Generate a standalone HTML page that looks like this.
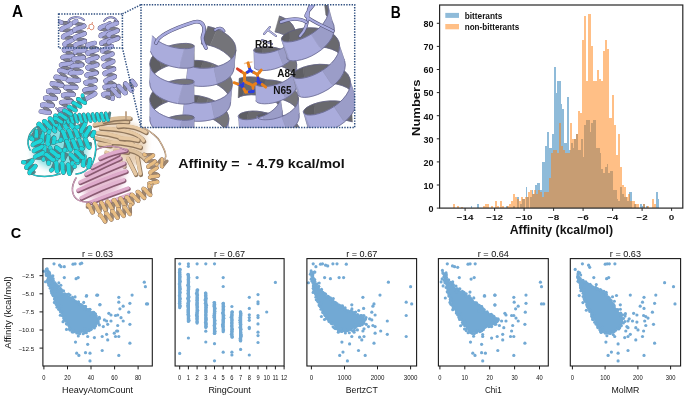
<!DOCTYPE html>
<html><head><meta charset="utf-8"><style>
html,body{margin:0;padding:0;background:#fff;width:686px;height:397px;overflow:hidden}
svg{display:block;filter:blur(0.35px)}
</style></head><body>
<svg width="686" height="397" viewBox="0 0 686 397">
<rect width="686" height="397" fill="#fff"/>
<defs><filter id="blur3" x="-20%" y="-20%" width="140%" height="140%"><feGaussianBlur stdDeviation="3"/></filter></defs>
<path d="M98,127 C112,121 132,121 141,130 C150,140 145,156 139,165 C130,168 120,160 114,153 C106,146 98,138 98,127Z" fill="#e6cfb4" filter="url(#blur3)"/>
<path d="M94.3,124.7 Q111,120 127.6,121.5" fill="none" stroke="#8f765c" stroke-width="4.4" stroke-linecap="round" transform="translate(0.6,1.0)"/><path d="M94.3,124.7 Q111,120 127.6,121.5" fill="none" stroke="#dcc09c" stroke-width="3.4" stroke-linecap="round"/>
<path d="M100.6,127.9 Q137,129.5 143.5,140.6" fill="none" stroke="#8f765c" stroke-width="4.4" stroke-linecap="round" transform="translate(0.6,1.0)"/><path d="M100.6,127.9 Q137,129.5 143.5,140.6" fill="none" stroke="#e6c8a2" stroke-width="3.4" stroke-linecap="round"/>
<path d="M97.5,132.6 Q119.7,134.2 132.4,143.7" fill="none" stroke="#8f765c" stroke-width="4.4" stroke-linecap="round" transform="translate(0.6,1.0)"/><path d="M97.5,132.6 Q119.7,134.2 132.4,143.7" fill="none" stroke="#e6c8a2" stroke-width="3.4" stroke-linecap="round"/>
<path d="M94.3,137.4 L111.7,142.2" fill="none" stroke="#8f765c" stroke-width="4.4" stroke-linecap="round" transform="translate(0.6,1.0)"/><path d="M94.3,137.4 L111.7,142.2" fill="none" stroke="#dcc09c" stroke-width="3.4" stroke-linecap="round"/>
<path d="M111.7,142.2 Q126,142 140.3,146.9" fill="none" stroke="#8f765c" stroke-width="4.4" stroke-linecap="round" transform="translate(0.6,1.0)"/><path d="M111.7,142.2 Q126,142 140.3,146.9" fill="none" stroke="#e6c8a2" stroke-width="3.4" stroke-linecap="round"/>
<path d="M99,143.7 L110.2,145.3" fill="none" stroke="#8f765c" stroke-width="4.4" stroke-linecap="round" transform="translate(0.6,1.0)"/><path d="M99,143.7 L110.2,145.3" fill="none" stroke="#e6c8a2" stroke-width="3.4" stroke-linecap="round"/>
<path d="M114.9,150.1 L127.6,151.7" fill="none" stroke="#8f765c" stroke-width="4.4" stroke-linecap="round" transform="translate(0.6,1.0)"/><path d="M114.9,150.1 L127.6,151.7" fill="none" stroke="#dcc09c" stroke-width="3.4" stroke-linecap="round"/>
<path d="M127.6,158 L135.6,173.9" fill="none" stroke="#8f765c" stroke-width="4.4" stroke-linecap="round" transform="translate(0.6,1.0)"/><path d="M127.6,158 L135.6,173.9" fill="none" stroke="#e6c8a2" stroke-width="3.4" stroke-linecap="round"/>
<path d="M137.1,156.4 L140.3,173.9" fill="none" stroke="#8f765c" stroke-width="4.4" stroke-linecap="round" transform="translate(0.6,1.0)"/><path d="M137.1,156.4 L140.3,173.9" fill="none" stroke="#e6c8a2" stroke-width="3.4" stroke-linecap="round"/>
<path d="M104,121 Q116,117 130,118" fill="none" stroke="#8f765c" stroke-width="4.4" stroke-linecap="round" transform="translate(0.6,1.0)"/><path d="M104,121 Q116,117 130,118" fill="none" stroke="#dcc09c" stroke-width="3.4" stroke-linecap="round"/>
<path d="M118,126 Q132,124 146,132" fill="none" stroke="#8f765c" stroke-width="4.4" stroke-linecap="round" transform="translate(0.6,1.0)"/><path d="M118,126 Q132,124 146,132" fill="none" stroke="#e6c8a2" stroke-width="3.4" stroke-linecap="round"/>
<path d="M106,152 Q118,156 124,166" fill="none" stroke="#8f765c" stroke-width="4.4" stroke-linecap="round" transform="translate(0.6,1.0)"/><path d="M106,152 Q118,156 124,166" fill="none" stroke="#e6c8a2" stroke-width="3.4" stroke-linecap="round"/>
<path d="M130,150 Q140,152 146,160" fill="none" stroke="#8f765c" stroke-width="4.4" stroke-linecap="round" transform="translate(0.6,1.0)"/><path d="M130,150 Q140,152 146,160" fill="none" stroke="#dcc09c" stroke-width="3.4" stroke-linecap="round"/>
<path d="M120,138 Q130,138 138,140" fill="none" stroke="#8f765c" stroke-width="4.4" stroke-linecap="round" transform="translate(0.6,1.0)"/><path d="M120,138 Q130,138 138,140" fill="none" stroke="#e6c8a2" stroke-width="3.4" stroke-linecap="round"/>
<path d="M143.5,127.9 C152,132 158,138 159.4,140.6 C164,148 166,152 165.7,156.4 C165,160 164,163 162.5,164.4" fill="none" stroke="#8a7060" stroke-width="1.5" stroke-linecap="round" stroke-linejoin="round"/><path d="M143.5,127.9 C152,132 158,138 159.4,140.6 C164,148 166,152 165.7,156.4 C165,160 164,163 162.5,164.4" fill="none" stroke="#e6c8a2" stroke-width="0.9" stroke-linecap="round" stroke-linejoin="round"/>
<path d="M126,112 L126,119.1" fill="none" stroke="#8a7060" stroke-width="1.6" stroke-linecap="round" stroke-linejoin="round"/><path d="M126,112 L126,119.1" fill="none" stroke="#e6c8a2" stroke-width="1.0" stroke-linecap="round" stroke-linejoin="round"/>
<path d="M145.3,154.9L147.5,154.9L150.3,154.7L152.4,154.8L153.3,155.2M146.2,160.8L147.5,161.1L149.9,161.0L152.6,160.9L154.6,160.9L155.1,161.5M148.2,167.0L149.8,167.2L152.3,167.1L155.0,167.0L156.7,167.1L156.9,167.7M150.3,173.2L152.1,173.3L154.8,173.2L157.4,174.3L158.6,175.2L158.0,175.8M149.8,177.3L150.7,178.1L152.9,179.2L155.5,180.3L157.3,181.2L157.5,181.9" fill="none" stroke="#8a7060" stroke-width="3.3" stroke-linecap="round" stroke-linejoin="round"/><path d="M145.3,154.9L147.5,154.9L150.3,154.7L152.4,154.8L153.3,155.2M146.2,160.8L147.5,161.1L149.9,161.0L152.6,160.9L154.6,160.9L155.1,161.5M148.2,167.0L149.8,167.2L152.3,167.1L155.0,167.0L156.7,167.1L156.9,167.7M150.3,173.2L152.1,173.3L154.8,173.2L157.4,174.3L158.6,175.2L158.0,175.8M149.8,177.3L150.7,178.1L152.9,179.2L155.5,180.3L157.3,181.2L157.5,181.9" fill="none" stroke="#9c8670" stroke-width="2.6" stroke-linecap="round" stroke-linejoin="round"/><path d="M144.3,154.5L145.3,154.9M153.3,155.2L152.5,156.1L150.5,157.4L148.2,158.8L146.5,160.0L146.2,160.8M155.1,161.5L154.1,162.5L151.9,163.8L149.7,165.2L148.2,166.3L148.2,167.0M156.9,167.7L155.6,168.8L153.4,170.2L151.2,171.5L150.0,172.6L150.3,173.2M158.0,175.8L155.9,176.2L153.1,176.4L150.7,176.7L149.8,177.3M157.5,181.9L155.9,182.4L153.2,182.7L150.5,182.9L149.0,183.4" fill="none" stroke="#8a7060" stroke-width="3.9" stroke-linecap="round" stroke-linejoin="round"/><path d="M144.3,154.5L145.3,154.9M153.3,155.2L152.5,156.1L150.5,157.4L148.2,158.8L146.5,160.0L146.2,160.8M155.1,161.5L154.1,162.5L151.9,163.8L149.7,165.2L148.2,166.3L148.2,167.0M156.9,167.7L155.6,168.8L153.4,170.2L151.2,171.5L150.0,172.6L150.3,173.2M158.0,175.8L155.9,176.2L153.1,176.4L150.7,176.7L149.8,177.3M157.5,181.9L155.9,182.4L153.2,182.7L150.5,182.9L149.0,183.4" fill="none" stroke="#e8bd82" stroke-width="3.2" stroke-linecap="round" stroke-linejoin="round"/>
<path d="M157.3,164.1L158.6,162.5L160.0,160.6L161.2,159.2L162.0,159.0M162.2,166.7L163.2,165.6L164.7,163.7L166.0,162.0L167.0,161.1" fill="none" stroke="#8a7060" stroke-width="3.1" stroke-linecap="round" stroke-linejoin="round"/><path d="M157.3,164.1L158.6,162.5L160.0,160.6L161.2,159.2L162.0,159.0M162.2,166.7L163.2,165.6L164.7,163.7L166.0,162.0L167.0,161.1" fill="none" stroke="#9c8670" stroke-width="2.4" stroke-linecap="round" stroke-linejoin="round"/><path d="M156.4,164.5L157.3,164.1M162.0,159.0L162.1,160.3L161.9,162.5L161.6,164.8L161.6,166.4L162.2,166.7" fill="none" stroke="#8a7060" stroke-width="3.7" stroke-linecap="round" stroke-linejoin="round"/><path d="M156.4,164.5L157.3,164.1M162.0,159.0L162.1,160.3L161.9,162.5L161.6,164.8L161.6,166.4L162.2,166.7" fill="none" stroke="#e8bd82" stroke-width="3.0" stroke-linecap="round" stroke-linejoin="round"/>
<path d="M153,184 C152,188 151,189 151.4,189.6" fill="none" stroke="#8a7060" stroke-width="1.5" stroke-linecap="round" stroke-linejoin="round"/><path d="M153,184 C152,188 151,189 151.4,189.6" fill="none" stroke="#e8bd82" stroke-width="0.9" stroke-linecap="round" stroke-linejoin="round"/>
<path d="M82,185 C86,172 98,162 114,158 C123,158 126,166 124,177 C122,188 114,195 100,200 C91,201 82,195 82,185Z" fill="#e6c0d4" filter="url(#blur3)"/>
<path d="M81.2,197.8 Q102,187 123.7,179.8" fill="none" stroke="#8a5a72" stroke-width="4.4" stroke-linecap="round" transform="translate(0.6,1.0)"/><path d="M81.2,197.8 Q102,187 123.7,179.8" fill="none" stroke="#e2b4d0" stroke-width="3.4" stroke-linecap="round"/>
<path d="M78,190 Q100,180 126,171" fill="none" stroke="#8a5a72" stroke-width="4.4" stroke-linecap="round" transform="translate(0.6,1.0)"/><path d="M78,190 Q100,180 126,171" fill="none" stroke="#deaacb" stroke-width="3.4" stroke-linecap="round"/>
<path d="M80,182 Q102,172 124,163" fill="none" stroke="#8a5a72" stroke-width="4.4" stroke-linecap="round" transform="translate(0.6,1.0)"/><path d="M80,182 Q102,172 124,163" fill="none" stroke="#e2b4d0" stroke-width="3.4" stroke-linecap="round"/>
<path d="M86,174 Q104,165 120,158" fill="none" stroke="#8a5a72" stroke-width="4.4" stroke-linecap="round" transform="translate(0.6,1.0)"/><path d="M86,174 Q104,165 120,158" fill="none" stroke="#deaacb" stroke-width="3.4" stroke-linecap="round"/>
<path d="M92,167 Q106,160 118,154" fill="none" stroke="#8a5a72" stroke-width="4.4" stroke-linecap="round" transform="translate(0.6,1.0)"/><path d="M92,167 Q106,160 118,154" fill="none" stroke="#e2b4d0" stroke-width="3.4" stroke-linecap="round"/>
<path d="M88,203 Q108,195 128,188" fill="none" stroke="#8a5a72" stroke-width="4.4" stroke-linecap="round" transform="translate(0.6,1.0)"/><path d="M88,203 Q108,195 128,188" fill="none" stroke="#deaacb" stroke-width="3.4" stroke-linecap="round"/>
<path d="M98,206 Q114,200 130,194" fill="none" stroke="#8a5a72" stroke-width="4.4" stroke-linecap="round" transform="translate(0.6,1.0)"/><path d="M98,206 Q114,200 130,194" fill="none" stroke="#e2b4d0" stroke-width="3.4" stroke-linecap="round"/>
<path d="M100,158 Q112,152 126,150" fill="none" stroke="#8a5a72" stroke-width="4.4" stroke-linecap="round" transform="translate(0.6,1.0)"/><path d="M100,158 Q112,152 126,150" fill="none" stroke="#deaacb" stroke-width="3.4" stroke-linecap="round"/>
<path d="M76,178 C70,188 72,196 78,200 C84,204 90,200 92,204" fill="none" stroke="#8a6678" stroke-width="1.5" stroke-linecap="round" stroke-linejoin="round"/><path d="M76,178 C70,188 72,196 78,200 C84,204 90,200 92,204" fill="none" stroke="#deaacb" stroke-width="0.9" stroke-linecap="round" stroke-linejoin="round"/>
<path d="M96,150 C106,144 118,146 126,150" fill="none" stroke="#8a6678" stroke-width="1.4" stroke-linecap="round" stroke-linejoin="round"/><path d="M96,150 C106,144 118,146 126,150" fill="none" stroke="#deaacb" stroke-width="0.8" stroke-linecap="round" stroke-linejoin="round"/>
<path d="M33,141 C36,129 52,124 68,126 C82,129 88,141 87,154 C85,164 76,170 63,170 C49,170 36,165 33,154Z" fill="#8adfe2" filter="url(#blur3)"/>
<path d="M30,150 C26,142 28,132 38,126 M28,162 C26,170 30,175 38,176 C46,177 54,176 60,174 M76,174 C82,174 88,170 90,165" fill="none" stroke="#3f7378" stroke-width="1.6" stroke-linecap="round" stroke-linejoin="round"/><path d="M30,150 C26,142 28,132 38,126 M28,162 C26,170 30,175 38,176 C46,177 54,176 60,174 M76,174 C82,174 88,170 90,165" fill="none" stroke="#1cd6da" stroke-width="1.0" stroke-linecap="round" stroke-linejoin="round"/>
<path d="M92,132 C98,145 96,158 90,168" fill="none" stroke="#3f7378" stroke-width="1.6" stroke-linecap="round" stroke-linejoin="round"/><path d="M92,132 C98,145 96,158 90,168" fill="none" stroke="#1cd6da" stroke-width="1.0" stroke-linecap="round" stroke-linejoin="round"/>
<path d="M50,158 L70,148 M48,144 L72,138 M56,154 L80,146" fill="none" stroke="#3f7378" stroke-width="3.0" stroke-linecap="round" stroke-linejoin="round"/><path d="M50,158 L70,148 M48,144 L72,138 M56,154 L80,146" fill="none" stroke="#1cd6da" stroke-width="2.4" stroke-linecap="round" stroke-linejoin="round"/>
<path d="M149.2,186.7L149.6,189.1L150.3,191.8L150.6,194.1L150.4,195.0M143.4,188.7L143.3,190.0L143.8,192.5L144.5,195.2L144.7,197.3L144.3,198.0M137.5,191.7L137.5,193.3L138.0,195.9L138.6,198.6L138.8,200.5L138.3,200.9M131.5,194.9L131.7,196.6L132.2,199.3L132.8,201.9L132.9,203.6L132.2,203.8M126.4,197.3L126.2,199.2L126.1,202.0L126.0,204.6L125.7,206.1L125.0,206.0M120.0,198.9L119.7,200.8L119.7,203.5L119.6,206.1L119.2,207.6L118.5,207.4M113.5,200.4L113.3,202.4L113.2,205.1L113.1,207.7L112.8,209.1L112.1,208.9M107.1,201.9L107.0,203.9L106.8,206.8L106.5,209.3L106.0,210.6L105.2,210.1M101.2,202.5L100.7,203.5L100.4,205.9L100.2,208.8L99.9,211.0L99.3,211.7M94.5,203.7L94.0,205.2L93.8,207.9L93.6,210.7L93.2,212.5L92.5,212.6M87.8,205.1L87.4,207.1" fill="none" stroke="#8a7060" stroke-width="3.4" stroke-linecap="round" stroke-linejoin="round"/><path d="M149.2,186.7L149.6,189.1L150.3,191.8L150.6,194.1L150.4,195.0M143.4,188.7L143.3,190.0L143.8,192.5L144.5,195.2L144.7,197.3L144.3,198.0M137.5,191.7L137.5,193.3L138.0,195.9L138.6,198.6L138.8,200.5L138.3,200.9M131.5,194.9L131.7,196.6L132.2,199.3L132.8,201.9L132.9,203.6L132.2,203.8M126.4,197.3L126.2,199.2L126.1,202.0L126.0,204.6L125.7,206.1L125.0,206.0M120.0,198.9L119.7,200.8L119.7,203.5L119.6,206.1L119.2,207.6L118.5,207.4M113.5,200.4L113.3,202.4L113.2,205.1L113.1,207.7L112.8,209.1L112.1,208.9M107.1,201.9L107.0,203.9L106.8,206.8L106.5,209.3L106.0,210.6L105.2,210.1M101.2,202.5L100.7,203.5L100.4,205.9L100.2,208.8L99.9,211.0L99.3,211.7M94.5,203.7L94.0,205.2L93.8,207.9L93.6,210.7L93.2,212.5L92.5,212.6M87.8,205.1L87.4,207.1" fill="none" stroke="#9c8670" stroke-width="2.7" stroke-linecap="round" stroke-linejoin="round"/><path d="M149.4,185.7L149.2,186.7M150.4,195.0L149.3,194.4L147.7,192.6L145.8,190.5L144.3,188.9L143.4,188.7M144.3,198.0L143.2,197.2L141.5,195.2L139.7,193.1L138.2,191.7L137.5,191.7M138.3,200.9L137.0,199.9L135.3,197.8L133.5,195.8L132.1,194.6L131.5,194.9M132.2,203.8L130.9,202.5L129.1,200.4L128.0,198.2L127.0,197.0L126.4,197.3M125.0,206.0L123.9,204.4L122.7,201.9L121.5,199.6L120.5,198.4L120.0,198.9M118.5,207.4L117.5,205.8L116.2,203.3L115.0,201.0L114.1,199.9L113.5,200.4M112.1,208.9L111.0,207.2L109.7,204.7L108.5,202.5L107.6,201.4L107.1,201.9M105.2,210.1L104.2,208.1L103.1,205.4L102.0,203.2L101.2,202.5M99.3,211.7L98.4,210.6L97.3,208.3L96.2,205.7L95.2,203.9L94.5,203.7M92.5,212.6L91.6,211.1L90.5,208.6L89.3,206.1L88.4,204.7L87.8,205.1" fill="none" stroke="#8a7060" stroke-width="4.1" stroke-linecap="round" stroke-linejoin="round"/><path d="M149.4,185.7L149.2,186.7M150.4,195.0L149.3,194.4L147.7,192.6L145.8,190.5L144.3,188.9L143.4,188.7M144.3,198.0L143.2,197.2L141.5,195.2L139.7,193.1L138.2,191.7L137.5,191.7M138.3,200.9L137.0,199.9L135.3,197.8L133.5,195.8L132.1,194.6L131.5,194.9M132.2,203.8L130.9,202.5L129.1,200.4L128.0,198.2L127.0,197.0L126.4,197.3M125.0,206.0L123.9,204.4L122.7,201.9L121.5,199.6L120.5,198.4L120.0,198.9M118.5,207.4L117.5,205.8L116.2,203.3L115.0,201.0L114.1,199.9L113.5,200.4M112.1,208.9L111.0,207.2L109.7,204.7L108.5,202.5L107.6,201.4L107.1,201.9M105.2,210.1L104.2,208.1L103.1,205.4L102.0,203.2L101.2,202.5M99.3,211.7L98.4,210.6L97.3,208.3L96.2,205.7L95.2,203.9L94.5,203.7M92.5,212.6L91.6,211.1L90.5,208.6L89.3,206.1L88.4,204.7L87.8,205.1" fill="none" stroke="#e8bd82" stroke-width="3.4" stroke-linecap="round" stroke-linejoin="round"/>
<path d="M31.4,137.5L32.8,135.6L34.3,133.2L35.6,131.4L36.5,131.0M36.5,140.3L37.5,139.3L38.9,137.3L40.4,134.9L41.7,133.3L42.4,133.2M42.4,142.3L43.5,141.1L45.0,138.9L46.5,136.6L47.7,135.3L48.3,135.5M48.4,144.3L49.7,142.8L51.2,140.5L52.6,138.4L53.7,137.3L54.2,137.8" fill="none" stroke="#3f7378" stroke-width="3.7" stroke-linecap="round" stroke-linejoin="round"/><path d="M31.4,137.5L32.8,135.6L34.3,133.2L35.6,131.4L36.5,131.0M36.5,140.3L37.5,139.3L38.9,137.3L40.4,134.9L41.7,133.3L42.4,133.2M42.4,142.3L43.5,141.1L45.0,138.9L46.5,136.6L47.7,135.3L48.3,135.5M48.4,144.3L49.7,142.8L51.2,140.5L52.6,138.4L53.7,137.3L54.2,137.8" fill="none" stroke="#55868a" stroke-width="3.0" stroke-linecap="round" stroke-linejoin="round"/><path d="M30.5,138.1L31.4,137.5M36.5,131.0L36.7,132.1L36.5,134.6L36.1,137.4L36.0,139.5L36.5,140.3M42.4,133.2L42.5,134.7L42.3,137.3L41.9,140.0L41.9,141.9L42.4,142.3M48.3,135.5L48.3,137.3L48.0,140.0L47.7,142.6L47.8,144.3L48.4,144.3M54.2,137.8L54.1,139.9L53.8,142.7" fill="none" stroke="#3f7378" stroke-width="4.5" stroke-linecap="round" stroke-linejoin="round"/><path d="M30.5,138.1L31.4,137.5M36.5,131.0L36.7,132.1L36.5,134.6L36.1,137.4L36.0,139.5L36.5,140.3M42.4,133.2L42.5,134.7L42.3,137.3L41.9,140.0L41.9,141.9L42.4,142.3M48.3,135.5L48.3,137.3L48.0,140.0L47.7,142.6L47.8,144.3L48.4,144.3M54.2,137.8L54.1,139.9L53.8,142.7" fill="none" stroke="#1cd6da" stroke-width="3.8" stroke-linecap="round" stroke-linejoin="round"/>
<path d="M49.3,131.3L49.5,129.0L49.6,126.2L49.8,123.9L50.3,123.1M55.0,131.1L55.4,129.9L55.6,127.4L55.7,124.6L55.9,122.5L56.5,121.9M61.2,129.8L61.5,128.4L61.7,125.7L61.8,123.0L62.1,121.1L62.7,120.9M67.4,128.5L67.7,126.8L67.8,124.1L67.9,121.4L68.2,119.8L68.9,119.8M73.5,127.2L73.8,125.2L73.9,122.4" fill="none" stroke="#3f7378" stroke-width="3.7" stroke-linecap="round" stroke-linejoin="round"/><path d="M49.3,131.3L49.5,129.0L49.6,126.2L49.8,123.9L50.3,123.1M55.0,131.1L55.4,129.9L55.6,127.4L55.7,124.6L55.9,122.5L56.5,121.9M61.2,129.8L61.5,128.4L61.7,125.7L61.8,123.0L62.1,121.1L62.7,120.9M67.4,128.5L67.7,126.8L67.8,124.1L67.9,121.4L68.2,119.8L68.9,119.8M73.5,127.2L73.8,125.2L73.9,122.4" fill="none" stroke="#55868a" stroke-width="3.0" stroke-linecap="round" stroke-linejoin="round"/><path d="M48.8,132.3L49.3,131.3M50.3,123.1L51.1,124.0L52.1,126.1L53.3,128.7L54.3,130.6L55.0,131.1M56.5,121.9L57.3,123.1L58.4,125.4L59.5,127.9L60.5,129.7L61.2,129.8M62.7,120.9L63.6,122.2L64.7,124.7L65.8,127.1L66.7,128.6L67.4,128.5M68.9,119.8L69.8,121.4L71.0,123.9L72.1,126.3L73.0,127.6L73.5,127.2" fill="none" stroke="#3f7378" stroke-width="4.5" stroke-linecap="round" stroke-linejoin="round"/><path d="M48.8,132.3L49.3,131.3M50.3,123.1L51.1,124.0L52.1,126.1L53.3,128.7L54.3,130.6L55.0,131.1M56.5,121.9L57.3,123.1L58.4,125.4L59.5,127.9L60.5,129.7L61.2,129.8M62.7,120.9L63.6,122.2L64.7,124.7L65.8,127.1L66.7,128.6L67.4,128.5M68.9,119.8L69.8,121.4L71.0,123.9L72.1,126.3L73.0,127.6L73.5,127.2" fill="none" stroke="#1cd6da" stroke-width="3.8" stroke-linecap="round" stroke-linejoin="round"/>
<path d="M61.0,139.5L61.4,137.2L61.7,134.4L62.1,132.1L62.6,131.3M66.7,139.7L67.2,138.7L67.6,136.3L67.9,133.5L68.2,131.4L68.8,130.6M72.9,138.9L73.4,137.9L73.7,135.5L74.0,132.7L74.4,130.6L75.0,129.9M79.1,138.2L79.6,137.1L79.9,134.6L80.2,131.9L80.6,129.8L81.2,129.2M85.3,137.5L85.7,136.2L86.1,133.8" fill="none" stroke="#3f7378" stroke-width="3.7" stroke-linecap="round" stroke-linejoin="round"/><path d="M61.0,139.5L61.4,137.2L61.7,134.4L62.1,132.1L62.6,131.3M66.7,139.7L67.2,138.7L67.6,136.3L67.9,133.5L68.2,131.4L68.8,130.6M72.9,138.9L73.4,137.9L73.7,135.5L74.0,132.7L74.4,130.6L75.0,129.9M79.1,138.2L79.6,137.1L79.9,134.6L80.2,131.9L80.6,129.8L81.2,129.2M85.3,137.5L85.7,136.2L86.1,133.8" fill="none" stroke="#55868a" stroke-width="3.0" stroke-linecap="round" stroke-linejoin="round"/><path d="M60.5,140.4L61.0,139.5M62.6,131.3L63.3,132.1L64.2,134.2L65.1,136.9L66.0,139.0L66.7,139.7M68.8,130.6L69.5,131.5L70.4,133.7L71.3,136.3L72.2,138.3L72.9,138.9M75.0,129.9L75.7,130.8L76.6,133.1L77.5,135.7L78.4,137.7L79.1,138.2M81.2,129.2L81.9,130.2L82.8,132.5L83.7,135.1L84.6,137.0L85.3,137.5" fill="none" stroke="#3f7378" stroke-width="4.5" stroke-linecap="round" stroke-linejoin="round"/><path d="M60.5,140.4L61.0,139.5M62.6,131.3L63.3,132.1L64.2,134.2L65.1,136.9L66.0,139.0L66.7,139.7M68.8,130.6L69.5,131.5L70.4,133.7L71.3,136.3L72.2,138.3L72.9,138.9M75.0,129.9L75.7,130.8L76.6,133.1L77.5,135.7L78.4,137.7L79.1,138.2M81.2,129.2L81.9,130.2L82.8,132.5L83.7,135.1L84.6,137.0L85.3,137.5" fill="none" stroke="#1cd6da" stroke-width="3.8" stroke-linecap="round" stroke-linejoin="round"/>
<path d="M39.8,153.6L40.9,151.6L42.1,149.1L43.2,147.1L44.0,146.4M45.1,155.7L45.9,155.0L47.0,153.0L48.2,150.5L49.3,148.5L50.1,147.8M51.1,157.1L51.9,156.4L53.0,154.3L54.2,151.8L55.3,149.8L56.1,149.2M57.2,158.5L58.0,157.8L59.1,155.7L60.3,153.2L61.4,151.2L62.2,150.6M63.2,159.9L64.0,159.1L65.1,157.1L66.3,154.6" fill="none" stroke="#3f7378" stroke-width="3.7" stroke-linecap="round" stroke-linejoin="round"/><path d="M39.8,153.6L40.9,151.6L42.1,149.1L43.2,147.1L44.0,146.4M45.1,155.7L45.9,155.0L47.0,153.0L48.2,150.5L49.3,148.5L50.1,147.8M51.1,157.1L51.9,156.4L53.0,154.3L54.2,151.8L55.3,149.8L56.1,149.2M57.2,158.5L58.0,157.8L59.1,155.7L60.3,153.2L61.4,151.2L62.2,150.6M63.2,159.9L64.0,159.1L65.1,157.1L66.3,154.6" fill="none" stroke="#55868a" stroke-width="3.0" stroke-linecap="round" stroke-linejoin="round"/><path d="M39.0,154.3L39.8,153.6M44.0,146.4L44.4,147.4L44.5,149.7L44.5,152.5L44.6,154.7L45.1,155.7M50.1,147.8L50.5,148.8L50.6,151.1L50.6,153.9L50.7,156.1L51.1,157.1M56.1,149.2L56.5,150.2L56.6,152.5L56.6,155.3L56.7,157.6L57.2,158.5M62.2,150.6L62.6,151.6L62.7,153.9L62.7,156.7L62.8,159.0L63.2,159.9" fill="none" stroke="#3f7378" stroke-width="4.5" stroke-linecap="round" stroke-linejoin="round"/><path d="M39.0,154.3L39.8,153.6M44.0,146.4L44.4,147.4L44.5,149.7L44.5,152.5L44.6,154.7L45.1,155.7M50.1,147.8L50.5,148.8L50.6,151.1L50.6,153.9L50.7,156.1L51.1,157.1M56.1,149.2L56.5,150.2L56.6,152.5L56.6,155.3L56.7,157.6L57.2,158.5M62.2,150.6L62.6,151.6L62.7,153.9L62.7,156.7L62.8,159.0L63.2,159.9" fill="none" stroke="#1cd6da" stroke-width="3.8" stroke-linecap="round" stroke-linejoin="round"/>
<path d="M65.0,149.5L65.4,147.2L65.7,144.4L66.1,142.1L66.6,141.3M70.7,149.7L71.2,148.7L71.6,146.3L71.9,143.5L72.2,141.4L72.8,140.6M76.9,148.9L77.4,147.9L77.7,145.5L78.0,142.7L78.4,140.6L79.0,139.9M83.1,148.2L83.6,147.1L83.9,144.6L84.2,141.9L84.6,139.8L85.2,139.2M89.3,147.5L89.7,146.2L90.1,143.8" fill="none" stroke="#3f7378" stroke-width="3.7" stroke-linecap="round" stroke-linejoin="round"/><path d="M65.0,149.5L65.4,147.2L65.7,144.4L66.1,142.1L66.6,141.3M70.7,149.7L71.2,148.7L71.6,146.3L71.9,143.5L72.2,141.4L72.8,140.6M76.9,148.9L77.4,147.9L77.7,145.5L78.0,142.7L78.4,140.6L79.0,139.9M83.1,148.2L83.6,147.1L83.9,144.6L84.2,141.9L84.6,139.8L85.2,139.2M89.3,147.5L89.7,146.2L90.1,143.8" fill="none" stroke="#55868a" stroke-width="3.0" stroke-linecap="round" stroke-linejoin="round"/><path d="M64.5,150.4L65.0,149.5M66.6,141.3L67.3,142.1L68.2,144.2L69.1,146.9L70.0,149.0L70.7,149.7M72.8,140.6L73.5,141.5L74.4,143.7L75.3,146.3L76.2,148.3L76.9,148.9M79.0,139.9L79.7,140.8L80.6,143.1L81.5,145.7L82.4,147.7L83.1,148.2M85.2,139.2L85.9,140.2L86.8,142.5L87.7,145.1L88.6,147.0L89.3,147.5" fill="none" stroke="#3f7378" stroke-width="4.5" stroke-linecap="round" stroke-linejoin="round"/><path d="M64.5,150.4L65.0,149.5M66.6,141.3L67.3,142.1L68.2,144.2L69.1,146.9L70.0,149.0L70.7,149.7M72.8,140.6L73.5,141.5L74.4,143.7L75.3,146.3L76.2,148.3L76.9,148.9M79.0,139.9L79.7,140.8L80.6,143.1L81.5,145.7L82.4,147.7L83.1,148.2M85.2,139.2L85.9,140.2L86.8,142.5L87.7,145.1L88.6,147.0L89.3,147.5" fill="none" stroke="#1cd6da" stroke-width="3.8" stroke-linecap="round" stroke-linejoin="round"/>
<path d="M52.0,169.6L53.0,167.6L54.1,165.0L55.1,162.9L55.8,162.2M57.3,171.4L58.1,170.7L59.1,168.6L60.2,166.0L61.2,164.0L62.0,163.3M63.4,172.6L64.2,171.8L65.2,169.7L66.3,167.1L67.3,165.1L68.1,164.5M69.5,173.7L70.3,172.9L71.3,170.7L72.4,168.2L73.4,166.2L74.2,165.6" fill="none" stroke="#3f7378" stroke-width="3.7" stroke-linecap="round" stroke-linejoin="round"/><path d="M52.0,169.6L53.0,167.6L54.1,165.0L55.1,162.9L55.8,162.2M57.3,171.4L58.1,170.7L59.1,168.6L60.2,166.0L61.2,164.0L62.0,163.3M63.4,172.6L64.2,171.8L65.2,169.7L66.3,167.1L67.3,165.1L68.1,164.5M69.5,173.7L70.3,172.9L71.3,170.7L72.4,168.2L73.4,166.2L74.2,165.6" fill="none" stroke="#55868a" stroke-width="3.0" stroke-linecap="round" stroke-linejoin="round"/><path d="M51.2,170.3L52.0,169.6M55.8,162.2L56.3,163.2L56.5,165.5L56.6,168.3L56.9,170.5L57.3,171.4M62.0,163.3L62.4,164.3L62.6,166.6L62.7,169.4L63.0,171.7L63.4,172.6M68.1,164.5L68.5,165.5L68.7,167.8L68.8,170.6L69.1,172.8L69.5,173.7M74.2,165.6L74.6,166.6" fill="none" stroke="#3f7378" stroke-width="4.5" stroke-linecap="round" stroke-linejoin="round"/><path d="M51.2,170.3L52.0,169.6M55.8,162.2L56.3,163.2L56.5,165.5L56.6,168.3L56.9,170.5L57.3,171.4M62.0,163.3L62.4,164.3L62.6,166.6L62.7,169.4L63.0,171.7L63.4,172.6M68.1,164.5L68.5,165.5L68.7,167.8L68.8,170.6L69.1,172.8L69.5,173.7M74.2,165.6L74.6,166.6" fill="none" stroke="#1cd6da" stroke-width="3.8" stroke-linecap="round" stroke-linejoin="round"/>
<path d="M73.0,159.4L74.6,157.6L76.4,155.4L78.0,153.8L78.8,153.5M77.8,162.7L79.0,161.8L80.7,159.8L82.5,157.6L83.8,156.3L84.5,156.5M83.6,165.4L85.0,164.0L86.8,161.9L88.5,159.9L89.7,159.0L90.0,159.6" fill="none" stroke="#3f7378" stroke-width="3.7" stroke-linecap="round" stroke-linejoin="round"/><path d="M73.0,159.4L74.6,157.6L76.4,155.4L78.0,153.8L78.8,153.5M77.8,162.7L79.0,161.8L80.7,159.8L82.5,157.6L83.8,156.3L84.5,156.5M83.6,165.4L85.0,164.0L86.8,161.9L88.5,159.9L89.7,159.0L90.0,159.6" fill="none" stroke="#55868a" stroke-width="3.0" stroke-linecap="round" stroke-linejoin="round"/><path d="M72.0,159.9L73.0,159.4M78.8,153.5L78.9,154.8L78.4,157.3L77.7,160.1L77.4,162.1L77.8,162.7M84.5,156.5L84.3,158.2L83.7,160.9L83.1,163.6L83.0,165.2L83.6,165.4M90.0,159.6L89.7,161.7L89.0,164.5L88.5,167.0" fill="none" stroke="#3f7378" stroke-width="4.5" stroke-linecap="round" stroke-linejoin="round"/><path d="M72.0,159.9L73.0,159.4M78.8,153.5L78.9,154.8L78.4,157.3L77.7,160.1L77.4,162.1L77.8,162.7M84.5,156.5L84.3,158.2L83.7,160.9L83.1,163.6L83.0,165.2L83.6,165.4M90.0,159.6L89.7,161.7L89.0,164.5L88.5,167.0" fill="none" stroke="#1cd6da" stroke-width="3.8" stroke-linecap="round" stroke-linejoin="round"/>
<path d="M32.6,139.2L34.9,139.5L37.7,139.6L40.0,139.8L40.9,140.3M32.8,144.9L33.8,145.4L36.1,145.6L38.8,145.7L41.1,145.9L42.0,146.4M33.9,151.0L34.9,151.5L37.2,151.7L40.0,151.8L42.2,152.0L43.1,152.5M35.0,157.1L36.0,157.6L38.4,157.8L41.2,157.9L43.4,158.1L44.2,158.6" fill="none" stroke="#3f7378" stroke-width="3.7" stroke-linecap="round" stroke-linejoin="round"/><path d="M32.6,139.2L34.9,139.5L37.7,139.6L40.0,139.8L40.9,140.3M32.8,144.9L33.8,145.4L36.1,145.6L38.8,145.7L41.1,145.9L42.0,146.4M33.9,151.0L34.9,151.5L37.2,151.7L40.0,151.8L42.2,152.0L43.1,152.5M35.0,157.1L36.0,157.6L38.4,157.8L41.2,157.9L43.4,158.1L44.2,158.6" fill="none" stroke="#55868a" stroke-width="3.0" stroke-linecap="round" stroke-linejoin="round"/><path d="M31.7,138.8L32.6,139.2M40.9,140.3L40.2,141.0L38.1,142.0L35.5,143.1L33.5,144.1L32.8,144.9M42.0,146.4L41.2,147.1L39.1,148.2L36.6,149.3L34.6,150.3L33.9,151.0M43.1,152.5L42.3,153.3L40.2,154.3L37.6,155.4L35.6,156.4L35.0,157.1M44.2,158.6L43.4,159.4" fill="none" stroke="#3f7378" stroke-width="4.5" stroke-linecap="round" stroke-linejoin="round"/><path d="M31.7,138.8L32.6,139.2M40.9,140.3L40.2,141.0L38.1,142.0L35.5,143.1L33.5,144.1L32.8,144.9M42.0,146.4L41.2,147.1L39.1,148.2L36.6,149.3L34.6,150.3L33.9,151.0M43.1,152.5L42.3,153.3L40.2,154.3L37.6,155.4L35.6,156.4L35.0,157.1M44.2,158.6L43.4,159.4" fill="none" stroke="#1cd6da" stroke-width="3.8" stroke-linecap="round" stroke-linejoin="round"/>
<path d="M24.3,162.3L26.5,161.7L29.3,160.9L31.4,160.3L32.4,160.5M26.4,167.7L27.7,167.6L30.2,166.9L32.8,166.1L34.9,165.7L35.5,166.0M29.7,173.1L31.2,172.9L33.8,172.1" fill="none" stroke="#3f7378" stroke-width="3.7" stroke-linecap="round" stroke-linejoin="round"/><path d="M24.3,162.3L26.5,161.7L29.3,160.9L31.4,160.3L32.4,160.5M26.4,167.7L27.7,167.6L30.2,166.9L32.8,166.1L34.9,165.7L35.5,166.0M29.7,173.1L31.2,172.9L33.8,172.1" fill="none" stroke="#55868a" stroke-width="3.0" stroke-linecap="round" stroke-linejoin="round"/><path d="M23.2,162.2L24.3,162.3M32.4,160.5L31.8,161.6L30.1,163.3L28.0,165.2L26.6,166.8L26.4,167.7M35.5,166.0L34.7,167.2L32.9,169.0L30.8,170.9L29.6,172.4L29.7,173.1" fill="none" stroke="#3f7378" stroke-width="4.5" stroke-linecap="round" stroke-linejoin="round"/><path d="M23.2,162.2L24.3,162.3M32.4,160.5L31.8,161.6L30.1,163.3L28.0,165.2L26.6,166.8L26.4,167.7M35.5,166.0L34.7,167.2L32.9,169.0L30.8,170.9L29.6,172.4L29.7,173.1" fill="none" stroke="#1cd6da" stroke-width="3.8" stroke-linecap="round" stroke-linejoin="round"/>
<path d="M60.9,114.1L61.3,116.4L61.9,119.2L62.3,121.4L62.1,122.3M55.4,115.8L55.3,117.1L55.8,119.5L56.4,122.3L56.7,124.3L56.4,125.0M49.8,118.6L49.8,120.1L50.3,122.7L50.9,125.4L51.1,127.2L50.6,127.7M44.1,121.4L44.3,123.1L44.9,125.8L45.4,128.4L45.5,130.1L44.9,130.3M38.5,124.3L38.8,126.2L39.4,128.9L39.9,131.5L39.9,132.9" fill="none" stroke="#3f7378" stroke-width="3.7" stroke-linecap="round" stroke-linejoin="round"/><path d="M60.9,114.1L61.3,116.4L61.9,119.2L62.3,121.4L62.1,122.3M55.4,115.8L55.3,117.1L55.8,119.5L56.4,122.3L56.7,124.3L56.4,125.0M49.8,118.6L49.8,120.1L50.3,122.7L50.9,125.4L51.1,127.2L50.6,127.7M44.1,121.4L44.3,123.1L44.9,125.8L45.4,128.4L45.5,130.1L44.9,130.3M38.5,124.3L38.8,126.2L39.4,128.9L39.9,131.5L39.9,132.9" fill="none" stroke="#55868a" stroke-width="3.0" stroke-linecap="round" stroke-linejoin="round"/><path d="M61.1,113.0L60.9,114.1M62.1,122.3L61.1,121.7L59.5,119.9L57.7,117.6L56.2,116.0L55.4,115.8M56.4,125.0L55.2,124.1L53.6,122.2L51.9,120.0L50.5,118.6L49.8,118.6M50.6,127.7L49.4,126.6L47.7,124.5L46.0,122.4L44.7,121.2L44.1,121.4M44.9,130.3L43.6,129.0L41.8,126.8L40.2,124.8L39.0,123.8L38.5,124.3" fill="none" stroke="#3f7378" stroke-width="4.5" stroke-linecap="round" stroke-linejoin="round"/><path d="M61.1,113.0L60.9,114.1M62.1,122.3L61.1,121.7L59.5,119.9L57.7,117.6L56.2,116.0L55.4,115.8M56.4,125.0L55.2,124.1L53.6,122.2L51.9,120.0L50.5,118.6L49.8,118.6M50.6,127.7L49.4,126.6L47.7,124.5L46.0,122.4L44.7,121.2L44.1,121.4M44.9,130.3L43.6,129.0L41.8,126.8L40.2,124.8L39.0,123.8L38.5,124.3" fill="none" stroke="#1cd6da" stroke-width="3.8" stroke-linecap="round" stroke-linejoin="round"/>
<path d="M48.6,162.5L47.7,160.2L46.6,157.6L45.9,155.5L46.0,154.6M53.7,159.8L53.4,158.4L52.5,155.9L51.4,153.3L50.9,151.5L51.3,151.0M58.8,156.0L58.3,154.2L57.2,151.6L56.2,149.1L55.9,147.6L56.6,147.5" fill="none" stroke="#3f7378" stroke-width="3.7" stroke-linecap="round" stroke-linejoin="round"/><path d="M48.6,162.5L47.7,160.2L46.6,157.6L45.9,155.5L46.0,154.6M53.7,159.8L53.4,158.4L52.5,155.9L51.4,153.3L50.9,151.5L51.3,151.0M58.8,156.0L58.3,154.2L57.2,151.6L56.2,149.1L55.9,147.6L56.6,147.5" fill="none" stroke="#55868a" stroke-width="3.0" stroke-linecap="round" stroke-linejoin="round"/><path d="M48.6,163.6L48.6,162.5M46.0,154.6L47.2,155.1L49.1,156.7L51.3,158.6L52.9,159.9L53.7,159.8M51.3,151.0L52.7,151.9L54.8,153.6L56.8,155.4L58.3,156.4L58.8,156.0M56.6,147.5L58.3,148.7L60.4,150.6" fill="none" stroke="#3f7378" stroke-width="4.5" stroke-linecap="round" stroke-linejoin="round"/><path d="M48.6,163.6L48.6,162.5M46.0,154.6L47.2,155.1L49.1,156.7L51.3,158.6L52.9,159.9L53.7,159.8M51.3,151.0L52.7,151.9L54.8,153.6L56.8,155.4L58.3,156.4L58.8,156.0M56.6,147.5L58.3,148.7L60.4,150.6" fill="none" stroke="#1cd6da" stroke-width="3.8" stroke-linecap="round" stroke-linejoin="round"/>
<path d="M72.3,162.8L71.8,160.6L70.9,157.9L70.4,155.7L70.5,154.6M77.6,160.7L77.7,159.7L77.1,157.5L76.3,154.8L75.8,152.6L75.9,151.6M83.0,157.7L83.1,156.6L82.5,154.4L81.7,151.7L81.2,149.5L81.3,148.5" fill="none" stroke="#3f7378" stroke-width="3.7" stroke-linecap="round" stroke-linejoin="round"/><path d="M72.3,162.8L71.8,160.6L70.9,157.9L70.4,155.7L70.5,154.6M77.6,160.7L77.7,159.7L77.1,157.5L76.3,154.8L75.8,152.6L75.9,151.6M83.0,157.7L83.1,156.6L82.5,154.4L81.7,151.7L81.2,149.5L81.3,148.5" fill="none" stroke="#55868a" stroke-width="3.0" stroke-linecap="round" stroke-linejoin="round"/><path d="M72.2,163.8L72.3,162.8M70.5,154.6L71.5,155.1L73.1,156.7L75.0,158.7L76.6,160.3L77.6,160.7M75.9,151.6L76.9,152.0L78.5,153.6L80.4,155.7L82.0,157.3L83.0,157.7M81.3,148.5L82.2,148.9" fill="none" stroke="#3f7378" stroke-width="4.5" stroke-linecap="round" stroke-linejoin="round"/><path d="M72.2,163.8L72.3,162.8M70.5,154.6L71.5,155.1L73.1,156.7L75.0,158.7L76.6,160.3L77.6,160.7M75.9,151.6L76.9,152.0L78.5,153.6L80.4,155.7L82.0,157.3L83.0,157.7M81.3,148.5L82.2,148.9" fill="none" stroke="#1cd6da" stroke-width="3.8" stroke-linecap="round" stroke-linejoin="round"/>
<path d="M77.9,126.9L80.0,125.8L82.4,124.3L84.4,123.2L85.3,123.1M81.3,131.5L82.6,131.2L84.7,130.0L87.1,128.5L88.9,127.5L89.8,127.6M85.8,136.0L87.2,135.5L89.4,134.2L91.7,132.7L93.5,131.8L94.1,132.1" fill="none" stroke="#3f7378" stroke-width="3.7" stroke-linecap="round" stroke-linejoin="round"/><path d="M77.9,126.9L80.0,125.8L82.4,124.3L84.4,123.2L85.3,123.1M81.3,131.5L82.6,131.2L84.7,130.0L87.1,128.5L88.9,127.5L89.8,127.6M85.8,136.0L87.2,135.5L89.4,134.2L91.7,132.7L93.5,131.8L94.1,132.1" fill="none" stroke="#55868a" stroke-width="3.0" stroke-linecap="round" stroke-linejoin="round"/><path d="M76.9,127.1L77.9,126.9M85.3,123.1L85.1,124.2L83.9,126.3L82.4,128.7L81.3,130.7L81.3,131.5M89.8,127.6L89.4,128.9L88.1,131.0L86.6,133.4L85.7,135.2L85.8,136.0M94.1,132.1L93.6,133.5L92.3,135.7" fill="none" stroke="#3f7378" stroke-width="4.5" stroke-linecap="round" stroke-linejoin="round"/><path d="M76.9,127.1L77.9,126.9M85.3,123.1L85.1,124.2L83.9,126.3L82.4,128.7L81.3,130.7L81.3,131.5M89.8,127.6L89.4,128.9L88.1,131.0L86.6,133.4L85.7,135.2L85.8,136.0M94.1,132.1L93.6,133.5L92.3,135.7" fill="none" stroke="#1cd6da" stroke-width="3.8" stroke-linecap="round" stroke-linejoin="round"/>
<path d="M130.2,206.2L130.2,208.4L130.4,211.1L130.4,213.3L130.0,214.2M124.3,207.2L124.0,208.4L124.1,210.8L124.3,213.5L124.2,215.5L123.8,216.1M118.2,209.2L117.9,210.6L118.0,213.1L118.2,215.8L118.1,217.6L117.5,218.0M112.0,211.3L111.8,212.9L112.0,215.5L112.1,218.1L111.9,219.7L111.3,219.8M105.8,213.4L105.7,215.2L105.9,217.9L106.0,220.3L105.8,221.8L105.0,221.6" fill="none" stroke="#8a7060" stroke-width="3.3" stroke-linecap="round" stroke-linejoin="round"/><path d="M130.2,206.2L130.2,208.4L130.4,211.1L130.4,213.3L130.0,214.2M124.3,207.2L124.0,208.4L124.1,210.8L124.3,213.5L124.2,215.5L123.8,216.1M118.2,209.2L117.9,210.6L118.0,213.1L118.2,215.8L118.1,217.6L117.5,218.0M112.0,211.3L111.8,212.9L112.0,215.5L112.1,218.1L111.9,219.7L111.3,219.8M105.8,213.4L105.7,215.2L105.9,217.9L106.0,220.3L105.8,221.8L105.0,221.6" fill="none" stroke="#9c8670" stroke-width="2.6" stroke-linecap="round" stroke-linejoin="round"/><path d="M130.5,205.2L130.2,206.2M130.0,214.2L129.1,213.5L127.8,211.5L126.4,209.2L125.1,207.5L124.3,207.2M123.8,216.1L122.8,215.2L121.4,213.1L120.0,210.8L118.9,209.3L118.2,209.2M117.5,218.0L116.5,216.8L115.1,214.7L113.7,212.4L112.6,211.1L112.0,211.3M111.3,219.8L110.2,218.5L108.8,216.2L107.4,214.1L106.4,213.0L105.8,213.4M105.0,221.6L103.9,220.1L102.5,217.8L101.1,215.7L100.2,214.8L99.7,215.5" fill="none" stroke="#8a7060" stroke-width="3.9" stroke-linecap="round" stroke-linejoin="round"/><path d="M130.5,205.2L130.2,206.2M130.0,214.2L129.1,213.5L127.8,211.5L126.4,209.2L125.1,207.5L124.3,207.2M123.8,216.1L122.8,215.2L121.4,213.1L120.0,210.8L118.9,209.3L118.2,209.2M117.5,218.0L116.5,216.8L115.1,214.7L113.7,212.4L112.6,211.1L112.0,211.3M111.3,219.8L110.2,218.5L108.8,216.2L107.4,214.1L106.4,213.0L105.8,213.4M105.0,221.6L103.9,220.1L102.5,217.8L101.1,215.7L100.2,214.8L99.7,215.5" fill="none" stroke="#e8bd82" stroke-width="3.2" stroke-linecap="round" stroke-linejoin="round"/>
<path d="M61.3,22.5L64.2,22.8L67.5,23.0L70.2,23.3L71.1,23.9M61.6,29.6L63.3,30.1L66.3,30.3L69.7,30.5L72.0,30.9L72.4,31.6M63.2,37.2L65.3,37.6L68.5,37.8L71.7,38.0L73.6,38.5L73.5,39.3M64.9,44.8L67.4,45.2L70.8,45.4L73.7,47.0L74.8,48.0L74.0,48.6M64.6,50.8L67.0,52.0L70.0,53.4L72.5,54.6L73.4,55.6L72.3,56.2M62.5,57.4L63.4,58.4L65.9,59.7L69.0,61.0L71.3,62.2L72.0,63.2M61.1,65.0L62.3,66.0L64.9,67.3L67.9,68.6L70.1,69.8L70.5,70.7M59.3,70.6L60.4,72.1L62.6,74.3L65.0,76.6L66.4,78.3L66.1,79.1M55.6,77.4L56.9,79.1L59.3,81.3L61.5,83.5L62.7,85.1L62.1,85.6M51.9,84.2L53.5,86.1L55.9,88.4L58.2,90.1L59.2,91.3L58.4,91.8M48.5,91.7L50.3,93.3L52.9,95.2L55.2,97.1L56.2,98.3L55.4,98.8M45.4,98.6L47.3,100.2L49.9,102.2L52.2,104.0L53.2,105.3L52.3,105.8M42.4,105.6L44.2,107.2L46.9,109.2L49.2,111.0L50.1,112.3L49.3,112.7" fill="none" stroke="#55557a" stroke-width="3.8" stroke-linecap="round" stroke-linejoin="round"/><path d="M61.3,22.5L64.2,22.8L67.5,23.0L70.2,23.3L71.1,23.9M61.6,29.6L63.3,30.1L66.3,30.3L69.7,30.5L72.0,30.9L72.4,31.6M63.2,37.2L65.3,37.6L68.5,37.8L71.7,38.0L73.6,38.5L73.5,39.3M64.9,44.8L67.4,45.2L70.8,45.4L73.7,47.0L74.8,48.0L74.0,48.6M64.6,50.8L67.0,52.0L70.0,53.4L72.5,54.6L73.4,55.6L72.3,56.2M62.5,57.4L63.4,58.4L65.9,59.7L69.0,61.0L71.3,62.2L72.0,63.2M61.1,65.0L62.3,66.0L64.9,67.3L67.9,68.6L70.1,69.8L70.5,70.7M59.3,70.6L60.4,72.1L62.6,74.3L65.0,76.6L66.4,78.3L66.1,79.1M55.6,77.4L56.9,79.1L59.3,81.3L61.5,83.5L62.7,85.1L62.1,85.6M51.9,84.2L53.5,86.1L55.9,88.4L58.2,90.1L59.2,91.3L58.4,91.8M48.5,91.7L50.3,93.3L52.9,95.2L55.2,97.1L56.2,98.3L55.4,98.8M45.4,98.6L47.3,100.2L49.9,102.2L52.2,104.0L53.2,105.3L52.3,105.8M42.4,105.6L44.2,107.2L46.9,109.2L49.2,111.0L50.1,112.3L49.3,112.7" fill="none" stroke="#80808c" stroke-width="3.1" stroke-linecap="round" stroke-linejoin="round"/><path d="M60.2,21.9L61.3,22.5M71.1,23.9L70.0,24.9L67.3,26.2L64.2,27.5L62.0,28.7L61.6,29.6M72.4,31.6L70.8,32.7L67.9,34.0L64.9,35.3L63.1,36.4L63.2,37.2M73.5,39.3L71.5,40.5L68.5,41.8L65.7,43.1L64.3,44.2L64.9,44.8M74.0,48.6L71.4,48.9L68.1,49.1L65.2,49.3L63.9,49.9L64.6,50.8M72.3,56.2L69.6,56.4L66.3,56.6L63.6,56.8L62.5,57.4M72.0,63.2L70.6,63.7L67.8,63.9L64.4,64.1L61.9,64.4L61.1,65.0M70.5,70.7L68.5,72.3L65.6,71.6L62.4,70.6L60.1,70.1L59.3,70.6M66.1,79.1L64.2,78.8L61.1,77.9L58.0,77.0L56.0,76.7L55.6,77.4M62.1,85.6L59.8,85.2L56.7,84.3L53.7,83.5L51.9,83.4L51.9,84.2M58.4,91.8L56.0,91.6L52.8,91.0L49.8,90.6L48.3,90.7L48.5,91.7M55.4,98.8L52.9,98.6L49.7,98.0L46.8,97.6L45.2,97.7L45.4,98.6M52.3,105.8L49.9,105.5L46.7,105.0L43.8,104.5L42.2,104.7L42.4,105.6M49.3,112.7L46.9,112.5L43.7,111.9L40.8,111.5" fill="none" stroke="#55557a" stroke-width="4.6" stroke-linecap="round" stroke-linejoin="round"/><path d="M60.2,21.9L61.3,22.5M71.1,23.9L70.0,24.9L67.3,26.2L64.2,27.5L62.0,28.7L61.6,29.6M72.4,31.6L70.8,32.7L67.9,34.0L64.9,35.3L63.1,36.4L63.2,37.2M73.5,39.3L71.5,40.5L68.5,41.8L65.7,43.1L64.3,44.2L64.9,44.8M74.0,48.6L71.4,48.9L68.1,49.1L65.2,49.3L63.9,49.9L64.6,50.8M72.3,56.2L69.6,56.4L66.3,56.6L63.6,56.8L62.5,57.4M72.0,63.2L70.6,63.7L67.8,63.9L64.4,64.1L61.9,64.4L61.1,65.0M70.5,70.7L68.5,72.3L65.6,71.6L62.4,70.6L60.1,70.1L59.3,70.6M66.1,79.1L64.2,78.8L61.1,77.9L58.0,77.0L56.0,76.7L55.6,77.4M62.1,85.6L59.8,85.2L56.7,84.3L53.7,83.5L51.9,83.4L51.9,84.2M58.4,91.8L56.0,91.6L52.8,91.0L49.8,90.6L48.3,90.7L48.5,91.7M55.4,98.8L52.9,98.6L49.7,98.0L46.8,97.6L45.2,97.7L45.4,98.6M52.3,105.8L49.9,105.5L46.7,105.0L43.8,104.5L42.2,104.7L42.4,105.6M49.3,112.7L46.9,112.5L43.7,111.9L40.8,111.5" fill="none" stroke="#a8aadf" stroke-width="3.9" stroke-linecap="round" stroke-linejoin="round"/>
<path d="M74.1,22.8L75.9,23.5L79.0,24.1L82.1,24.7L84.1,25.3L84.3,26.1M74.6,30.4L76.5,31.1L79.6,31.7L82.7,32.3L84.6,33.0L84.6,33.7M75.0,38.1L77.1,38.7L80.3,39.3L83.3,39.9L85.1,40.6L84.9,41.4M75.5,45.7L77.7,46.4L80.9,47.0L83.9,47.6L85.6,48.3L85.1,50.2M75.2,52.2L77.4,53.4L80.4,54.8L83.1,56.1L84.3,57.1L83.5,57.7M74.0,59.8L76.3,61.0L79.4,62.4L81.9,63.7L82.9,64.6L81.8,65.2M71.9,66.5L72.8,67.4L75.3,68.7L78.3,70.0L80.7,71.3L81.4,72.2M70.5,73.2L71.5,74.4L73.9,76.1L76.7,77.9L78.7,79.4L78.9,80.3M68.0,80.5L69.2,81.8L71.8,83.5L74.5,85.3L76.3,86.7L76.3,87.6M65.5,87.8L67.0,89.2L69.7,91.0L72.3,92.7L73.9,94.1L73.5,94.8M63.3,95.8L65.3,97.1L68.3,98.6L71.0,100.1L72.1,101.2L71.1,101.8M61.1,102.5L62.0,103.6L64.6,105.0L67.6,106.6L69.8,108.0L70.1,108.9M59.3,110.3L61.0,111.5L63.9,113.0" fill="none" stroke="#55557a" stroke-width="3.8" stroke-linecap="round" stroke-linejoin="round"/><path d="M74.1,22.8L75.9,23.5L79.0,24.1L82.1,24.7L84.1,25.3L84.3,26.1M74.6,30.4L76.5,31.1L79.6,31.7L82.7,32.3L84.6,33.0L84.6,33.7M75.0,38.1L77.1,38.7L80.3,39.3L83.3,39.9L85.1,40.6L84.9,41.4M75.5,45.7L77.7,46.4L80.9,47.0L83.9,47.6L85.6,48.3L85.1,50.2M75.2,52.2L77.4,53.4L80.4,54.8L83.1,56.1L84.3,57.1L83.5,57.7M74.0,59.8L76.3,61.0L79.4,62.4L81.9,63.7L82.9,64.6L81.8,65.2M71.9,66.5L72.8,67.4L75.3,68.7L78.3,70.0L80.7,71.3L81.4,72.2M70.5,73.2L71.5,74.4L73.9,76.1L76.7,77.9L78.7,79.4L78.9,80.3M68.0,80.5L69.2,81.8L71.8,83.5L74.5,85.3L76.3,86.7L76.3,87.6M65.5,87.8L67.0,89.2L69.7,91.0L72.3,92.7L73.9,94.1L73.5,94.8M63.3,95.8L65.3,97.1L68.3,98.6L71.0,100.1L72.1,101.2L71.1,101.8M61.1,102.5L62.0,103.6L64.6,105.0L67.6,106.6L69.8,108.0L70.1,108.9M59.3,110.3L61.0,111.5L63.9,113.0" fill="none" stroke="#80808c" stroke-width="3.1" stroke-linecap="round" stroke-linejoin="round"/><path d="M76.2,21.1L74.2,22.0L74.1,22.8M84.3,26.1L82.5,27.0L79.4,27.9L76.4,28.8L74.5,29.7L74.6,30.4M84.6,33.7L82.7,34.6L79.6,35.5L76.6,36.5L74.8,37.3L75.0,38.1M84.9,41.4L82.8,42.3L79.7,43.2L76.8,44.1L75.2,45.0L75.5,45.7M85.1,50.2L82.8,50.5L79.5,50.7L76.5,50.9L74.9,51.4L75.2,52.2M83.5,57.7L81.0,58.0L77.7,58.2L74.8,58.4L73.4,58.9L74.0,59.8M81.8,65.2L79.2,65.5L75.8,65.6L73.1,65.9L71.9,66.5M81.4,72.2L80.2,72.7L77.3,73.0L74.1,72.8L71.5,72.7L70.5,73.2M78.9,80.3L77.3,80.6L74.3,80.3L71.0,80.0L68.6,79.9L68.0,80.5M76.3,87.6L74.4,87.7L71.2,87.4L68.0,87.1L65.9,87.1L65.5,87.8M73.5,94.8L71.4,94.8L68.2,94.5L65.0,94.6L63.1,94.9L63.3,95.8M71.1,101.8L68.4,101.9L65.0,101.9L62.2,102.0L61.1,102.5M70.1,108.9L68.4,109.3L65.3,109.3L61.9,109.3L59.7,109.5L59.3,110.3" fill="none" stroke="#55557a" stroke-width="4.6" stroke-linecap="round" stroke-linejoin="round"/><path d="M76.2,21.1L74.2,22.0L74.1,22.8M84.3,26.1L82.5,27.0L79.4,27.9L76.4,28.8L74.5,29.7L74.6,30.4M84.6,33.7L82.7,34.6L79.6,35.5L76.6,36.5L74.8,37.3L75.0,38.1M84.9,41.4L82.8,42.3L79.7,43.2L76.8,44.1L75.2,45.0L75.5,45.7M85.1,50.2L82.8,50.5L79.5,50.7L76.5,50.9L74.9,51.4L75.2,52.2M83.5,57.7L81.0,58.0L77.7,58.2L74.8,58.4L73.4,58.9L74.0,59.8M81.8,65.2L79.2,65.5L75.8,65.6L73.1,65.9L71.9,66.5M81.4,72.2L80.2,72.7L77.3,73.0L74.1,72.8L71.5,72.7L70.5,73.2M78.9,80.3L77.3,80.6L74.3,80.3L71.0,80.0L68.6,79.9L68.0,80.5M76.3,87.6L74.4,87.7L71.2,87.4L68.0,87.1L65.9,87.1L65.5,87.8M73.5,94.8L71.4,94.8L68.2,94.5L65.0,94.6L63.1,94.9L63.3,95.8M71.1,101.8L68.4,101.9L65.0,101.9L62.2,102.0L61.1,102.5M70.1,108.9L68.4,109.3L65.3,109.3L61.9,109.3L59.7,109.5L59.3,110.3" fill="none" stroke="#a8aadf" stroke-width="3.9" stroke-linecap="round" stroke-linejoin="round"/>
<path d="M88.1,46.0L90.5,46.8L93.7,47.6L96.5,48.3L97.8,49.1L97.1,49.9M88.1,53.7L90.6,54.4L93.8,55.2L96.5,56.0L97.8,56.7L97.0,57.5M88.2,61.3L90.7,62.1L93.9,62.8L96.6,63.6L97.8,64.4L97.0,65.1M88.1,68.4L90.5,69.4L93.6,70.6L96.2,71.7L97.2,72.6L96.2,73.2M87.2,75.9L89.6,77.0L92.7,78.2L95.3,79.3L96.2,80.2L95.2,80.8M86.3,83.5L88.8,84.6L91.9,85.8L94.4,86.8L95.2,87.7M84.4,90.2L85.5,92.5L88.4,92.7L92.0,92.7L94.6,92.9L95.2,93.6" fill="none" stroke="#55557a" stroke-width="3.8" stroke-linecap="round" stroke-linejoin="round"/><path d="M88.1,46.0L90.5,46.8L93.7,47.6L96.5,48.3L97.8,49.1L97.1,49.9M88.1,53.7L90.6,54.4L93.8,55.2L96.5,56.0L97.8,56.7L97.0,57.5M88.2,61.3L90.7,62.1L93.9,62.8L96.6,63.6L97.8,64.4L97.0,65.1M88.1,68.4L90.5,69.4L93.6,70.6L96.2,71.7L97.2,72.6L96.2,73.2M87.2,75.9L89.6,77.0L92.7,78.2L95.3,79.3L96.2,80.2L95.2,80.8M86.3,83.5L88.8,84.6L91.9,85.8L94.4,86.8L95.2,87.7M84.4,90.2L85.5,92.5L88.4,92.7L92.0,92.7L94.6,92.9L95.2,93.6" fill="none" stroke="#80808c" stroke-width="3.1" stroke-linecap="round" stroke-linejoin="round"/><path d="M94.8,43.0L91.6,43.8L88.8,44.5L87.4,45.3L88.1,46.0M97.1,49.9L94.7,50.6L91.5,51.4L88.7,52.2L87.4,52.9L88.1,53.7M97.0,57.5L94.6,58.2L91.4,59.0L88.6,59.8L87.4,60.5L88.2,61.3M97.0,65.1L94.5,65.9L91.2,66.6L88.6,66.9L87.4,67.5L88.1,68.4M96.2,73.2L93.6,73.7L90.3,74.0L87.5,74.4L86.4,75.1L87.2,75.9M95.2,80.8L92.5,81.2L89.2,81.6L86.5,82.0L85.4,82.6L86.3,83.5M95.2,87.7L94.1,88.4L91.4,88.8L88.2,89.1L85.5,89.5L84.4,90.2M95.2,93.6L93.6,94.9L90.6,96.4L87.6,98.0L86.0,99.2" fill="none" stroke="#55557a" stroke-width="4.6" stroke-linecap="round" stroke-linejoin="round"/><path d="M94.8,43.0L91.6,43.8L88.8,44.5L87.4,45.3L88.1,46.0M97.1,49.9L94.7,50.6L91.5,51.4L88.7,52.2L87.4,52.9L88.1,53.7M97.0,57.5L94.6,58.2L91.4,59.0L88.6,59.8L87.4,60.5L88.2,61.3M97.0,65.1L94.5,65.9L91.2,66.6L88.6,66.9L87.4,67.5L88.1,68.4M96.2,73.2L93.6,73.7L90.3,74.0L87.5,74.4L86.4,75.1L87.2,75.9M95.2,80.8L92.5,81.2L89.2,81.6L86.5,82.0L85.4,82.6L86.3,83.5M95.2,87.7L94.1,88.4L91.4,88.8L88.2,89.1L85.5,89.5L84.4,90.2M95.2,93.6L93.6,94.9L90.6,96.4L87.6,98.0L86.0,99.2" fill="none" stroke="#a8aadf" stroke-width="3.9" stroke-linecap="round" stroke-linejoin="round"/>
<path d="M99.9,28.3L101.5,28.9L104.5,29.4L107.7,29.9L110.0,30.4L110.4,31.1M100.7,36.0L102.5,36.5L105.5,37.0L108.7,37.5L110.9,38.0L111.1,38.8M101.5,43.6L103.4,44.2L106.6,44.6L109.7,45.1L111.7,45.7L111.8,46.4M102.4,51.2L104.5,51.8L107.6,52.2L110.7,52.7L112.6,53.3L112.4,54.1M103.3,58.9L105.4,59.4L108.6,59.8L111.7,60.2L113.4,60.8L113.2,61.6M104.1,66.4L106.4,67.0L109.6,67.4L112.6,67.8L114.3,68.4L114.0,69.2M105.0,74.0L107.3,74.5L110.5,74.9L113.5,75.4L115.1,76.0L114.8,76.8M105.9,81.6L108.3,82.1L111.5,82.8L114.2,84.1L115.4,85.1L114.7,85.8M105.1,87.8L107.4,89.0L110.4,90.4L113.0,91.7L114.0,92.7L113.0,93.3M103.8,95.4L106.3,96.6L109.3,98.0" fill="none" stroke="#55557a" stroke-width="3.8" stroke-linecap="round" stroke-linejoin="round"/><path d="M99.9,28.3L101.5,28.9L104.5,29.4L107.7,29.9L110.0,30.4L110.4,31.1M100.7,36.0L102.5,36.5L105.5,37.0L108.7,37.5L110.9,38.0L111.1,38.8M101.5,43.6L103.4,44.2L106.6,44.6L109.7,45.1L111.7,45.7L111.8,46.4M102.4,51.2L104.5,51.8L107.6,52.2L110.7,52.7L112.6,53.3L112.4,54.1M103.3,58.9L105.4,59.4L108.6,59.8L111.7,60.2L113.4,60.8L113.2,61.6M104.1,66.4L106.4,67.0L109.6,67.4L112.6,67.8L114.3,68.4L114.0,69.2M105.0,74.0L107.3,74.5L110.5,74.9L113.5,75.4L115.1,76.0L114.8,76.8M105.9,81.6L108.3,82.1L111.5,82.8L114.2,84.1L115.4,85.1L114.7,85.8M105.1,87.8L107.4,89.0L110.4,90.4L113.0,91.7L114.0,92.7L113.0,93.3M103.8,95.4L106.3,96.6L109.3,98.0" fill="none" stroke="#80808c" stroke-width="3.1" stroke-linecap="round" stroke-linejoin="round"/><path d="M109.7,23.5L108.4,24.4L105.6,25.4L102.5,26.5L100.3,27.5L99.9,28.3M110.4,31.1L108.9,32.1L106.0,33.1L103.0,34.2L100.9,35.2L100.7,36.0M111.1,38.8L109.4,39.7L106.5,40.8L103.5,41.8L101.5,42.8L101.5,43.6M111.8,46.4L109.9,47.4L106.9,48.4L104.0,49.5L102.2,50.4L102.4,51.2M112.4,54.1L110.4,55.0L107.4,56.1L104.5,57.2L102.9,58.1L103.3,58.9M113.2,61.6L111.2,62.6L108.1,63.7L105.3,64.8L103.7,65.7L104.1,66.4M114.0,69.2L111.9,70.2L108.8,71.3L106.0,72.4L104.5,73.3L105.0,74.0M114.8,76.8L112.6,77.8L109.5,78.9L106.8,80.0L105.4,80.9L105.9,81.6M114.7,85.8L112.3,86.1L109.0,86.2L106.0,86.4L104.6,86.9L105.1,87.8M113.0,93.3L110.4,93.5L107.1,93.6L104.3,93.9L103.1,94.4L103.8,95.4" fill="none" stroke="#55557a" stroke-width="4.6" stroke-linecap="round" stroke-linejoin="round"/><path d="M109.7,23.5L108.4,24.4L105.6,25.4L102.5,26.5L100.3,27.5L99.9,28.3M110.4,31.1L108.9,32.1L106.0,33.1L103.0,34.2L100.9,35.2L100.7,36.0M111.1,38.8L109.4,39.7L106.5,40.8L103.5,41.8L101.5,42.8L101.5,43.6M111.8,46.4L109.9,47.4L106.9,48.4L104.0,49.5L102.2,50.4L102.4,51.2M112.4,54.1L110.4,55.0L107.4,56.1L104.5,57.2L102.9,58.1L103.3,58.9M113.2,61.6L111.2,62.6L108.1,63.7L105.3,64.8L103.7,65.7L104.1,66.4M114.0,69.2L111.9,70.2L108.8,71.3L106.0,72.4L104.5,73.3L105.0,74.0M114.8,76.8L112.6,77.8L109.5,78.9L106.8,80.0L105.4,80.9L105.9,81.6M114.7,85.8L112.3,86.1L109.0,86.2L106.0,86.4L104.6,86.9L105.1,87.8M113.0,93.3L110.4,93.5L107.1,93.6L104.3,93.9L103.1,94.4L103.8,95.4" fill="none" stroke="#a8aadf" stroke-width="3.9" stroke-linecap="round" stroke-linejoin="round"/>
<path d="M115.4,21.7L117.1,22.3L116.9,23.1M107.9,27.8L110.3,28.4L113.6,28.8L116.6,29.3L118.0,29.9L117.4,30.8M109.0,35.5L111.6,36.0L114.9,36.5L117.7,37.0L118.8,37.6L117.9,38.5" fill="none" stroke="#55557a" stroke-width="3.8" stroke-linecap="round" stroke-linejoin="round"/><path d="M115.4,21.7L117.1,22.3L116.9,23.1M107.9,27.8L110.3,28.4L113.6,28.8L116.6,29.3L118.0,29.9L117.4,30.8M109.0,35.5L111.6,36.0L114.9,36.5L117.7,37.0L118.8,37.6L117.9,38.5" fill="none" stroke="#80808c" stroke-width="3.1" stroke-linecap="round" stroke-linejoin="round"/><path d="M116.9,23.1L114.8,24.1L111.7,25.1L108.8,26.2L107.4,27.1L107.9,27.8M117.4,30.8L115.0,31.8L111.9,32.9L109.2,33.9L108.1,34.8L109.0,35.5M117.9,38.5L115.3,39.5L112.1,40.6L109.6,41.7L108.8,42.5" fill="none" stroke="#55557a" stroke-width="4.6" stroke-linecap="round" stroke-linejoin="round"/><path d="M116.9,23.1L114.8,24.1L111.7,25.1L108.8,26.2L107.4,27.1L107.9,27.8M117.4,30.8L115.0,31.8L111.9,32.9L109.2,33.9L108.1,34.8L109.0,35.5M117.9,38.5L115.3,39.5L112.1,40.6L109.6,41.7L108.8,42.5" fill="none" stroke="#a8aadf" stroke-width="3.9" stroke-linecap="round" stroke-linejoin="round"/>
<path d="M112.8,97.7L112.5,95.2L112.0,92.3L111.8,89.9L112.2,89.0M119.1,95.9L119.2,94.5L118.8,91.8L118.4,88.9L118.2,86.8L118.8,86.2M125.6,93.0L125.6,91.2L125.2,88.4L124.7,85.6L124.7,83.7L125.4,83.5M132.1,89.9L132.0,87.9L131.5,85.0L131.1,82.3L131.2,80.8L132.1,80.9" fill="none" stroke="#55557a" stroke-width="3.7" stroke-linecap="round" stroke-linejoin="round"/><path d="M112.8,97.7L112.5,95.2L112.0,92.3L111.8,89.9L112.2,89.0M119.1,95.9L119.2,94.5L118.8,91.8L118.4,88.9L118.2,86.8L118.8,86.2M125.6,93.0L125.6,91.2L125.2,88.4L124.7,85.6L124.7,83.7L125.4,83.5M132.1,89.9L132.0,87.9L131.5,85.0L131.1,82.3L131.2,80.8L132.1,80.9" fill="none" stroke="#80808c" stroke-width="3.0" stroke-linecap="round" stroke-linejoin="round"/><path d="M112.5,98.8L112.8,97.7M112.2,89.0L113.3,89.7L114.9,91.7L116.7,94.1L118.2,95.7L119.1,95.9M118.8,86.2L120.0,87.3L121.7,89.4L123.5,91.7L124.9,93.2L125.6,93.0M125.4,83.5L126.8,84.9L128.5,87.2L130.3,89.4L131.5,90.5L132.1,89.9M132.1,80.9L133.6,82.6L135.4,84.9" fill="none" stroke="#55557a" stroke-width="4.5" stroke-linecap="round" stroke-linejoin="round"/><path d="M112.5,98.8L112.8,97.7M112.2,89.0L113.3,89.7L114.9,91.7L116.7,94.1L118.2,95.7L119.1,95.9M118.8,86.2L120.0,87.3L121.7,89.4L123.5,91.7L124.9,93.2L125.6,93.0M125.4,83.5L126.8,84.9L128.5,87.2L130.3,89.4L131.5,90.5L132.1,89.9M132.1,80.9L133.6,82.6L135.4,84.9" fill="none" stroke="#a8aadf" stroke-width="3.8" stroke-linecap="round" stroke-linejoin="round"/>
<path d="M68,22 C70,16 80,16 84,20" fill="none" stroke="#55557a" stroke-width="1.7999999999999998" stroke-linecap="round" stroke-linejoin="round"/><path d="M68,22 C70,16 80,16 84,20" fill="none" stroke="#a8aadf" stroke-width="1.2" stroke-linecap="round" stroke-linejoin="round"/>
<path d="M104,21 C108,16 114,16 117,21" fill="none" stroke="#55557a" stroke-width="1.7999999999999998" stroke-linecap="round" stroke-linejoin="round"/><path d="M104,21 C108,16 114,16 117,21" fill="none" stroke="#a8aadf" stroke-width="1.2" stroke-linecap="round" stroke-linejoin="round"/>
<path d="M56,108 C62,116 74,118 84,114" fill="none" stroke="#55557a" stroke-width="1.6" stroke-linecap="round" stroke-linejoin="round"/><path d="M56,108 C62,116 74,118 84,114" fill="none" stroke="#a8aadf" stroke-width="1.0" stroke-linecap="round" stroke-linejoin="round"/>
<g stroke="#d9846a" stroke-width="0.9" fill="none"><path d="M89,25 L92,24 L94,26 L93.5,29 L91,30 L89,28Z M92,24 L92.5,22 M89,28 L87,29"/></g>
<path d="M64.6,121.9L64.9,120.0L65.3,117.8L65.6,116.0L66.0,115.3M68.6,122.4L69.0,121.5L69.4,119.6L69.7,117.4L70.0,115.6L70.4,115.1M73.0,122.1L73.4,121.2L73.8,119.3L74.1,117.0L74.4,115.3L74.9,114.8M77.5,121.8L77.9,120.9L78.2,118.9L78.5,116.6L78.9,115.0L79.3,114.6M81.9,121.6L82.3,120.5L82.6,118.5L82.9,116.3L83.3,114.7L83.7,114.4M86.3,121.3L86.7,120.2L87.0,118.1L87.3,115.9L87.7,114.4L88.1,114.2M90.7,121.0L91.1,119.8L91.4,117.7L91.8,115.5L92.1,114.1L92.6,114.0M95.1,120.8L95.5,119.4L95.8,117.3L96.2,115.1L96.5,113.8L97.0,113.8M99.6,120.5L99.9,119.1L100.3,116.9L100.6,114.8L101.0,113.5L101.4,113.6M104.0,120.2L104.4,118.7L104.7,116.5L105.0,114.4L105.4,113.2L105.8,113.4M108.4,119.9L108.8,118.3L109.1,116.1L109.4,114.1L109.8,113.0" fill="none" stroke="#3f7378" stroke-width="2.9" stroke-linecap="round" stroke-linejoin="round"/><path d="M64.6,121.9L64.9,120.0L65.3,117.8L65.6,116.0L66.0,115.3M68.6,122.4L69.0,121.5L69.4,119.6L69.7,117.4L70.0,115.6L70.4,115.1M73.0,122.1L73.4,121.2L73.8,119.3L74.1,117.0L74.4,115.3L74.9,114.8M77.5,121.8L77.9,120.9L78.2,118.9L78.5,116.6L78.9,115.0L79.3,114.6M81.9,121.6L82.3,120.5L82.6,118.5L82.9,116.3L83.3,114.7L83.7,114.4M86.3,121.3L86.7,120.2L87.0,118.1L87.3,115.9L87.7,114.4L88.1,114.2M90.7,121.0L91.1,119.8L91.4,117.7L91.8,115.5L92.1,114.1L92.6,114.0M95.1,120.8L95.5,119.4L95.8,117.3L96.2,115.1L96.5,113.8L97.0,113.8M99.6,120.5L99.9,119.1L100.3,116.9L100.6,114.8L101.0,113.5L101.4,113.6M104.0,120.2L104.4,118.7L104.7,116.5L105.0,114.4L105.4,113.2L105.8,113.4M108.4,119.9L108.8,118.3L109.1,116.1L109.4,114.1L109.8,113.0" fill="none" stroke="#55868a" stroke-width="2.2" stroke-linecap="round" stroke-linejoin="round"/><path d="M64.2,122.6L64.6,121.9M66.0,115.3L66.5,116.0L67.0,117.8L67.6,120.0L68.1,121.8L68.6,122.4M70.4,115.1L70.9,115.9L71.5,117.7L72.0,119.9L72.6,121.6L73.0,122.1M74.9,114.8L75.4,115.7L75.9,117.6L76.5,119.8L77.0,121.4L77.5,121.8M79.3,114.6L79.8,115.6L80.3,117.5L80.9,119.7L81.4,121.3L81.9,121.6M83.7,114.4L84.2,115.4L84.8,117.5L85.3,119.6L85.9,121.1L86.3,121.3M88.1,114.2L88.6,115.3L89.2,117.4L89.8,119.5L90.3,120.9L90.7,121.0M92.6,114.0L93.1,115.2L93.6,117.3L94.2,119.4L94.7,120.7L95.1,120.8M97.0,113.8L97.5,115.1L98.1,117.2L98.6,119.3L99.1,120.5L99.6,120.5M101.4,113.6L101.9,115.0L102.5,117.1L103.0,119.2L103.6,120.3L104.0,120.2M105.8,113.4L106.4,114.9L106.9,117.0L107.5,119.0L108.0,120.1L108.4,119.9" fill="none" stroke="#3f7378" stroke-width="3.5" stroke-linecap="round" stroke-linejoin="round"/><path d="M64.2,122.6L64.6,121.9M66.0,115.3L66.5,116.0L67.0,117.8L67.6,120.0L68.1,121.8L68.6,122.4M70.4,115.1L70.9,115.9L71.5,117.7L72.0,119.9L72.6,121.6L73.0,122.1M74.9,114.8L75.4,115.7L75.9,117.6L76.5,119.8L77.0,121.4L77.5,121.8M79.3,114.6L79.8,115.6L80.3,117.5L80.9,119.7L81.4,121.3L81.9,121.6M83.7,114.4L84.2,115.4L84.8,117.5L85.3,119.6L85.9,121.1L86.3,121.3M88.1,114.2L88.6,115.3L89.2,117.4L89.8,119.5L90.3,120.9L90.7,121.0M92.6,114.0L93.1,115.2L93.6,117.3L94.2,119.4L94.7,120.7L95.1,120.8M97.0,113.8L97.5,115.1L98.1,117.2L98.6,119.3L99.1,120.5L99.6,120.5M101.4,113.6L101.9,115.0L102.5,117.1L103.0,119.2L103.6,120.3L104.0,120.2M105.8,113.4L106.4,114.9L106.9,117.0L107.5,119.0L108.0,120.1L108.4,119.9" fill="none" stroke="#1cd6da" stroke-width="2.8" stroke-linecap="round" stroke-linejoin="round"/>
<path d="M82.6,96.0L83.4,97.9L84.4,100.1L85.1,102.0L85.1,102.9M77.9,99.0L78.0,100.0L78.8,102.0L79.9,104.2L80.5,106.0L80.4,106.7M73.2,102.8L73.5,104.1L74.3,106.1L75.4,108.3L76.0,109.9L75.7,110.6M68.6,106.8L68.9,108.1L69.9,110.2L70.9,112.3L71.4,113.9L71.0,114.4M64.0,110.7L64.4,112.1L65.4,114.3L66.3,116.4L66.7,117.8L66.2,118.2M59.4,114.6L59.9,116.2L60.9,118.3L61.8,120.4L62.1,121.8L61.5,122.0M54.8,118.6L55.3,120.2L56.4,122.4" fill="none" stroke="#3f7378" stroke-width="3.3" stroke-linecap="round" stroke-linejoin="round"/><path d="M82.6,96.0L83.4,97.9L84.4,100.1L85.1,102.0L85.1,102.9M77.9,99.0L78.0,100.0L78.8,102.0L79.9,104.2L80.5,106.0L80.4,106.7M73.2,102.8L73.5,104.1L74.3,106.1L75.4,108.3L76.0,109.9L75.7,110.6M68.6,106.8L68.9,108.1L69.9,110.2L70.9,112.3L71.4,113.9L71.0,114.4M64.0,110.7L64.4,112.1L65.4,114.3L66.3,116.4L66.7,117.8L66.2,118.2M59.4,114.6L59.9,116.2L60.9,118.3L61.8,120.4L62.1,121.8L61.5,122.0M54.8,118.6L55.3,120.2L56.4,122.4" fill="none" stroke="#55868a" stroke-width="2.6" stroke-linecap="round" stroke-linejoin="round"/><path d="M82.6,95.1L82.6,96.0M85.1,102.9L84.1,102.6L82.4,101.5L80.4,100.0L78.7,99.0L77.9,99.0M80.4,106.7L79.3,106.3L77.5,105.1L75.5,103.7L74.0,102.8L73.2,102.8M75.7,110.6L74.5,110.1L72.6,108.8L70.7,107.4L69.2,106.5L68.6,106.8M71.0,114.4L69.7,113.8L67.8,112.4L65.9,111.1L64.5,110.3L64.0,110.7M66.2,118.2L64.8,117.5L62.9,116.1L61.0,114.8L59.7,114.1L59.4,114.6M61.5,122.0L60.0,121.1L58.1,119.7L56.2,118.5L55.0,118.0L54.8,118.6" fill="none" stroke="#3f7378" stroke-width="3.9" stroke-linecap="round" stroke-linejoin="round"/><path d="M82.6,95.1L82.6,96.0M85.1,102.9L84.1,102.6L82.4,101.5L80.4,100.0L78.7,99.0L77.9,99.0M80.4,106.7L79.3,106.3L77.5,105.1L75.5,103.7L74.0,102.8L73.2,102.8M75.7,110.6L74.5,110.1L72.6,108.8L70.7,107.4L69.2,106.5L68.6,106.8M71.0,114.4L69.7,113.8L67.8,112.4L65.9,111.1L64.5,110.3L64.0,110.7M66.2,118.2L64.8,117.5L62.9,116.1L61.0,114.8L59.7,114.1L59.4,114.6M61.5,122.0L60.0,121.1L58.1,119.7L56.2,118.5L55.0,118.0L54.8,118.6" fill="none" stroke="#1cd6da" stroke-width="3.2" stroke-linecap="round" stroke-linejoin="round"/>
<defs><clipPath id="zb"><rect x="141" y="5" width="213.7" height="122.6"/></clipPath></defs>
<g clip-path="url(#zb)">
<path d="M248.3,111.4L252.5,111.1L257.0,111.2L261.6,111.8L266.3,112.9L262.4,129.5L257.8,129.0L253.3,128.9L249.3,129.3L245.8,130.0Z" fill="#69696e" stroke="#69696e" stroke-width="0.5"/><path d="M248.3,111.4L252.5,111.1L257.0,111.2L261.6,111.8L266.3,112.9M245.8,130.0L249.3,129.3L253.3,128.9L257.8,129.0L262.4,129.5" fill="none" stroke="#5c5c84" stroke-width="0.7"/>
<path d="M266.3,112.9L270.7,114.5L274.8,116.6L278.2,119.1L281.0,121.9L282.9,125.1L282.2,139.1L279.3,136.3L275.7,133.9L271.6,131.9L267.1,130.4L262.4,129.5Z" fill="#747479" stroke="#747479" stroke-width="0.5"/><path d="M266.3,112.9L270.7,114.5L274.8,116.6L278.2,119.1L281.0,121.9L282.9,125.1M262.4,129.5L267.1,130.4L271.6,131.9L275.7,133.9L279.3,136.3L282.2,139.1" fill="none" stroke="#5c5c84" stroke-width="0.7"/>
<path d="M282.9,125.1L283.9,128.5L284.0,132.0L285.6,145.5L284.3,142.2L282.2,139.1Z" fill="#69696e" stroke="#69696e" stroke-width="0.5"/><path d="M282.9,125.1L283.9,128.5L284.0,132.0M282.2,139.1L284.3,142.2L285.6,145.5" fill="none" stroke="#5c5c84" stroke-width="0.7"/>
<path d="M238.5,115.4L239.7,114.1L241.8,113.0L244.7,112.1L248.3,111.4L245.8,130.0L243.1,131.0L241.1,132.2L240.1,133.4L240.0,134.7Z" fill="#5e5e63" stroke="#5e5e63" stroke-width="0.5"/><path d="M238.5,115.4L239.7,114.1L241.8,113.0L244.7,112.1L248.3,111.4M240.0,134.7L240.1,133.4L241.1,132.2L243.1,131.0L245.8,130.0" fill="none" stroke="#5c5c84" stroke-width="0.7"/>
<path d="M270.0,113.2L274.3,113.5L278.7,114.2L283.2,115.4L278.7,131.3L274.3,130.7L270.1,130.5L266.3,130.6Z" fill="#69696e" stroke="#69696e" stroke-width="0.5"/><path d="M270.0,113.2L274.3,113.5L278.7,114.2L283.2,115.4M266.3,130.6L270.1,130.5L274.3,130.7L278.7,131.3" fill="none" stroke="#5c5c84" stroke-width="0.7"/>
<path d="M284.0,132.0L283.1,135.5L281.4,138.9L278.8,142.1L275.5,145.1L271.6,147.7L267.4,149.9L274.3,165.0L278.0,162.3L281.2,159.3L283.6,156.0L285.2,152.5L285.8,149.0L285.6,145.5Z" fill="#9b9dc8" stroke="#9b9dc8" stroke-width="0.5"/><path d="M284.0,132.0L283.1,135.5L281.4,138.9L278.8,142.1L275.5,145.1L271.6,147.7L267.4,149.9M285.6,145.5L285.8,149.0L285.2,152.5L283.6,156.0L281.2,159.3L278.0,162.3L274.3,165.0" fill="none" stroke="#5c5c84" stroke-width="0.7"/>
<path d="M246.0,77.1L250.3,76.9L254.9,77.2L259.6,77.9L264.2,79.2L260.4,95.5L255.7,94.9L251.2,94.7L247.0,95.0L243.3,95.6Z" fill="#69696e" stroke="#69696e" stroke-width="0.5"/><path d="M246.0,77.1L250.3,76.9L254.9,77.2L259.6,77.9L264.2,79.2M243.3,95.6L247.0,95.0L251.2,94.7L255.7,94.9L260.4,95.5" fill="none" stroke="#5c5c84" stroke-width="0.7"/>
<path d="M283.2,115.4L287.4,117.0L291.3,119.1L294.6,121.5L297.2,124.2L299.0,127.2L297.6,141.0L294.8,138.3L291.4,135.9L287.5,134.0L283.2,132.4L278.7,131.3Z" fill="#747479" stroke="#747479" stroke-width="0.5"/><path d="M283.2,115.4L287.4,117.0L291.3,119.1L294.6,121.5L297.2,124.2L299.0,127.2M278.7,131.3L283.2,132.4L287.5,134.0L291.4,135.9L294.8,138.3L297.6,141.0" fill="none" stroke="#5c5c84" stroke-width="0.7"/>
<path d="M264.2,79.2L268.5,80.9L272.4,83.1L275.7,85.7L278.2,88.6L276.8,102.9L273.4,100.4L269.4,98.3L265.0,96.6L260.4,95.5Z" fill="#747479" stroke="#747479" stroke-width="0.5"/><path d="M264.2,79.2L268.5,80.9L272.4,83.1L275.7,85.7L278.2,88.6M260.4,95.5L265.0,96.6L269.4,98.3L273.4,100.4L276.8,102.9" fill="none" stroke="#5c5c84" stroke-width="0.7"/>
<path d="M267.4,149.9L263.0,151.6L258.5,152.8L254.3,153.6L250.4,153.8L256.9,171.2L261.2,170.4L265.7,169.1L270.1,167.2L274.3,165.0Z" fill="#aaacdc" stroke="#aaacdc" stroke-width="0.5"/><path d="M267.4,149.9L263.0,151.6L258.5,152.8L254.3,153.6L250.4,153.8M274.3,165.0L270.1,167.2L265.7,169.1L261.2,170.4L256.9,171.2" fill="none" stroke="#5c5c84" stroke-width="0.7"/>
<path d="M239.1,78.5L242.3,77.7L246.0,77.1L243.3,95.6L240.4,96.5L238.2,97.7Z" fill="#5e5e63" stroke="#5e5e63" stroke-width="0.5"/><path d="M239.1,78.5L242.3,77.7L246.0,77.1M238.2,97.7L240.4,96.5L243.3,95.6" fill="none" stroke="#5c5c84" stroke-width="0.7"/>
<path d="M278.2,88.6L279.9,91.9L280.6,95.3L280.4,98.8L282.3,112.3L281.4,109.0L279.5,105.8L276.8,102.9Z" fill="#69696e" stroke="#69696e" stroke-width="0.5"/><path d="M278.2,88.6L279.9,91.9L280.6,95.3L280.4,98.8M276.8,102.9L279.5,105.8L281.4,109.0L282.3,112.3" fill="none" stroke="#5c5c84" stroke-width="0.7"/>
<path d="M257.1,116.3L258.2,115.3L260.1,114.4L262.8,113.7L266.1,113.2L270.0,113.2L266.3,130.6L263.1,131.1L260.5,131.8L258.8,132.8L257.9,133.8L258.0,134.8Z" fill="#5e5e63" stroke="#5e5e63" stroke-width="0.5"/><path d="M257.1,116.3L258.2,115.3L260.1,114.4L262.8,113.7L266.1,113.2L270.0,113.2M258.0,134.8L257.9,133.8L258.8,132.8L260.5,131.8L263.1,131.1L266.3,130.6" fill="none" stroke="#5c5c84" stroke-width="0.7"/>
<path d="M262.7,116.3L258.3,117.8L253.9,118.9L249.7,119.5L246.0,119.7L242.8,119.4L240.4,118.7L238.8,117.8L238.2,116.6L238.5,115.4L240.0,134.7L240.9,135.8L242.6,136.7L245.2,137.2L248.5,137.5L252.3,137.2L256.6,136.5L261.0,135.3L265.4,133.6L269.7,131.5Z" fill="#aaacdc" stroke="#aaacdc" stroke-width="0.5"/><path d="M262.7,116.3L258.3,117.8L253.9,118.9L249.7,119.5L246.0,119.7L242.8,119.4L240.4,118.7L238.8,117.8L238.2,116.6L238.5,115.4M269.7,131.5L265.4,133.6L261.0,135.3L256.6,136.5L252.3,137.2L248.5,137.5L245.2,137.2L242.6,136.7L240.9,135.8L240.0,134.7" fill="none" stroke="#5c5c84" stroke-width="0.7"/>
<path d="M264.8,80.0L268.7,79.9L273.0,80.3L277.4,81.0L281.9,82.2L277.4,98.1L273.0,97.5L268.8,97.2L264.9,97.3L261.6,97.8Z" fill="#69696e" stroke="#69696e" stroke-width="0.5"/><path d="M264.8,80.0L268.7,79.9L273.0,80.3L277.4,81.0L281.9,82.2M261.6,97.8L264.9,97.3L268.8,97.2L273.0,97.5L277.4,98.1" fill="none" stroke="#5c5c84" stroke-width="0.7"/>
<path d="M281.9,82.2L286.1,83.9L289.9,86.0L293.1,88.4L295.7,91.2L297.5,94.2L298.3,97.4L298.0,110.9L296.1,107.9L293.4,105.2L290.1,102.8L286.2,100.9L281.9,99.3L277.4,98.1Z" fill="#747479" stroke="#747479" stroke-width="0.5"/><path d="M281.9,82.2L286.1,83.9L289.9,86.0L293.1,88.4L295.7,91.2L297.5,94.2L298.3,97.4M277.4,98.1L281.9,99.3L286.2,100.9L290.1,102.8L293.4,105.2L296.1,107.9L298.0,110.9" fill="none" stroke="#5c5c84" stroke-width="0.7"/>
<path d="M280.4,98.8L279.3,102.3L277.3,105.7L274.5,108.8L271.0,111.7L267.0,114.2L262.7,116.3L269.7,131.5L273.6,128.9L276.9,126.0L279.5,122.8L281.4,119.4L282.3,115.8L282.3,112.3Z" fill="#9b9dc8" stroke="#9b9dc8" stroke-width="0.5"/><path d="M280.4,98.8L279.3,102.3L277.3,105.7L274.5,108.8L271.0,111.7L267.0,114.2L262.7,116.3M282.3,112.3L282.3,115.8L281.4,119.4L279.5,122.8L276.9,126.0L273.6,128.9L269.7,131.5" fill="none" stroke="#5c5c84" stroke-width="0.7"/>
<path d="M298.3,97.4L298.3,100.6L299.1,114.0L298.0,110.9Z" fill="#69696e" stroke="#69696e" stroke-width="0.5"/><path d="M298.3,97.4L298.3,100.6M298.0,110.9L299.1,114.0" fill="none" stroke="#5c5c84" stroke-width="0.7"/>
<path d="M255.5,82.9L256.6,81.9L258.6,81.0L261.4,80.4L264.8,80.0L261.6,97.8L259.0,98.5L257.2,99.4L256.3,100.4L256.3,101.4Z" fill="#5e5e63" stroke="#5e5e63" stroke-width="0.5"/><path d="M255.5,82.9L256.6,81.9L258.6,81.0L261.4,80.4L264.8,80.0M256.3,101.4L256.3,100.4L257.2,99.4L259.0,98.5L261.6,97.8" fill="none" stroke="#5c5c84" stroke-width="0.7"/>
<path d="M281.6,116.6L277.3,118.0L273.0,119.1L268.9,119.6L265.1,119.8L262.0,119.6L259.5,119.0L257.8,118.2L257.0,117.3L257.1,116.3L258.0,134.8L258.9,135.7L260.8,136.5L263.4,136.9L266.7,137.1L270.5,136.9L274.7,136.2L279.0,135.1L283.3,133.6L287.4,131.6Z" fill="#aaacdc" stroke="#aaacdc" stroke-width="0.5"/><path d="M281.6,116.6L277.3,118.0L273.0,119.1L268.9,119.6L265.1,119.8L262.0,119.6L259.5,119.0L257.8,118.2L257.0,117.3L257.1,116.3M287.4,131.6L283.3,133.6L279.0,135.1L274.7,136.2L270.5,136.9L266.7,137.1L263.4,136.9L260.8,136.5L258.9,135.7L258.0,134.8" fill="none" stroke="#5c5c84" stroke-width="0.7"/>
<path d="M263.4,46.7L267.4,46.7L271.7,47.0L276.2,47.8L280.6,49.1L276.2,65.0L271.7,64.2L267.5,63.9L263.6,64.0L260.2,64.5Z" fill="#69696e" stroke="#69696e" stroke-width="0.5"/><path d="M263.4,46.7L267.4,46.7L271.7,47.0L276.2,47.8L280.6,49.1M260.2,64.5L263.6,64.0L267.5,63.9L271.7,64.2L276.2,65.0" fill="none" stroke="#5c5c84" stroke-width="0.7"/>
<path d="M280.6,49.1L284.8,50.8L288.5,52.9L291.7,55.4L294.2,58.2L295.9,61.2L294.7,74.9L292.0,72.2L288.7,69.8L284.8,67.7L280.6,66.1L276.2,65.0Z" fill="#747479" stroke="#747479" stroke-width="0.5"/><path d="M280.6,49.1L284.8,50.8L288.5,52.9L291.7,55.4L294.2,58.2L295.9,61.2M276.2,65.0L280.6,66.1L284.8,67.7L288.7,69.8L292.0,72.2L294.7,74.9" fill="none" stroke="#5c5c84" stroke-width="0.7"/>
<path d="M298.3,100.6L297.3,103.8L295.5,106.9L292.9,109.8L289.6,112.4L285.8,114.7L281.6,116.6L287.4,131.6L291.1,129.2L294.3,126.6L296.8,123.6L298.4,120.5L299.2,117.3L299.1,114.0Z" fill="#9b9dc8" stroke="#9b9dc8" stroke-width="0.5"/><path d="M298.3,100.6L297.3,103.8L295.5,106.9L292.9,109.8L289.6,112.4L285.8,114.7L281.6,116.6M299.1,114.0L299.2,117.3L298.4,120.5L296.8,123.6L294.3,126.6L291.1,129.2L287.4,131.6" fill="none" stroke="#5c5c84" stroke-width="0.7"/>
<path d="M295.9,61.2L296.7,64.4L296.6,67.6L297.5,81.0L296.5,77.9L294.7,74.9Z" fill="#69696e" stroke="#69696e" stroke-width="0.5"/><path d="M295.9,61.2L296.7,64.4L296.6,67.6M294.7,74.9L296.5,77.9L297.5,81.0" fill="none" stroke="#5c5c84" stroke-width="0.7"/>
<path d="M253.9,49.6L255.1,48.6L257.1,47.7L260.0,47.1L263.4,46.7L260.2,64.5L257.6,65.2L255.7,66.1L254.7,67.1L254.6,68.1Z" fill="#5e5e63" stroke="#5e5e63" stroke-width="0.5"/><path d="M253.9,49.6L255.1,48.6L257.1,47.7L260.0,47.1L263.4,46.7M254.6,68.1L254.7,67.1L255.7,66.1L257.6,65.2L260.2,64.5" fill="none" stroke="#5c5c84" stroke-width="0.7"/>
<path d="M279.6,83.5L275.3,84.9L271.0,85.9L266.9,86.4L263.2,86.5L260.1,86.3L257.7,85.7L256.1,84.9L255.3,83.9L255.5,82.9L256.3,101.4L257.2,102.4L258.9,103.1L261.5,103.6L264.7,103.8L268.5,103.6L272.6,103.0L277.0,101.9L281.3,100.4L285.4,98.5Z" fill="#aaacdc" stroke="#aaacdc" stroke-width="0.5"/><path d="M279.6,83.5L275.3,84.9L271.0,85.9L266.9,86.4L263.2,86.5L260.1,86.3L257.7,85.7L256.1,84.9L255.3,83.9L255.5,82.9M285.4,98.5L281.3,100.4L277.0,101.9L272.6,103.0L268.5,103.6L264.7,103.8L261.5,103.6L258.9,103.1L257.2,102.4L256.3,101.4" fill="none" stroke="#5c5c84" stroke-width="0.7"/>
<path d="M279.3,16.0L283.4,17.7L287.2,19.8L290.3,22.3L292.7,25.1L294.3,28.2L293.2,41.9L290.6,39.1L287.3,36.7L283.5,34.6L279.3,33.0L274.9,31.8Z" fill="#747479" stroke="#747479" stroke-width="0.5"/><path d="M279.3,16.0L283.4,17.7L287.2,19.8L290.3,22.3L292.7,25.1L294.3,28.2M274.9,31.8L279.3,33.0L283.5,34.6L287.3,36.7L290.6,39.1L293.2,41.9" fill="none" stroke="#5c5c84" stroke-width="0.7"/>
<path d="M296.6,67.6L295.5,70.8L293.6,73.9L291.0,76.8L287.6,79.4L283.8,81.6L279.6,83.5L285.4,98.5L289.2,96.2L292.4,93.5L294.9,90.6L296.7,87.5L297.5,84.3L297.5,81.0Z" fill="#9b9dc8" stroke="#9b9dc8" stroke-width="0.5"/><path d="M296.6,67.6L295.5,70.8L293.6,73.9L291.0,76.8L287.6,79.4L283.8,81.6L279.6,83.5M297.5,81.0L297.5,84.3L296.7,87.5L294.9,90.6L292.4,93.5L289.2,96.2L285.4,98.5" fill="none" stroke="#5c5c84" stroke-width="0.7"/>
<path d="M199.2,95.9L203.7,96.9L208.4,98.3L201.4,114.8L196.9,113.9L192.7,113.5Z" fill="#69696e" stroke="#69696e" stroke-width="0.5"/><path d="M199.2,95.9L203.7,96.9L208.4,98.3M192.7,113.5L196.9,113.9L201.4,114.8" fill="none" stroke="#5c5c84" stroke-width="0.7"/>
<path d="M294.3,28.2L295.1,31.4L294.9,34.6L295.9,48.0L295.0,44.9L293.2,41.9Z" fill="#69696e" stroke="#69696e" stroke-width="0.5"/><path d="M294.3,28.2L295.1,31.4L294.9,34.6M293.2,41.9L295.0,44.9L295.9,48.0" fill="none" stroke="#5c5c84" stroke-width="0.7"/>
<path d="M208.4,98.3L213.0,100.2L217.3,102.6L221.2,105.4L224.4,108.5L226.8,111.8L228.3,115.2L228.9,118.7L228.5,122.2L227.1,136.5L226.4,133.0L224.8,129.5L222.3,126.2L219.0,123.2L215.1,120.4L210.7,118.1L206.1,116.2L201.4,114.8Z" fill="#747479" stroke="#747479" stroke-width="0.5"/><path d="M208.4,98.3L213.0,100.2L217.3,102.6L221.2,105.4L224.4,108.5L226.8,111.8L228.3,115.2L228.9,118.7L228.5,122.2M201.4,114.8L206.1,116.2L210.7,118.1L215.1,120.4L219.0,123.2L222.3,126.2L224.8,129.5L226.4,133.0L227.1,136.5" fill="none" stroke="#5c5c84" stroke-width="0.7"/>
<path d="M277.6,50.3L273.2,51.7L268.9,52.7L264.9,53.2L261.2,53.2L258.2,53.0L255.8,52.4L254.3,51.6L253.6,50.6L253.9,49.6L254.6,68.1L255.4,69.0L257.1,69.8L259.6,70.3L262.8,70.6L266.5,70.4L270.6,69.8L274.9,68.8L279.3,67.3L283.4,65.4Z" fill="#aaacdc" stroke="#aaacdc" stroke-width="0.5"/><path d="M277.6,50.3L273.2,51.7L268.9,52.7L264.9,53.2L261.2,53.2L258.2,53.0L255.8,52.4L254.3,51.6L253.6,50.6L253.9,49.6M283.4,65.4L279.3,67.3L274.9,68.8L270.6,69.8L266.5,70.4L262.8,70.6L259.6,70.3L257.1,69.8L255.4,69.0L254.6,68.1" fill="none" stroke="#5c5c84" stroke-width="0.7"/>
<path d="M184.8,97.4L186.1,96.4L188.3,95.7L191.3,95.4L195.0,95.4L199.2,95.9L192.7,113.5L189.1,113.5L186.2,113.9L184.1,114.6L182.9,115.6L182.8,116.7Z" fill="#5e5e63" stroke="#5e5e63" stroke-width="0.5"/><path d="M184.8,97.4L186.1,96.4L188.3,95.7L191.3,95.4L195.0,95.4L199.2,95.9M182.8,116.7L182.9,115.6L184.1,114.6L186.2,113.9L189.1,113.5L192.7,113.5" fill="none" stroke="#5c5c84" stroke-width="0.7"/>
<path d="M294.9,34.6L293.7,37.8L291.8,40.9L289.0,43.7L285.7,46.3L281.8,48.5L277.6,50.3L283.4,65.4L287.2,63.1L290.5,60.5L293.1,57.6L294.9,54.5L295.8,51.3L295.9,48.0Z" fill="#9b9dc8" stroke="#9b9dc8" stroke-width="0.5"/><path d="M294.9,34.6L293.7,37.8L291.8,40.9L289.0,43.7L285.7,46.3L281.8,48.5L277.6,50.3M295.9,48.0L295.8,51.3L294.9,54.5L293.1,57.6L290.5,60.5L287.2,63.1L283.4,65.4" fill="none" stroke="#5c5c84" stroke-width="0.7"/>
<path d="M203.5,61.1L208.1,62.2L212.7,63.7L205.7,80.1L201.2,79.1L196.9,78.6Z" fill="#69696e" stroke="#69696e" stroke-width="0.5"/><path d="M203.5,61.1L208.1,62.2L212.7,63.7M196.9,78.6L201.2,79.1L205.7,80.1" fill="none" stroke="#5c5c84" stroke-width="0.7"/>
<path d="M228.5,122.2L227.1,125.5L224.7,128.5L221.6,131.2L217.7,133.5L213.3,135.4L208.5,136.8L212.0,153.3L216.3,151.4L220.1,149.1L223.2,146.3L225.5,143.2L226.8,139.9L227.1,136.5Z" fill="#9b9dc8" stroke="#9b9dc8" stroke-width="0.5"/><path d="M228.5,122.2L227.1,125.5L224.7,128.5L221.6,131.2L217.7,133.5L213.3,135.4L208.5,136.8M227.1,136.5L226.8,139.9L225.5,143.2L223.2,146.3L220.1,149.1L216.3,151.4L212.0,153.3" fill="none" stroke="#5c5c84" stroke-width="0.7"/>
<path d="M212.7,63.7L217.3,65.7L221.6,68.2L225.3,71.0L228.4,74.1L230.6,77.5L232.0,81.0L232.4,84.5L231.8,87.9L230.6,102.2L230.1,98.7L228.6,95.2L226.3,91.9L223.1,88.8L219.3,86.0L215.0,83.6L210.4,81.6L205.7,80.1Z" fill="#747479" stroke="#747479" stroke-width="0.5"/><path d="M212.7,63.7L217.3,65.7L221.6,68.2L225.3,71.0L228.4,74.1L230.6,77.5L232.0,81.0L232.4,84.5L231.8,87.9M205.7,80.1L210.4,81.6L215.0,83.6L219.3,86.0L223.1,88.8L226.3,91.9L228.6,95.2L230.1,98.7L230.6,102.2" fill="none" stroke="#5c5c84" stroke-width="0.7"/>
<path d="M208.5,136.8L203.6,137.7L198.8,138.1L194.2,138.1L190.1,137.7L186.6,136.9L183.8,136.0L182.0,134.8L182.3,154.2L185.1,155.2L188.7,155.9L192.9,156.2L197.5,156.2L202.4,155.7L207.3,154.8L212.0,153.3Z" fill="#aaacdc" stroke="#aaacdc" stroke-width="0.5"/><path d="M208.5,136.8L203.6,137.7L198.8,138.1L194.2,138.1L190.1,137.7L186.6,136.9L183.8,136.0L182.0,134.8M212.0,153.3L207.3,154.8L202.4,155.7L197.5,156.2L192.9,156.2L188.7,155.9L185.1,155.2L182.3,154.2" fill="none" stroke="#5c5c84" stroke-width="0.7"/>
<path d="M188.5,62.3L189.9,61.4L192.3,60.7L195.4,60.4L199.2,60.5L203.5,61.1L196.9,78.6L193.2,78.5L190.1,78.9L187.9,79.6L186.6,80.5L186.2,81.6Z" fill="#5e5e63" stroke="#5e5e63" stroke-width="0.5"/><path d="M188.5,62.3L189.9,61.4L192.3,60.7L195.4,60.4L199.2,60.5L203.5,61.1M186.2,81.6L186.6,80.5L187.9,79.6L190.1,78.9L193.2,78.5L196.9,78.6" fill="none" stroke="#5c5c84" stroke-width="0.7"/>
<path d="M207.8,26.4L212.4,27.5L217.1,29.1L210.1,45.5L205.5,44.4L201.2,43.8Z" fill="#69696e" stroke="#69696e" stroke-width="0.5"/><path d="M207.8,26.4L212.4,27.5L217.1,29.1M201.2,43.8L205.5,44.4L210.1,45.5" fill="none" stroke="#5c5c84" stroke-width="0.7"/>
<path d="M211.2,102.1L206.2,102.9L201.4,103.2L196.9,103.1L192.9,102.7L189.5,101.9L186.9,100.9L185.2,99.7L184.5,98.5L184.8,97.4L182.8,116.7L183.6,117.9L185.3,119.1L188.0,120.1L191.5,120.8L195.6,121.3L200.1,121.3L205.0,120.9L209.9,120.1L214.6,118.7Z" fill="#aaacdc" stroke="#aaacdc" stroke-width="0.5"/><path d="M211.2,102.1L206.2,102.9L201.4,103.2L196.9,103.1L192.9,102.7L189.5,101.9L186.9,100.9L185.2,99.7L184.5,98.5L184.8,97.4M214.6,118.7L209.9,120.1L205.0,120.9L200.1,121.3L195.6,121.3L191.5,120.8L188.0,120.1L185.3,119.1L183.6,117.9L182.8,116.7" fill="none" stroke="#5c5c84" stroke-width="0.7"/>
<path d="M167.7,118.0L163.3,119.7L159.3,121.9L155.8,124.4L160.3,140.8L164.4,138.8L168.9,137.1L173.5,135.8Z" fill="#69696e" stroke="#69696e" stroke-width="0.5"/><path d="M167.7,118.0L163.3,119.7L159.3,121.9L155.8,124.4M173.5,135.8L168.9,137.1L164.4,138.8L160.3,140.8" fill="none" stroke="#5c5c84" stroke-width="0.7"/>
<path d="M217.1,29.1L221.6,31.2L225.8,33.8L229.4,36.6L232.3,39.8L234.5,43.2L235.6,46.7L235.9,50.2L233.8,64.4L232.5,60.9L230.3,57.6L227.2,54.4L223.5,51.6L219.3,49.1L214.8,47.0L210.1,45.5Z" fill="#747479" stroke="#747479" stroke-width="0.5"/><path d="M217.1,29.1L221.6,31.2L225.8,33.8L229.4,36.6L232.3,39.8L234.5,43.2L235.6,46.7L235.9,50.2M210.1,45.5L214.8,47.0L219.3,49.1L223.5,51.6L227.2,54.4L230.3,57.6L232.5,60.9L233.8,64.4" fill="none" stroke="#5c5c84" stroke-width="0.7"/>
<path d="M231.8,87.9L230.2,91.1L227.7,94.1L224.4,96.8L220.4,99.0L215.9,100.8L211.2,102.1L214.6,118.7L219.1,116.9L223.0,114.6L226.2,111.9L228.6,108.9L230.1,105.6L230.6,102.2Z" fill="#9b9dc8" stroke="#9b9dc8" stroke-width="0.5"/><path d="M231.8,87.9L230.2,91.1L227.7,94.1L224.4,96.8L220.4,99.0L215.9,100.8L211.2,102.1M230.6,102.2L230.1,105.6L228.6,108.9L226.2,111.9L223.0,114.6L219.1,116.9L214.6,118.7" fill="none" stroke="#5c5c84" stroke-width="0.7"/>
<path d="M193.1,116.3L191.2,115.6L188.5,115.2L185.1,115.0L181.1,115.1L176.8,115.6L172.2,116.6L167.7,118.0L173.5,135.8L178.0,135.0L182.3,134.6L186.1,134.5L189.3,134.8L191.8,135.4L193.4,136.1L194.2,136.9Z" fill="#747479" stroke="#747479" stroke-width="0.5"/><path d="M193.1,116.3L191.2,115.6L188.5,115.2L185.1,115.0L181.1,115.1L176.8,115.6L172.2,116.6L167.7,118.0M194.2,136.9L193.4,136.1L191.8,135.4L189.3,134.8L186.1,134.5L182.3,134.6L178.0,135.0L173.5,135.8" fill="none" stroke="#5c5c84" stroke-width="0.7"/>
<path d="M155.8,124.4L153.0,127.3L151.1,130.3L150.0,133.5L149.9,136.7L150.2,152.1L151.5,149.0L153.7,146.0L156.7,143.3L160.3,140.8Z" fill="#5e5e63" stroke="#5e5e63" stroke-width="0.5"/><path d="M155.8,124.4L153.0,127.3L151.1,130.3L150.0,133.5L149.9,136.7M160.3,140.8L156.7,143.3L153.7,146.0L151.5,149.0L150.2,152.1" fill="none" stroke="#5c5c84" stroke-width="0.7"/>
<path d="M235.9,50.2L235.1,53.6L234.1,67.9L233.8,64.4Z" fill="#69696e" stroke="#69696e" stroke-width="0.5"/><path d="M235.9,50.2L235.1,53.6M233.8,64.4L234.1,67.9" fill="none" stroke="#5c5c84" stroke-width="0.7"/>
<path d="M213.8,67.4L208.8,68.1L204.1,68.3L199.6,68.2L195.7,67.6L192.5,66.8L190.0,65.7L188.5,64.6L188.0,63.4L188.5,62.3L186.2,81.6L186.8,82.8L188.4,84.0L191.0,85.0L194.3,85.8L198.3,86.3L202.8,86.4L207.6,86.1L212.5,85.4L217.3,84.1Z" fill="#aaacdc" stroke="#aaacdc" stroke-width="0.5"/><path d="M213.8,67.4L208.8,68.1L204.1,68.3L199.6,68.2L195.7,67.6L192.5,66.8L190.0,65.7L188.5,64.6L188.0,63.4L188.5,62.3M217.3,84.1L212.5,85.4L207.6,86.1L202.8,86.4L198.3,86.3L194.3,85.8L191.0,85.0L188.4,84.0L186.8,82.8L186.2,81.6" fill="none" stroke="#5c5c84" stroke-width="0.7"/>
<path d="M149.9,136.7L150.7,139.9L152.4,143.0L150.4,158.6L149.8,155.4L150.2,152.1Z" fill="#aaacdc" stroke="#aaacdc" stroke-width="0.5"/><path d="M149.9,136.7L150.7,139.9L152.4,143.0M150.2,152.1L149.8,155.4L150.4,158.6" fill="none" stroke="#5c5c84" stroke-width="0.7"/>
<path d="M166.2,82.7L161.9,84.7L158.0,87.0L163.0,103.6L167.4,101.8L172.0,100.4Z" fill="#69696e" stroke="#69696e" stroke-width="0.5"/><path d="M166.2,82.7L161.9,84.7L158.0,87.0M172.0,100.4L167.4,101.8L163.0,103.6" fill="none" stroke="#5c5c84" stroke-width="0.7"/>
<path d="M235.1,53.6L233.3,56.8L230.7,59.7L227.2,62.3L223.1,64.5L218.6,66.1L213.8,67.4L217.3,84.1L221.8,82.3L225.8,80.1L229.2,77.5L231.7,74.6L233.4,71.3L234.1,67.9Z" fill="#9b9dc8" stroke="#9b9dc8" stroke-width="0.5"/><path d="M235.1,53.6L233.3,56.8L230.7,59.7L227.2,62.3L223.1,64.5L218.6,66.1L213.8,67.4M234.1,67.9L233.4,71.3L231.7,74.6L229.2,77.5L225.8,80.1L221.8,82.3L217.3,84.1" fill="none" stroke="#5c5c84" stroke-width="0.7"/>
<path d="M194.1,117.2L193.1,116.3L194.2,136.9L193.9,137.8Z" fill="#69696e" stroke="#69696e" stroke-width="0.5"/><path d="M194.1,117.2L193.1,116.3M193.9,137.8L194.2,136.9" fill="none" stroke="#5c5c84" stroke-width="0.7"/>
<path d="M192.6,80.3L190.4,79.7L187.4,79.3L183.8,79.2L179.7,79.5L175.3,80.1L170.7,81.2L166.2,82.7L172.0,100.4L176.5,99.5L180.9,98.9L184.9,98.7L188.3,98.9L191.1,99.4L193.0,100.1L194.0,100.9Z" fill="#747479" stroke="#747479" stroke-width="0.5"/><path d="M192.6,80.3L190.4,79.7L187.4,79.3L183.8,79.2L179.7,79.5L175.3,80.1L170.7,81.2L166.2,82.7M194.0,100.9L193.0,100.1L191.1,99.4L188.3,98.9L184.9,98.7L180.9,98.9L176.5,99.5L172.0,100.4" fill="none" stroke="#5c5c84" stroke-width="0.7"/>
<path d="M158.0,87.0L154.8,89.6L152.3,92.5L150.6,95.6L149.8,98.8L150.0,102.0L150.0,117.4L151.0,114.3L152.9,111.2L155.6,108.4L159.0,105.8L163.0,103.6Z" fill="#5e5e63" stroke="#5e5e63" stroke-width="0.5"/><path d="M158.0,87.0L154.8,89.6L152.3,92.5L150.6,95.6L149.8,98.8L150.0,102.0M163.0,103.6L159.0,105.8L155.6,108.4L152.9,111.2L151.0,114.3L150.0,117.4" fill="none" stroke="#5c5c84" stroke-width="0.7"/>
<path d="M313.8,104.0L318.7,102.5L324.0,101.5L329.8,100.9L335.6,100.9L341.3,101.6L346.7,102.9L351.4,104.9L352.4,121.8L347.1,120.5L341.4,119.8L335.6,119.8L329.8,120.3L324.4,121.4L319.6,122.8L315.5,124.5Z" fill="#69696e" stroke="#69696e" stroke-width="0.5"/><path d="M313.8,104.0L318.7,102.5L324.0,101.5L329.8,100.9L335.6,100.9L341.3,101.6L346.7,102.9L351.4,104.9M315.5,124.5L319.6,122.8L324.4,121.4L329.8,120.3L335.6,119.8L341.4,119.8L347.1,120.5L352.4,121.8" fill="none" stroke="#5c5c84" stroke-width="0.7"/>
<path d="M169.2,45.9L164.7,47.6L160.6,49.6L156.9,52.0L161.6,68.6L165.9,66.6L170.4,65.1L175.0,64.0Z" fill="#69696e" stroke="#69696e" stroke-width="0.5"/><path d="M169.2,45.9L164.7,47.6L160.6,49.6L156.9,52.0M175.0,64.0L170.4,65.1L165.9,66.6L161.6,68.6" fill="none" stroke="#5c5c84" stroke-width="0.7"/>
<path d="M181.4,120.2L185.4,120.3L188.7,120.1L191.4,119.6L193.2,118.9L194.1,118.0L194.1,117.2L193.9,137.8L192.8,138.6L190.7,139.3L187.9,139.7L184.3,139.8L180.3,139.6L175.9,139.0Z" fill="#9b9dc8" stroke="#9b9dc8" stroke-width="0.5"/><path d="M181.4,120.2L185.4,120.3L188.7,120.1L191.4,119.6L193.2,118.9L194.1,118.0L194.1,117.2M175.9,139.0L180.3,139.6L184.3,139.8L187.9,139.7L190.7,139.3L192.8,138.6L193.9,137.8" fill="none" stroke="#5c5c84" stroke-width="0.7"/>
<path d="M193.8,81.1L192.6,80.3L194.0,100.9L194.1,101.8Z" fill="#69696e" stroke="#69696e" stroke-width="0.5"/><path d="M193.8,81.1L192.6,80.3M194.1,101.8L194.0,100.9" fill="none" stroke="#5c5c84" stroke-width="0.7"/>
<path d="M150.0,102.0L151.2,105.2L153.2,108.2L156.0,111.0L159.5,113.5L163.6,115.6L168.0,117.4L172.5,118.7L177.1,119.7L181.4,120.2L175.9,139.0L171.3,138.0L166.7,136.5L162.4,134.6L158.5,132.4L155.2,129.8L152.6,126.9L150.8,123.9L149.9,120.7L150.0,117.4Z" fill="#aaacdc" stroke="#aaacdc" stroke-width="0.5"/><path d="M150.0,102.0L151.2,105.2L153.2,108.2L156.0,111.0L159.5,113.5L163.6,115.6L168.0,117.4L172.5,118.7L177.1,119.7L181.4,120.2M150.0,117.4L149.9,120.7L150.8,123.9L152.6,126.9L155.2,129.8L158.5,132.4L162.4,134.6L166.7,136.5L171.3,138.0L175.9,139.0" fill="none" stroke="#5c5c84" stroke-width="0.7"/>
<path d="M156.9,52.0L153.9,54.7L151.6,57.7L150.3,60.9L149.8,64.1L150.3,67.3L149.8,82.7L150.5,79.5L152.2,76.4L154.6,73.5L157.8,70.9L161.6,68.6Z" fill="#5e5e63" stroke="#5e5e63" stroke-width="0.5"/><path d="M156.9,52.0L153.9,54.7L151.6,57.7L150.3,60.9L149.8,64.1L150.3,67.3M161.6,68.6L157.8,70.9L154.6,73.5L152.2,76.4L150.5,79.5L149.8,82.7" fill="none" stroke="#5c5c84" stroke-width="0.7"/>
<path d="M193.5,45.0L191.9,44.3L189.5,43.7L186.3,43.4L182.5,43.5L178.3,43.9L173.8,44.7L169.2,45.9L175.0,64.0L179.5,63.3L183.6,63.0L187.2,63.0L190.2,63.4L192.4,64.0L193.8,64.8L194.2,65.7Z" fill="#747479" stroke="#747479" stroke-width="0.5"/><path d="M193.5,45.0L191.9,44.3L189.5,43.7L186.3,43.4L182.5,43.5L178.3,43.9L173.8,44.7L169.2,45.9M194.2,65.7L193.8,64.8L192.4,64.0L190.2,63.4L187.2,63.0L183.6,63.0L179.5,63.3L175.0,64.0" fill="none" stroke="#5c5c84" stroke-width="0.7"/>
<path d="M303.4,111.4L304.5,109.5L306.6,107.6L309.8,105.7L313.8,104.0L315.5,124.5L312.3,126.4L310.2,128.4L309.1,130.2L309.2,131.8Z" fill="#5e5e63" stroke="#5e5e63" stroke-width="0.5"/><path d="M303.4,111.4L304.5,109.5L306.6,107.6L309.8,105.7L313.8,104.0M309.2,131.8L309.1,130.2L310.2,128.4L312.3,126.4L315.5,124.5" fill="none" stroke="#5c5c84" stroke-width="0.7"/>
<path d="M182.8,84.5L186.5,84.5L189.7,84.2L192.1,83.6L193.6,82.8L194.2,82.0L193.8,81.1L194.1,101.8L193.3,102.6L191.5,103.3L188.9,103.8L185.6,104.1L181.7,104.0L177.4,103.5Z" fill="#9b9dc8" stroke="#9b9dc8" stroke-width="0.5"/><path d="M182.8,84.5L186.5,84.5L189.7,84.2L192.1,83.6L193.6,82.8L194.2,82.0L193.8,81.1M177.4,103.5L181.7,104.0L185.6,104.1L188.9,103.8L191.5,103.3L193.3,102.6L194.1,101.8" fill="none" stroke="#5c5c84" stroke-width="0.7"/>
<path d="M194.2,45.9L193.5,45.0L194.2,65.7L193.6,66.5Z" fill="#69696e" stroke="#69696e" stroke-width="0.5"/><path d="M194.2,45.9L193.5,45.0M193.6,66.5L194.2,65.7" fill="none" stroke="#5c5c84" stroke-width="0.7"/>
<path d="M303.4,67.2L308.3,65.8L313.8,64.8L319.5,64.3L325.4,64.5L331.0,65.2L336.3,66.6L341.0,68.6L344.9,71.3L347.9,74.5L349.8,78.2L350.5,82.2L355.5,97.1L353.6,93.4L350.6,90.2L346.8,87.6L342.1,85.5L336.8,84.1L331.2,83.3L325.3,83.2L319.6,83.7L314.1,84.7L309.2,86.1L305.0,87.8Z" fill="#69696e" stroke="#69696e" stroke-width="0.5"/><path d="M303.4,67.2L308.3,65.8L313.8,64.8L319.5,64.3L325.4,64.5L331.0,65.2L336.3,66.6L341.0,68.6L344.9,71.3L347.9,74.5L349.8,78.2L350.5,82.2M305.0,87.8L309.2,86.1L314.1,84.7L319.6,83.7L325.3,83.2L331.2,83.3L336.8,84.1L342.1,85.5L346.8,87.6L350.6,90.2L353.6,93.4L355.5,97.1" fill="none" stroke="#5c5c84" stroke-width="0.7"/>
<path d="M150.3,67.3L151.7,70.4L154.0,73.4L157.1,76.1L160.8,78.5L165.0,80.5L169.5,82.1L174.1,83.3L178.6,84.1L182.8,84.5L177.4,103.5L172.8,102.6L168.2,101.3L163.8,99.5L159.7,97.4L156.2,94.9L153.3,92.1L151.3,89.1L150.1,86.0L149.8,82.7Z" fill="#aaacdc" stroke="#aaacdc" stroke-width="0.5"/><path d="M150.3,67.3L151.7,70.4L154.0,73.4L157.1,76.1L160.8,78.5L165.0,80.5L169.5,82.1L174.1,83.3L178.6,84.1L182.8,84.5M149.8,82.7L150.1,86.0L151.3,89.1L153.3,92.1L156.2,94.9L159.7,97.4L163.8,99.5L168.2,101.3L172.8,102.6L177.4,103.5" fill="none" stroke="#5c5c84" stroke-width="0.7"/>
<path d="M304.8,114.1L303.6,112.9L303.4,111.4L309.2,131.8L310.4,133.0L312.7,133.8Z" fill="#9b9dc8" stroke="#9b9dc8" stroke-width="0.5"/><path d="M304.8,114.1L303.6,112.9L303.4,111.4M312.7,133.8L310.4,133.0L309.2,131.8" fill="none" stroke="#5c5c84" stroke-width="0.7"/>
<path d="M292.6,74.6L293.7,72.8L296.0,70.8L299.2,68.9L303.4,67.2L305.0,87.8L301.7,89.7L299.4,91.6L298.2,93.4L298.2,95.1Z" fill="#5e5e63" stroke="#5e5e63" stroke-width="0.5"/><path d="M292.6,74.6L293.7,72.8L296.0,70.8L299.2,68.9L303.4,67.2M298.2,95.1L298.2,93.4L299.4,91.6L301.7,89.7L305.0,87.8" fill="none" stroke="#5c5c84" stroke-width="0.7"/>
<path d="M184.1,48.7L187.7,48.6L190.6,48.2L192.7,47.6L193.9,46.8L194.2,45.9L193.6,66.5L192.2,67.3L189.8,67.9L186.8,68.2L183.0,68.2L178.8,67.9Z" fill="#9b9dc8" stroke="#9b9dc8" stroke-width="0.5"/><path d="M184.1,48.7L187.7,48.6L190.6,48.2L192.7,47.6L193.9,46.8L194.2,45.9M178.8,67.9L183.0,68.2L186.8,68.2L189.8,67.9L192.2,67.3L193.6,66.5" fill="none" stroke="#5c5c84" stroke-width="0.7"/>
<path d="M152.4,35.7L155.0,38.5L158.3,41.1L162.2,43.4L166.5,45.3L171.0,46.8L175.6,47.8L180.0,48.5L184.1,48.7L178.8,67.9L174.3,67.1L169.8,66.0L165.3,64.4L161.1,62.4L157.3,60.0L154.2,57.3L151.9,54.4L150.4,51.3Z" fill="#aaacdc" stroke="#aaacdc" stroke-width="0.5"/><path d="M152.4,35.7L155.0,38.5L158.3,41.1L162.2,43.4L166.5,45.3L171.0,46.8L175.6,47.8L180.0,48.5L184.1,48.7M150.4,51.3L151.9,54.4L154.2,57.3L157.3,60.0L161.1,62.4L165.3,64.4L169.8,66.0L174.3,67.1L178.8,67.9" fill="none" stroke="#5c5c84" stroke-width="0.7"/>
<path d="M288.8,32.2L293.0,30.5L298.0,29.1L303.5,28.2L309.3,27.8L315.1,28.0L320.7,28.8L326.0,30.3L330.6,32.4L334.4,35.1L337.2,38.4L339.0,42.1L339.6,46.1L344.7,61.0L342.9,57.3L340.1,54.1L336.3,51.3L331.7,49.2L326.5,47.7L320.9,46.9L315.1,46.7L309.3,47.1L303.8,48.0L298.8,49.3L294.5,51.0L291.1,52.9Z" fill="#69696e" stroke="#69696e" stroke-width="0.5"/><path d="M288.8,32.2L293.0,30.5L298.0,29.1L303.5,28.2L309.3,27.8L315.1,28.0L320.7,28.8L326.0,30.3L330.6,32.4L334.4,35.1L337.2,38.4L339.0,42.1L339.6,46.1M291.1,52.9L294.5,51.0L298.8,49.3L303.8,48.0L309.3,47.1L315.1,46.7L320.9,46.9L326.5,47.7L331.7,49.2L336.3,51.3L340.1,54.1L342.9,57.3L344.7,61.0" fill="none" stroke="#5c5c84" stroke-width="0.7"/>
<path d="M334.0,106.6L329.0,109.5L323.9,111.9L318.9,113.6L314.3,114.7L310.3,115.1L307.1,114.9L304.8,114.1L312.7,133.8L315.9,134.0L319.9,133.5L324.5,132.5L329.4,130.8L334.5,128.4L339.6,125.5L344.3,122.1Z" fill="#aaacdc" stroke="#aaacdc" stroke-width="0.5"/><path d="M334.0,106.6L329.0,109.5L323.9,111.9L318.9,113.6L314.3,114.7L310.3,115.1L307.1,114.9L304.8,114.1M344.3,122.1L339.6,125.5L334.5,128.4L329.4,130.8L324.5,132.5L319.9,133.5L315.9,134.0L312.7,133.8" fill="none" stroke="#5c5c84" stroke-width="0.7"/>
<path d="M350.5,82.2L350.2,86.4L348.7,90.8L346.2,95.1L342.8,99.3L338.7,103.1L334.0,106.6L344.3,122.1L348.4,118.2L351.8,114.1L354.3,109.8L355.8,105.4L356.2,101.1L355.5,97.1Z" fill="#9b9dc8" stroke="#9b9dc8" stroke-width="0.5"/><path d="M350.5,82.2L350.2,86.4L348.7,90.8L346.2,95.1L342.8,99.3L338.7,103.1L334.0,106.6M355.5,97.1L356.2,101.1L355.8,105.4L354.3,109.8L351.8,114.1L348.4,118.2L344.3,122.1" fill="none" stroke="#5c5c84" stroke-width="0.7"/>
<path d="M293.6,77.5L292.5,76.2L292.6,74.6L298.2,95.1L299.3,96.3L301.4,97.1Z" fill="#9b9dc8" stroke="#9b9dc8" stroke-width="0.5"/><path d="M293.6,77.5L292.5,76.2L292.6,74.6M301.4,97.1L299.3,96.3L298.2,95.1" fill="none" stroke="#5c5c84" stroke-width="0.7"/>
<path d="M281.5,39.5L281.7,37.9L283.0,36.0L285.4,34.1L288.8,32.2L291.1,52.9L288.7,54.8L287.3,56.7L287.2,58.3L288.1,59.7Z" fill="#5e5e63" stroke="#5e5e63" stroke-width="0.5"/><path d="M281.5,39.5L281.7,37.9L283.0,36.0L285.4,34.1L288.8,32.2M288.1,59.7L287.2,58.3L287.3,56.7L288.7,54.8L291.1,52.9" fill="none" stroke="#5c5c84" stroke-width="0.7"/>
<path d="M322.4,70.4L317.4,73.3L312.3,75.6L307.4,77.2L302.8,78.2L298.9,78.6L295.8,78.3L293.6,77.5L301.4,97.1L304.5,97.4L308.4,97.1L312.9,96.1L317.8,94.5L322.9,92.2L328.0,89.4L332.7,86.0Z" fill="#aaacdc" stroke="#aaacdc" stroke-width="0.5"/><path d="M322.4,70.4L317.4,73.3L312.3,75.6L307.4,77.2L302.8,78.2L298.9,78.6L295.8,78.3L293.6,77.5M332.7,86.0L328.0,89.4L322.9,92.2L317.8,94.5L312.9,96.1L308.4,97.1L304.5,97.4L301.4,97.1" fill="none" stroke="#5c5c84" stroke-width="0.7"/>
<path d="M339.6,46.1L339.1,50.4L337.5,54.8L334.9,59.1L331.4,63.2L327.2,67.0L322.4,70.4L332.7,86.0L337.0,82.2L340.5,78.1L343.1,73.7L344.7,69.4L345.3,65.1L344.7,61.0Z" fill="#9b9dc8" stroke="#9b9dc8" stroke-width="0.5"/><path d="M339.6,46.1L339.1,50.4L337.5,54.8L334.9,59.1L331.4,63.2L327.2,67.0L322.4,70.4M344.7,61.0L345.3,65.1L344.7,69.4L343.1,73.7L340.5,78.1L337.0,82.2L332.7,86.0" fill="none" stroke="#5c5c84" stroke-width="0.7"/>
<path d="M282.5,40.8L281.5,39.5L288.1,59.7L290.1,60.5Z" fill="#9b9dc8" stroke="#9b9dc8" stroke-width="0.5"/><path d="M282.5,40.8L281.5,39.5M290.1,60.5L288.1,59.7" fill="none" stroke="#5c5c84" stroke-width="0.7"/>
<path d="M323.8,-1.1L326.5,2.3L328.1,6.0L332.2,21.2L329.5,17.9L325.9,15.1Z" fill="#69696e" stroke="#69696e" stroke-width="0.5"/><path d="M323.8,-1.1L326.5,2.3L328.1,6.0M325.9,15.1L329.5,17.9L332.2,21.2" fill="none" stroke="#5c5c84" stroke-width="0.7"/>
<path d="M328.1,6.0L328.6,10.1L328.0,14.4L326.3,18.8L323.5,23.1L320.0,27.2L315.7,30.9L310.9,34.3L321.2,49.9L325.5,46.1L329.1,42.0L331.9,37.7L333.6,33.4L334.3,29.1L333.8,25.0L332.2,21.2Z" fill="#9b9dc8" stroke="#9b9dc8" stroke-width="0.5"/><path d="M328.1,6.0L328.6,10.1L328.0,14.4L326.3,18.8L323.5,23.1L320.0,27.2L315.7,30.9L310.9,34.3M332.2,21.2L333.8,25.0L334.3,29.1L333.6,33.4L331.9,37.7L329.1,42.0L325.5,46.1L321.2,49.9" fill="none" stroke="#5c5c84" stroke-width="0.7"/>
<path d="M310.9,34.3L305.8,37.1L300.7,39.3L295.8,40.8L291.4,41.7L287.5,42.0L284.5,41.7L282.5,40.8L290.1,60.5L293.1,60.9L296.9,60.6L301.4,59.7L306.3,58.2L311.4,56.0L316.4,53.2L321.2,49.9Z" fill="#aaacdc" stroke="#aaacdc" stroke-width="0.5"/><path d="M310.9,34.3L305.8,37.1L300.7,39.3L295.8,40.8L291.4,41.7L287.5,42.0L284.5,41.7L282.5,40.8M321.2,49.9L316.4,53.2L311.4,56.0L306.3,58.2L301.4,59.7L296.9,60.6L293.1,60.9L290.1,60.5" fill="none" stroke="#5c5c84" stroke-width="0.7"/>
<path d="M156,43 C158,35 175,28 194,22 C203,20 206,27 203,35 C201,40 204,44 206,48" fill="none" stroke="#55557a" stroke-width="3.8" stroke-linecap="round" stroke-linejoin="round"/><path d="M156,43 C158,35 175,28 194,22 C203,20 206,27 203,35 C201,40 204,44 206,48" fill="none" stroke="#a8aadf" stroke-width="2.6" stroke-linecap="round" stroke-linejoin="round"/>
<path d="M215,30 C219,27 222,28 224,31" fill="none" stroke="#55557a" stroke-width="3.0" stroke-linecap="round" stroke-linejoin="round"/><path d="M215,30 C219,27 222,28 224,31" fill="none" stroke="#a8aadf" stroke-width="1.8" stroke-linecap="round" stroke-linejoin="round"/>
<path d="M300,36 C304,32 308,24 308,14 C308,8 311,3 314,4 C312,8 306,12 306,16 C312,22 324,26 333,31" fill="none" stroke="#55557a" stroke-width="3.4000000000000004" stroke-linecap="round" stroke-linejoin="round"/><path d="M300,36 C304,32 308,24 308,14 C308,8 311,3 314,4 C312,8 306,12 306,16 C312,22 324,26 333,31" fill="none" stroke="#a8aadf" stroke-width="2.2" stroke-linecap="round" stroke-linejoin="round"/>
<path d="M281,22 C290,18 300,18 306,22" fill="none" stroke="#55557a" stroke-width="3.5999999999999996" stroke-linecap="round" stroke-linejoin="round"/><path d="M281,22 C290,18 300,18 306,22" fill="none" stroke="#a8aadf" stroke-width="2.4" stroke-linecap="round" stroke-linejoin="round"/>
<path d="M264,34 L270,27 M268,30 L276,36 M262,40 L272,44" fill="none" stroke="#55557a" stroke-width="2.1" stroke-linecap="round" stroke-linejoin="round"/><path d="M264,34 L270,27 M268,30 L276,36 M262,40 L272,44" fill="none" stroke="#b8bae8" stroke-width="1.3" stroke-linecap="round" stroke-linejoin="round"/>
</g>
<line x1="250.2" y1="70.5" x2="253.8" y2="72.5" stroke="#2a3ee0" stroke-width="2.9" stroke-linecap="round"/>
<line x1="253.8" y1="72.5" x2="257.4" y2="74.4" stroke="#e8801a" stroke-width="2.9" stroke-linecap="round"/>
<line x1="257.4" y1="74.4" x2="257.9" y2="78.0" stroke="#e8801a" stroke-width="2.9" stroke-linecap="round"/>
<line x1="257.9" y1="78.0" x2="258.5" y2="81.6" stroke="#2a3ee0" stroke-width="2.9" stroke-linecap="round"/>
<line x1="258.5" y1="81.6" x2="255.8" y2="83.5" stroke="#2a3ee0" stroke-width="2.9" stroke-linecap="round"/>
<line x1="255.8" y1="83.5" x2="253" y2="85.5" stroke="#e8801a" stroke-width="2.9" stroke-linecap="round"/>
<line x1="253" y1="85.5" x2="248.8" y2="83.5" stroke="#e8801a" stroke-width="2.9" stroke-linecap="round"/>
<line x1="248.8" y1="83.5" x2="244.6" y2="81.6" stroke="#e8801a" stroke-width="2.9" stroke-linecap="round"/>
<line x1="244.6" y1="81.6" x2="244.6" y2="77.7" stroke="#e8801a" stroke-width="2.9" stroke-linecap="round"/>
<line x1="244.6" y1="77.7" x2="244.6" y2="73.8" stroke="#e8801a" stroke-width="2.9" stroke-linecap="round"/>
<line x1="244.6" y1="73.8" x2="247.4" y2="72.2" stroke="#e8801a" stroke-width="2.9" stroke-linecap="round"/>
<line x1="247.4" y1="72.2" x2="250.2" y2="70.5" stroke="#2a3ee0" stroke-width="2.9" stroke-linecap="round"/>
<line x1="244.6" y1="81.6" x2="243.2" y2="83.5" stroke="#e8801a" stroke-width="2.9" stroke-linecap="round"/>
<line x1="243.2" y1="83.5" x2="241.9" y2="85.5" stroke="#2a3ee0" stroke-width="2.9" stroke-linecap="round"/>
<line x1="241.9" y1="85.5" x2="243.8" y2="88.8" stroke="#2a3ee0" stroke-width="2.9" stroke-linecap="round"/>
<line x1="243.8" y1="88.8" x2="245.7" y2="92.1" stroke="#e8801a" stroke-width="2.9" stroke-linecap="round"/>
<line x1="245.7" y1="92.1" x2="249.3" y2="91.8" stroke="#e8801a" stroke-width="2.9" stroke-linecap="round"/>
<line x1="249.3" y1="91.8" x2="253" y2="91.6" stroke="#2a3ee0" stroke-width="2.9" stroke-linecap="round"/>
<line x1="253" y1="91.6" x2="253.0" y2="88.5" stroke="#2a3ee0" stroke-width="2.9" stroke-linecap="round"/>
<line x1="253.0" y1="88.5" x2="253" y2="85.5" stroke="#e8801a" stroke-width="2.9" stroke-linecap="round"/>
<line x1="250.2" y1="70.5" x2="249.1" y2="66.7" stroke="#2a3ee0" stroke-width="2.9" stroke-linecap="round"/>
<line x1="249.1" y1="66.7" x2="248" y2="62.8" stroke="#e8801a" stroke-width="2.9" stroke-linecap="round"/>
<line x1="244.6" y1="73.8" x2="241.0" y2="71.3" stroke="#e8801a" stroke-width="2.9" stroke-linecap="round"/>
<line x1="241.0" y1="71.3" x2="237.4" y2="68.9" stroke="#d84028" stroke-width="2.9" stroke-linecap="round"/>
<line x1="258.5" y1="81.6" x2="262.1" y2="84.4" stroke="#2a3ee0" stroke-width="2.9" stroke-linecap="round"/>
<line x1="262.1" y1="84.4" x2="265.7" y2="87.2" stroke="#e8801a" stroke-width="2.9" stroke-linecap="round"/>
<line x1="241.9" y1="85.5" x2="238.0" y2="84.1" stroke="#2a3ee0" stroke-width="2.9" stroke-linecap="round"/>
<line x1="238.0" y1="84.1" x2="234.1" y2="82.7" stroke="#e8801a" stroke-width="2.9" stroke-linecap="round"/>
<line x1="257.4" y1="74.4" x2="259.4" y2="72.2" stroke="#e8801a" stroke-width="2.9" stroke-linecap="round"/>
<line x1="259.4" y1="72.2" x2="261.3" y2="70" stroke="#e8801a" stroke-width="2.9" stroke-linecap="round"/>
<line x1="248" y1="62.8" x2="246.2" y2="63.1" stroke="#e8801a" stroke-width="1.3" stroke-linecap="round"/>
<line x1="246.2" y1="63.1" x2="244.5" y2="63.5" stroke="#f0c8a0" stroke-width="1.3" stroke-linecap="round"/>
<line x1="248" y1="62.8" x2="250.0" y2="62.4" stroke="#e8801a" stroke-width="1.3" stroke-linecap="round"/>
<line x1="250.0" y1="62.4" x2="252" y2="62" stroke="#f0c8a0" stroke-width="1.3" stroke-linecap="round"/>
<text x="255" y="47.6" font-family="Liberation Sans, sans-serif" font-weight="bold" font-size="10" fill="#111">R81</text>
<text x="277.2" y="77.3" font-family="Liberation Sans, sans-serif" font-weight="bold" font-size="10" fill="#111">A84</text>
<text x="273.3" y="93.8" font-family="Liberation Sans, sans-serif" font-weight="bold" font-size="10" fill="#111">N65</text>
<g fill="none" stroke="#2f4f80" stroke-width="1.5" stroke-dasharray="1.4 1.3"><rect x="58.6" y="13.9" width="63.8" height="34"/><rect x="141" y="4.7" width="213.7" height="122.9"/><line x1="122.4" y1="13.9" x2="141" y2="4.7"/><line x1="122.4" y1="47.9" x2="141" y2="127.6"/></g>
<text transform="translate(12.10,17.10) scale(0.9010,1)" font-family="Liberation Sans, sans-serif" font-weight="bold" font-size="16.96" fill="#000" xml:space="preserve" >A</text>
<text transform="translate(390.70,17.60) scale(0.8792,1)" font-family="Liberation Sans, sans-serif" font-weight="bold" font-size="15.80" fill="#000" xml:space="preserve" >B</text>
<text transform="translate(10.70,237.80) scale(1.0067,1)" font-family="Liberation Sans, sans-serif" font-weight="bold" font-size="14.35" fill="#000" xml:space="preserve" >C</text>
<text transform="translate(178.30,168.30) scale(1.0923,1)" font-family="Liberation Sans, sans-serif" font-weight="bold" font-size="13.04" fill="#111" xml:space="preserve" >Affinity =  - 4.79 kcal/mol</text>
<g shape-rendering="crispEdges">
<rect x="470.5" y="205.8" width="1.7" height="2.3" fill="#1f77b4" fill-opacity="0.5"/>
<rect x="477.2" y="203.5" width="1.7" height="4.6" fill="#1f77b4" fill-opacity="0.5"/>
<rect x="506.0" y="205.8" width="1.7" height="2.3" fill="#1f77b4" fill-opacity="0.5"/>
<rect x="513.0" y="205.8" width="1.7" height="2.3" fill="#1f77b4" fill-opacity="0.5"/>
<rect x="517.0" y="196.5" width="1.7" height="11.6" fill="#1f77b4" fill-opacity="0.5"/>
<rect x="520.0" y="203.5" width="1.7" height="4.6" fill="#1f77b4" fill-opacity="0.5"/>
<rect x="522.0" y="198.9" width="1.7" height="9.2" fill="#1f77b4" fill-opacity="0.5"/>
<rect x="523.7" y="198.9" width="1.7" height="9.2" fill="#1f77b4" fill-opacity="0.5"/>
<rect x="525.7" y="187.3" width="1.7" height="20.8" fill="#1f77b4" fill-opacity="0.5"/>
<rect x="527.4" y="196.5" width="1.7" height="11.6" fill="#1f77b4" fill-opacity="0.5"/>
<rect x="530.0" y="196.5" width="1.7" height="11.6" fill="#1f77b4" fill-opacity="0.5"/>
<rect x="531.7" y="189.6" width="1.7" height="18.5" fill="#1f77b4" fill-opacity="0.5"/>
<rect x="533.4" y="194.2" width="1.7" height="13.9" fill="#1f77b4" fill-opacity="0.5"/>
<rect x="535.1" y="185.0" width="1.7" height="23.1" fill="#1f77b4" fill-opacity="0.5"/>
<rect x="536.8" y="182.7" width="1.7" height="25.4" fill="#1f77b4" fill-opacity="0.5"/>
<rect x="538.5" y="182.7" width="1.7" height="25.4" fill="#1f77b4" fill-opacity="0.5"/>
<rect x="540.2" y="189.6" width="1.7" height="18.5" fill="#1f77b4" fill-opacity="0.5"/>
<rect x="541.9" y="161.9" width="1.7" height="46.2" fill="#1f77b4" fill-opacity="0.5"/>
<rect x="543.6" y="161.9" width="1.7" height="46.2" fill="#1f77b4" fill-opacity="0.5"/>
<rect x="545.3" y="145.7" width="1.7" height="62.4" fill="#1f77b4" fill-opacity="0.5"/>
<rect x="547.0" y="131.9" width="1.7" height="76.2" fill="#1f77b4" fill-opacity="0.5"/>
<rect x="548.7" y="148.0" width="1.7" height="60.1" fill="#1f77b4" fill-opacity="0.5"/>
<rect x="550.4" y="148.0" width="1.7" height="60.1" fill="#1f77b4" fill-opacity="0.5"/>
<rect x="552.1" y="134.2" width="1.7" height="73.9" fill="#1f77b4" fill-opacity="0.5"/>
<rect x="553.8" y="67.2" width="1.7" height="140.9" fill="#1f77b4" fill-opacity="0.5"/>
<rect x="555.5" y="92.6" width="1.7" height="115.5" fill="#1f77b4" fill-opacity="0.5"/>
<rect x="557.2" y="81.0" width="1.7" height="127.0" fill="#1f77b4" fill-opacity="0.5"/>
<rect x="558.9" y="81.0" width="1.7" height="127.0" fill="#1f77b4" fill-opacity="0.5"/>
<rect x="560.6" y="104.1" width="1.7" height="104.0" fill="#1f77b4" fill-opacity="0.5"/>
<rect x="562.3" y="108.8" width="1.7" height="99.3" fill="#1f77b4" fill-opacity="0.5"/>
<rect x="564.0" y="143.4" width="1.7" height="64.7" fill="#1f77b4" fill-opacity="0.5"/>
<rect x="565.7" y="143.4" width="1.7" height="64.7" fill="#1f77b4" fill-opacity="0.5"/>
<rect x="567.4" y="97.2" width="1.7" height="110.9" fill="#1f77b4" fill-opacity="0.5"/>
<rect x="569.1" y="150.3" width="1.7" height="57.8" fill="#1f77b4" fill-opacity="0.5"/>
<rect x="570.8" y="143.4" width="1.7" height="64.7" fill="#1f77b4" fill-opacity="0.5"/>
<rect x="572.5" y="148.0" width="1.7" height="60.1" fill="#1f77b4" fill-opacity="0.5"/>
<rect x="574.2" y="138.8" width="1.7" height="69.3" fill="#1f77b4" fill-opacity="0.5"/>
<rect x="575.9" y="134.2" width="1.7" height="73.9" fill="#1f77b4" fill-opacity="0.5"/>
<rect x="577.6" y="150.3" width="1.7" height="57.8" fill="#1f77b4" fill-opacity="0.5"/>
<rect x="579.3" y="150.3" width="1.7" height="57.8" fill="#1f77b4" fill-opacity="0.5"/>
<rect x="581.0" y="138.8" width="1.7" height="69.3" fill="#1f77b4" fill-opacity="0.5"/>
<rect x="582.7" y="157.3" width="1.7" height="50.8" fill="#1f77b4" fill-opacity="0.5"/>
<rect x="584.4" y="124.9" width="1.7" height="83.2" fill="#1f77b4" fill-opacity="0.5"/>
<rect x="586.1" y="120.3" width="1.7" height="87.8" fill="#1f77b4" fill-opacity="0.5"/>
<rect x="587.8" y="120.3" width="1.7" height="87.8" fill="#1f77b4" fill-opacity="0.5"/>
<rect x="589.5" y="131.9" width="1.7" height="76.2" fill="#1f77b4" fill-opacity="0.5"/>
<rect x="591.2" y="122.6" width="1.7" height="85.5" fill="#1f77b4" fill-opacity="0.5"/>
<rect x="592.9" y="120.3" width="1.7" height="87.8" fill="#1f77b4" fill-opacity="0.5"/>
<rect x="594.6" y="120.3" width="1.7" height="87.8" fill="#1f77b4" fill-opacity="0.5"/>
<rect x="596.3" y="148.0" width="1.7" height="60.1" fill="#1f77b4" fill-opacity="0.5"/>
<rect x="598.0" y="148.0" width="1.7" height="60.1" fill="#1f77b4" fill-opacity="0.5"/>
<rect x="599.7" y="152.7" width="1.7" height="55.4" fill="#1f77b4" fill-opacity="0.5"/>
<rect x="601.4" y="168.8" width="1.7" height="39.3" fill="#1f77b4" fill-opacity="0.5"/>
<rect x="603.1" y="173.4" width="1.7" height="34.6" fill="#1f77b4" fill-opacity="0.5"/>
<rect x="604.8" y="166.5" width="1.7" height="41.6" fill="#1f77b4" fill-opacity="0.5"/>
<rect x="606.5" y="164.2" width="1.7" height="43.9" fill="#1f77b4" fill-opacity="0.5"/>
<rect x="608.2" y="173.4" width="1.7" height="34.6" fill="#1f77b4" fill-opacity="0.5"/>
<rect x="609.9" y="171.1" width="1.7" height="37.0" fill="#1f77b4" fill-opacity="0.5"/>
<rect x="611.6" y="171.1" width="1.7" height="37.0" fill="#1f77b4" fill-opacity="0.5"/>
<rect x="613.3" y="189.6" width="1.7" height="18.5" fill="#1f77b4" fill-opacity="0.5"/>
<rect x="615.0" y="189.6" width="1.7" height="18.5" fill="#1f77b4" fill-opacity="0.5"/>
<rect x="616.7" y="198.9" width="1.7" height="9.2" fill="#1f77b4" fill-opacity="0.5"/>
<rect x="618.4" y="201.2" width="1.7" height="6.9" fill="#1f77b4" fill-opacity="0.5"/>
<rect x="620.1" y="187.3" width="1.7" height="20.8" fill="#1f77b4" fill-opacity="0.5"/>
<rect x="621.8" y="194.2" width="1.7" height="13.9" fill="#1f77b4" fill-opacity="0.5"/>
<rect x="623.5" y="196.5" width="1.7" height="11.6" fill="#1f77b4" fill-opacity="0.5"/>
<rect x="625.2" y="196.5" width="1.7" height="11.6" fill="#1f77b4" fill-opacity="0.5"/>
<rect x="626.9" y="201.2" width="1.7" height="6.9" fill="#1f77b4" fill-opacity="0.5"/>
<rect x="628.6" y="191.9" width="1.7" height="16.2" fill="#1f77b4" fill-opacity="0.5"/>
<rect x="630.3" y="191.9" width="1.7" height="16.2" fill="#1f77b4" fill-opacity="0.5"/>
<rect x="634.0" y="203.5" width="1.7" height="4.6" fill="#1f77b4" fill-opacity="0.5"/>
<rect x="640.0" y="203.5" width="1.7" height="4.6" fill="#1f77b4" fill-opacity="0.5"/>
<rect x="641.7" y="205.8" width="1.7" height="2.3" fill="#1f77b4" fill-opacity="0.5"/>
<rect x="643.4" y="203.5" width="1.7" height="4.6" fill="#1f77b4" fill-opacity="0.5"/>
<rect x="646.0" y="205.8" width="1.7" height="2.3" fill="#1f77b4" fill-opacity="0.5"/>
<rect x="655.9" y="191.9" width="1.7" height="16.2" fill="#1f77b4" fill-opacity="0.5"/>
<rect x="657.6" y="198.9" width="1.7" height="9.2" fill="#1f77b4" fill-opacity="0.5"/>
<rect x="452.6" y="203.5" width="2.1" height="4.6" fill="#ff7f0e" fill-opacity="0.5"/>
<rect x="456.5" y="205.8" width="2.1" height="2.3" fill="#ff7f0e" fill-opacity="0.5"/>
<rect x="460.6" y="206.7" width="2.1" height="1.4" fill="#ff7f0e" fill-opacity="0.5"/>
<rect x="482.5" y="205.8" width="2.1" height="2.3" fill="#ff7f0e" fill-opacity="0.5"/>
<rect x="484.6" y="203.5" width="2.1" height="4.6" fill="#ff7f0e" fill-opacity="0.5"/>
<rect x="486.7" y="203.5" width="2.1" height="4.6" fill="#ff7f0e" fill-opacity="0.5"/>
<rect x="490.8" y="205.8" width="2.1" height="2.3" fill="#ff7f0e" fill-opacity="0.5"/>
<rect x="494.5" y="201.2" width="2.1" height="6.9" fill="#ff7f0e" fill-opacity="0.5"/>
<rect x="496.6" y="205.8" width="2.1" height="2.3" fill="#ff7f0e" fill-opacity="0.5"/>
<rect x="500.0" y="201.2" width="2.1" height="6.9" fill="#ff7f0e" fill-opacity="0.5"/>
<rect x="502.1" y="205.8" width="2.1" height="2.3" fill="#ff7f0e" fill-opacity="0.5"/>
<rect x="506.5" y="205.8" width="2.1" height="2.3" fill="#ff7f0e" fill-opacity="0.5"/>
<rect x="508.6" y="203.5" width="2.1" height="4.6" fill="#ff7f0e" fill-opacity="0.5"/>
<rect x="510.7" y="201.2" width="2.1" height="6.9" fill="#ff7f0e" fill-opacity="0.5"/>
<rect x="512.8" y="194.2" width="2.1" height="13.9" fill="#ff7f0e" fill-opacity="0.5"/>
<rect x="514.9" y="196.5" width="2.1" height="11.6" fill="#ff7f0e" fill-opacity="0.5"/>
<rect x="517.0" y="198.9" width="2.1" height="9.2" fill="#ff7f0e" fill-opacity="0.5"/>
<rect x="519.1" y="201.2" width="2.1" height="6.9" fill="#ff7f0e" fill-opacity="0.5"/>
<rect x="521.2" y="196.5" width="2.1" height="11.6" fill="#ff7f0e" fill-opacity="0.5"/>
<rect x="523.3" y="198.9" width="2.1" height="9.2" fill="#ff7f0e" fill-opacity="0.5"/>
<rect x="525.4" y="196.5" width="2.1" height="11.6" fill="#ff7f0e" fill-opacity="0.5"/>
<rect x="527.5" y="191.9" width="2.1" height="16.2" fill="#ff7f0e" fill-opacity="0.5"/>
<rect x="529.6" y="189.6" width="2.1" height="18.5" fill="#ff7f0e" fill-opacity="0.5"/>
<rect x="531.7" y="194.2" width="2.1" height="13.9" fill="#ff7f0e" fill-opacity="0.5"/>
<rect x="533.8" y="189.6" width="2.1" height="18.5" fill="#ff7f0e" fill-opacity="0.5"/>
<rect x="535.9" y="194.2" width="2.1" height="13.9" fill="#ff7f0e" fill-opacity="0.5"/>
<rect x="538.0" y="189.6" width="2.1" height="18.5" fill="#ff7f0e" fill-opacity="0.5"/>
<rect x="540.1" y="191.9" width="2.1" height="16.2" fill="#ff7f0e" fill-opacity="0.5"/>
<rect x="542.2" y="196.5" width="2.1" height="11.6" fill="#ff7f0e" fill-opacity="0.5"/>
<rect x="544.3" y="191.9" width="2.1" height="16.2" fill="#ff7f0e" fill-opacity="0.5"/>
<rect x="546.4" y="191.9" width="2.1" height="16.2" fill="#ff7f0e" fill-opacity="0.5"/>
<rect x="548.5" y="178.1" width="2.1" height="30.0" fill="#ff7f0e" fill-opacity="0.5"/>
<rect x="550.6" y="152.7" width="2.1" height="55.4" fill="#ff7f0e" fill-opacity="0.5"/>
<rect x="552.7" y="150.3" width="2.1" height="57.8" fill="#ff7f0e" fill-opacity="0.5"/>
<rect x="554.8" y="150.3" width="2.1" height="57.8" fill="#ff7f0e" fill-opacity="0.5"/>
<rect x="556.9" y="152.7" width="2.1" height="55.4" fill="#ff7f0e" fill-opacity="0.5"/>
<rect x="559.0" y="122.6" width="2.1" height="85.5" fill="#ff7f0e" fill-opacity="0.5"/>
<rect x="561.1" y="145.7" width="2.1" height="62.4" fill="#ff7f0e" fill-opacity="0.5"/>
<rect x="563.2" y="150.3" width="2.1" height="57.8" fill="#ff7f0e" fill-opacity="0.5"/>
<rect x="565.3" y="152.7" width="2.1" height="55.4" fill="#ff7f0e" fill-opacity="0.5"/>
<rect x="567.4" y="152.7" width="2.1" height="55.4" fill="#ff7f0e" fill-opacity="0.5"/>
<rect x="569.5" y="122.6" width="2.1" height="85.5" fill="#ff7f0e" fill-opacity="0.5"/>
<rect x="571.6" y="138.8" width="2.1" height="69.3" fill="#ff7f0e" fill-opacity="0.5"/>
<rect x="573.7" y="138.8" width="2.1" height="69.3" fill="#ff7f0e" fill-opacity="0.5"/>
<rect x="575.8" y="134.2" width="2.1" height="73.9" fill="#ff7f0e" fill-opacity="0.5"/>
<rect x="577.9" y="111.1" width="2.1" height="97.0" fill="#ff7f0e" fill-opacity="0.5"/>
<rect x="580.0" y="113.4" width="2.1" height="94.7" fill="#ff7f0e" fill-opacity="0.5"/>
<rect x="582.1" y="39.5" width="2.1" height="168.6" fill="#ff7f0e" fill-opacity="0.5"/>
<rect x="584.2" y="16.4" width="2.1" height="191.7" fill="#ff7f0e" fill-opacity="0.5"/>
<rect x="586.3" y="81.0" width="2.1" height="127.0" fill="#ff7f0e" fill-opacity="0.5"/>
<rect x="588.4" y="14.1" width="2.1" height="194.0" fill="#ff7f0e" fill-opacity="0.5"/>
<rect x="590.5" y="46.4" width="2.1" height="161.7" fill="#ff7f0e" fill-opacity="0.5"/>
<rect x="592.6" y="81.0" width="2.1" height="127.0" fill="#ff7f0e" fill-opacity="0.5"/>
<rect x="594.7" y="81.0" width="2.1" height="127.0" fill="#ff7f0e" fill-opacity="0.5"/>
<rect x="596.8" y="69.5" width="2.1" height="138.6" fill="#ff7f0e" fill-opacity="0.5"/>
<rect x="598.9" y="78.7" width="2.1" height="129.4" fill="#ff7f0e" fill-opacity="0.5"/>
<rect x="601.0" y="81.0" width="2.1" height="127.0" fill="#ff7f0e" fill-opacity="0.5"/>
<rect x="603.1" y="51.0" width="2.1" height="157.1" fill="#ff7f0e" fill-opacity="0.5"/>
<rect x="605.2" y="39.5" width="2.1" height="168.6" fill="#ff7f0e" fill-opacity="0.5"/>
<rect x="607.3" y="48.7" width="2.1" height="159.4" fill="#ff7f0e" fill-opacity="0.5"/>
<rect x="609.4" y="118.0" width="2.1" height="90.1" fill="#ff7f0e" fill-opacity="0.5"/>
<rect x="611.5" y="94.9" width="2.1" height="113.2" fill="#ff7f0e" fill-opacity="0.5"/>
<rect x="613.6" y="124.9" width="2.1" height="83.2" fill="#ff7f0e" fill-opacity="0.5"/>
<rect x="615.7" y="155.0" width="2.1" height="53.1" fill="#ff7f0e" fill-opacity="0.5"/>
<rect x="617.8" y="134.2" width="2.1" height="73.9" fill="#ff7f0e" fill-opacity="0.5"/>
<rect x="619.9" y="166.5" width="2.1" height="41.6" fill="#ff7f0e" fill-opacity="0.5"/>
<rect x="622.0" y="185.0" width="2.1" height="23.1" fill="#ff7f0e" fill-opacity="0.5"/>
<rect x="624.1" y="187.3" width="2.1" height="20.8" fill="#ff7f0e" fill-opacity="0.5"/>
<rect x="626.2" y="196.5" width="2.1" height="11.6" fill="#ff7f0e" fill-opacity="0.5"/>
<rect x="628.3" y="194.2" width="2.1" height="13.9" fill="#ff7f0e" fill-opacity="0.5"/>
<rect x="630.4" y="201.2" width="2.1" height="6.9" fill="#ff7f0e" fill-opacity="0.5"/>
<rect x="632.5" y="201.2" width="2.1" height="6.9" fill="#ff7f0e" fill-opacity="0.5"/>
<rect x="634.6" y="203.5" width="2.1" height="4.6" fill="#ff7f0e" fill-opacity="0.5"/>
<rect x="636.7" y="203.5" width="2.1" height="4.6" fill="#ff7f0e" fill-opacity="0.5"/>
<rect x="642.8" y="203.5" width="2.1" height="4.6" fill="#ff7f0e" fill-opacity="0.5"/>
<rect x="646.9" y="205.8" width="2.1" height="2.3" fill="#ff7f0e" fill-opacity="0.5"/>
<rect x="651.5" y="198.9" width="2.1" height="9.2" fill="#ff7f0e" fill-opacity="0.5"/>
<rect x="653.6" y="203.5" width="2.1" height="4.6" fill="#ff7f0e" fill-opacity="0.5"/>
</g>
<rect x="439.6" y="5.0" width="243.2" height="203.1" fill="none" stroke="#262626" stroke-width="1.2"/>
<line x1="436.8" y1="208.1" x2="439.6" y2="208.1" stroke="#262626" stroke-width="1"/>
<text transform="translate(428.60,211.90) scale(1.0873,1)" font-family="Liberation Sans, sans-serif" font-weight="bold" font-size="8.29" fill="#111">0</text>
<line x1="436.8" y1="185.0" x2="439.6" y2="185.0" stroke="#262626" stroke-width="1"/>
<text transform="translate(423.60,188.80) scale(1.0873,1)" font-family="Liberation Sans, sans-serif" font-weight="bold" font-size="8.29" fill="#111">10</text>
<line x1="436.8" y1="161.9" x2="439.6" y2="161.9" stroke="#262626" stroke-width="1"/>
<text transform="translate(423.60,165.70) scale(1.0873,1)" font-family="Liberation Sans, sans-serif" font-weight="bold" font-size="8.29" fill="#111">20</text>
<line x1="436.8" y1="138.8" x2="439.6" y2="138.8" stroke="#262626" stroke-width="1"/>
<text transform="translate(423.60,142.60) scale(1.0873,1)" font-family="Liberation Sans, sans-serif" font-weight="bold" font-size="8.29" fill="#111">30</text>
<line x1="436.8" y1="115.7" x2="439.6" y2="115.7" stroke="#262626" stroke-width="1"/>
<text transform="translate(423.60,119.50) scale(1.0873,1)" font-family="Liberation Sans, sans-serif" font-weight="bold" font-size="8.29" fill="#111">40</text>
<line x1="436.8" y1="92.6" x2="439.6" y2="92.6" stroke="#262626" stroke-width="1"/>
<text transform="translate(423.60,96.40) scale(1.0873,1)" font-family="Liberation Sans, sans-serif" font-weight="bold" font-size="8.29" fill="#111">50</text>
<line x1="436.8" y1="69.5" x2="439.6" y2="69.5" stroke="#262626" stroke-width="1"/>
<text transform="translate(423.60,73.30) scale(1.0873,1)" font-family="Liberation Sans, sans-serif" font-weight="bold" font-size="8.29" fill="#111">60</text>
<line x1="436.8" y1="46.4" x2="439.6" y2="46.4" stroke="#262626" stroke-width="1"/>
<text transform="translate(423.60,50.20) scale(1.0873,1)" font-family="Liberation Sans, sans-serif" font-weight="bold" font-size="8.29" fill="#111">70</text>
<line x1="436.8" y1="23.3" x2="439.6" y2="23.3" stroke="#262626" stroke-width="1"/>
<text transform="translate(423.60,27.10) scale(1.0873,1)" font-family="Liberation Sans, sans-serif" font-weight="bold" font-size="8.29" fill="#111">80</text>
<line x1="465.1" y1="208.1" x2="465.1" y2="210.9" stroke="#262626" stroke-width="1"/>
<text transform="translate(456.70,220.30) scale(1.2389,1)" font-family="Liberation Sans, sans-serif" font-weight="bold" font-size="8.00" fill="#111">−14</text>
<line x1="494.6" y1="208.1" x2="494.6" y2="210.9" stroke="#262626" stroke-width="1"/>
<text transform="translate(486.20,220.30) scale(1.2389,1)" font-family="Liberation Sans, sans-serif" font-weight="bold" font-size="8.00" fill="#111">−12</text>
<line x1="524.1" y1="208.1" x2="524.1" y2="210.9" stroke="#262626" stroke-width="1"/>
<text transform="translate(515.70,220.30) scale(1.2389,1)" font-family="Liberation Sans, sans-serif" font-weight="bold" font-size="8.00" fill="#111">−10</text>
<line x1="553.6" y1="208.1" x2="553.6" y2="210.9" stroke="#262626" stroke-width="1"/>
<text transform="translate(547.95,220.30) scale(1.2389,1)" font-family="Liberation Sans, sans-serif" font-weight="bold" font-size="8.00" fill="#111">−8</text>
<line x1="583.1" y1="208.1" x2="583.1" y2="210.9" stroke="#262626" stroke-width="1"/>
<text transform="translate(577.45,220.30) scale(1.2389,1)" font-family="Liberation Sans, sans-serif" font-weight="bold" font-size="8.00" fill="#111">−6</text>
<line x1="612.6" y1="208.1" x2="612.6" y2="210.9" stroke="#262626" stroke-width="1"/>
<text transform="translate(606.95,220.30) scale(1.2389,1)" font-family="Liberation Sans, sans-serif" font-weight="bold" font-size="8.00" fill="#111">−4</text>
<line x1="642.1" y1="208.1" x2="642.1" y2="210.9" stroke="#262626" stroke-width="1"/>
<text transform="translate(636.45,220.30) scale(1.2389,1)" font-family="Liberation Sans, sans-serif" font-weight="bold" font-size="8.00" fill="#111">−2</text>
<line x1="671.6" y1="208.1" x2="671.6" y2="210.9" stroke="#262626" stroke-width="1"/>
<text transform="translate(668.85,220.30) scale(1.2389,1)" font-family="Liberation Sans, sans-serif" font-weight="bold" font-size="8.00" fill="#111">0</text>
<text transform="translate(509.70,233.90) scale(1.0380,1)" font-family="Liberation Sans, sans-serif" font-weight="bold" font-size="11.88" fill="#111" xml:space="preserve" >Affinity (kcal/mol)</text>
<text transform="translate(419.60,136.00) rotate(-90) scale(1.1364,1)" font-family="Liberation Sans, sans-serif" font-weight="bold" font-size="11.45" fill="#111" xml:space="preserve">Numbers</text>
<rect x="445.3" y="12.9" width="13.7" height="5.0" fill="#1f77b4" fill-opacity="0.5"/>
<rect x="445.3" y="24.0" width="13.7" height="5.3" fill="#ff7f0e" fill-opacity="0.5"/>
<text transform="translate(464.70,18.90) scale(1.0001,1)" font-family="Liberation Sans, sans-serif" font-weight="bold" font-size="8.28" fill="#111" xml:space="preserve" >bitterants</text>
<text transform="translate(464.70,29.60) scale(0.9818,1)" font-family="Liberation Sans, sans-serif" font-weight="bold" font-size="8.28" fill="#111" xml:space="preserve" >non-bitterants</text>
<path d="M46.5,268.5 L51.6,278.2 L57.4,286.9 L63.2,292.7 L69.0,295.6 L77.7,301.4 L85.0,307.2 L92.2,311.6 L98.0,317.4 L98.0,321.7 L93.7,327.5 L86.4,331.9 L77.7,333.3 L71.9,331.9 L69.0,326.1 L63.2,317.4 L57.4,307.2 L51.6,292.7 L47.3,276.8Z" fill="#72a9d4"/>
<circle cx="47.1" cy="268.8" r="1.55" fill="#72a9d4"/>
<circle cx="46.3" cy="269.4" r="1.55" fill="#72a9d4"/>
<circle cx="48.0" cy="271.3" r="1.55" fill="#72a9d4"/>
<circle cx="49.3" cy="272.3" r="1.55" fill="#72a9d4"/>
<circle cx="49.7" cy="273.8" r="1.55" fill="#72a9d4"/>
<circle cx="50.1" cy="275.3" r="1.55" fill="#72a9d4"/>
<circle cx="51.3" cy="276.9" r="1.55" fill="#72a9d4"/>
<circle cx="52.9" cy="275.7" r="1.55" fill="#72a9d4"/>
<circle cx="53.1" cy="278.5" r="1.55" fill="#72a9d4"/>
<circle cx="53.2" cy="280.2" r="1.55" fill="#72a9d4"/>
<circle cx="53.4" cy="281.7" r="1.55" fill="#72a9d4"/>
<circle cx="55.1" cy="282.9" r="1.55" fill="#72a9d4"/>
<circle cx="55.7" cy="284.4" r="1.55" fill="#72a9d4"/>
<circle cx="56.6" cy="285.1" r="1.55" fill="#72a9d4"/>
<circle cx="58.8" cy="282.9" r="1.55" fill="#72a9d4"/>
<circle cx="58.5" cy="286.3" r="1.55" fill="#72a9d4"/>
<circle cx="57.6" cy="287.5" r="1.55" fill="#72a9d4"/>
<circle cx="60.3" cy="288.4" r="1.55" fill="#72a9d4"/>
<circle cx="61.5" cy="289.8" r="1.55" fill="#72a9d4"/>
<circle cx="61.8" cy="291.1" r="1.55" fill="#72a9d4"/>
<circle cx="60.9" cy="285.3" r="1.55" fill="#72a9d4"/>
<circle cx="63.6" cy="290.9" r="1.55" fill="#72a9d4"/>
<circle cx="64.8" cy="293.7" r="1.55" fill="#72a9d4"/>
<circle cx="65.8" cy="294.5" r="1.55" fill="#72a9d4"/>
<circle cx="67.1" cy="294.5" r="1.55" fill="#72a9d4"/>
<circle cx="61.9" cy="296.5" r="1.55" fill="#72a9d4"/>
<circle cx="68.5" cy="294.0" r="1.55" fill="#72a9d4"/>
<circle cx="70.0" cy="295.0" r="1.55" fill="#72a9d4"/>
<circle cx="72.5" cy="297.4" r="1.55" fill="#72a9d4"/>
<circle cx="72.8" cy="299.3" r="1.55" fill="#72a9d4"/>
<circle cx="73.9" cy="300.0" r="1.55" fill="#72a9d4"/>
<circle cx="76.4" cy="301.7" r="1.55" fill="#72a9d4"/>
<circle cx="75.1" cy="296.9" r="1.55" fill="#72a9d4"/>
<circle cx="78.5" cy="301.8" r="1.55" fill="#72a9d4"/>
<circle cx="78.4" cy="302.2" r="1.55" fill="#72a9d4"/>
<circle cx="79.3" cy="304.0" r="1.55" fill="#72a9d4"/>
<circle cx="81.4" cy="304.8" r="1.55" fill="#72a9d4"/>
<circle cx="82.6" cy="305.8" r="1.55" fill="#72a9d4"/>
<circle cx="83.5" cy="306.3" r="1.55" fill="#72a9d4"/>
<circle cx="83.7" cy="302.4" r="1.55" fill="#72a9d4"/>
<circle cx="85.1" cy="306.7" r="1.55" fill="#72a9d4"/>
<circle cx="86.7" cy="309.3" r="1.55" fill="#72a9d4"/>
<circle cx="88.2" cy="309.6" r="1.55" fill="#72a9d4"/>
<circle cx="89.9" cy="309.3" r="1.55" fill="#72a9d4"/>
<circle cx="89.9" cy="309.5" r="1.55" fill="#72a9d4"/>
<circle cx="84.7" cy="309.6" r="1.55" fill="#72a9d4"/>
<circle cx="93.0" cy="312.2" r="1.55" fill="#72a9d4"/>
<circle cx="93.8" cy="312.2" r="1.55" fill="#72a9d4"/>
<circle cx="95.1" cy="313.9" r="1.55" fill="#72a9d4"/>
<circle cx="95.5" cy="314.0" r="1.55" fill="#72a9d4"/>
<circle cx="96.3" cy="316.0" r="1.55" fill="#72a9d4"/>
<circle cx="91.3" cy="316.0" r="1.55" fill="#72a9d4"/>
<circle cx="99.3" cy="317.2" r="1.55" fill="#72a9d4"/>
<circle cx="99.5" cy="318.4" r="1.55" fill="#72a9d4"/>
<circle cx="98.0" cy="320.4" r="1.55" fill="#72a9d4"/>
<circle cx="98.1" cy="321.9" r="1.55" fill="#72a9d4"/>
<circle cx="98.1" cy="322.9" r="1.55" fill="#72a9d4"/>
<circle cx="96.2" cy="324.0" r="1.55" fill="#72a9d4"/>
<circle cx="95.5" cy="325.9" r="1.55" fill="#72a9d4"/>
<circle cx="94.0" cy="326.8" r="1.55" fill="#72a9d4"/>
<circle cx="99.4" cy="324.9" r="1.55" fill="#72a9d4"/>
<circle cx="94.4" cy="327.9" r="1.55" fill="#72a9d4"/>
<circle cx="91.5" cy="329.0" r="1.55" fill="#72a9d4"/>
<circle cx="90.6" cy="329.7" r="1.55" fill="#72a9d4"/>
<circle cx="89.0" cy="330.8" r="1.55" fill="#72a9d4"/>
<circle cx="87.7" cy="330.4" r="1.55" fill="#72a9d4"/>
<circle cx="85.2" cy="328.6" r="1.55" fill="#72a9d4"/>
<circle cx="86.4" cy="332.7" r="1.55" fill="#72a9d4"/>
<circle cx="84.5" cy="332.8" r="1.55" fill="#72a9d4"/>
<circle cx="83.1" cy="333.7" r="1.55" fill="#72a9d4"/>
<circle cx="81.1" cy="331.3" r="1.55" fill="#72a9d4"/>
<circle cx="79.6" cy="333.8" r="1.55" fill="#72a9d4"/>
<circle cx="78.3" cy="336.0" r="1.55" fill="#72a9d4"/>
<circle cx="78.0" cy="333.1" r="1.55" fill="#72a9d4"/>
<circle cx="76.7" cy="332.9" r="1.55" fill="#72a9d4"/>
<circle cx="74.5" cy="331.3" r="1.55" fill="#72a9d4"/>
<circle cx="73.4" cy="332.0" r="1.55" fill="#72a9d4"/>
<circle cx="72.2" cy="331.9" r="1.55" fill="#72a9d4"/>
<circle cx="70.1" cy="330.1" r="1.55" fill="#72a9d4"/>
<circle cx="69.4" cy="329.3" r="1.55" fill="#72a9d4"/>
<circle cx="69.6" cy="327.8" r="1.55" fill="#72a9d4"/>
<circle cx="66.5" cy="329.4" r="1.55" fill="#72a9d4"/>
<circle cx="68.9" cy="325.7" r="1.55" fill="#72a9d4"/>
<circle cx="68.0" cy="324.0" r="1.55" fill="#72a9d4"/>
<circle cx="66.4" cy="323.8" r="1.55" fill="#72a9d4"/>
<circle cx="66.1" cy="321.3" r="1.55" fill="#72a9d4"/>
<circle cx="64.1" cy="320.2" r="1.55" fill="#72a9d4"/>
<circle cx="64.2" cy="318.6" r="1.55" fill="#72a9d4"/>
<circle cx="63.0" cy="321.7" r="1.55" fill="#72a9d4"/>
<circle cx="64.8" cy="316.9" r="1.55" fill="#72a9d4"/>
<circle cx="62.3" cy="315.6" r="1.55" fill="#72a9d4"/>
<circle cx="60.3" cy="315.2" r="1.55" fill="#72a9d4"/>
<circle cx="61.6" cy="312.1" r="1.55" fill="#72a9d4"/>
<circle cx="60.5" cy="311.9" r="1.55" fill="#72a9d4"/>
<circle cx="60.0" cy="310.2" r="1.55" fill="#72a9d4"/>
<circle cx="58.6" cy="309.2" r="1.55" fill="#72a9d4"/>
<circle cx="61.3" cy="306.3" r="1.55" fill="#72a9d4"/>
<circle cx="57.0" cy="307.2" r="1.55" fill="#72a9d4"/>
<circle cx="57.2" cy="305.8" r="1.55" fill="#72a9d4"/>
<circle cx="56.2" cy="304.4" r="1.55" fill="#72a9d4"/>
<circle cx="54.4" cy="302.6" r="1.55" fill="#72a9d4"/>
<circle cx="55.1" cy="301.2" r="1.55" fill="#72a9d4"/>
<circle cx="54.4" cy="298.9" r="1.55" fill="#72a9d4"/>
<circle cx="55.3" cy="297.1" r="1.55" fill="#72a9d4"/>
<circle cx="53.2" cy="295.8" r="1.55" fill="#72a9d4"/>
<circle cx="52.6" cy="294.6" r="1.55" fill="#72a9d4"/>
<circle cx="54.8" cy="291.5" r="1.55" fill="#72a9d4"/>
<circle cx="56.5" cy="297.6" r="1.55" fill="#72a9d4"/>
<circle cx="51.6" cy="293.0" r="1.55" fill="#72a9d4"/>
<circle cx="51.2" cy="291.1" r="1.55" fill="#72a9d4"/>
<circle cx="51.8" cy="288.8" r="1.55" fill="#72a9d4"/>
<circle cx="50.2" cy="288.3" r="1.55" fill="#72a9d4"/>
<circle cx="49.8" cy="285.9" r="1.55" fill="#72a9d4"/>
<circle cx="48.7" cy="285.1" r="1.55" fill="#72a9d4"/>
<circle cx="48.2" cy="283.0" r="1.55" fill="#72a9d4"/>
<circle cx="49.0" cy="281.4" r="1.55" fill="#72a9d4"/>
<circle cx="47.4" cy="280.4" r="1.55" fill="#72a9d4"/>
<circle cx="48.2" cy="278.4" r="1.55" fill="#72a9d4"/>
<circle cx="45.5" cy="281.7" r="1.55" fill="#72a9d4"/>
<circle cx="51.4" cy="277.6" r="1.55" fill="#72a9d4"/>
<circle cx="48.0" cy="276.3" r="1.55" fill="#72a9d4"/>
<circle cx="46.4" cy="275.4" r="1.55" fill="#72a9d4"/>
<circle cx="46.1" cy="274.0" r="1.55" fill="#72a9d4"/>
<circle cx="45.7" cy="271.5" r="1.55" fill="#72a9d4"/>
<circle cx="47.5" cy="270.5" r="1.55" fill="#72a9d4"/>
<circle cx="43.6" cy="271.2" r="1.55" fill="#72a9d4"/>
<circle cx="54.0" cy="263.8" r="1.6" fill="#72a9d4"/>
<circle cx="59.6" cy="265.2" r="1.6" fill="#72a9d4"/>
<circle cx="61.0" cy="266.7" r="1.6" fill="#72a9d4"/>
<circle cx="64.3" cy="266.7" r="1.6" fill="#72a9d4"/>
<circle cx="73.0" cy="264.2" r="1.6" fill="#72a9d4"/>
<circle cx="75.1" cy="263.8" r="1.6" fill="#72a9d4"/>
<circle cx="80.2" cy="263.8" r="1.6" fill="#72a9d4"/>
<circle cx="81.7" cy="263.2" r="1.6" fill="#72a9d4"/>
<circle cx="64.3" cy="277.6" r="1.6" fill="#72a9d4"/>
<circle cx="76.1" cy="278.7" r="1.6" fill="#72a9d4"/>
<circle cx="78.2" cy="277.6" r="1.6" fill="#72a9d4"/>
<circle cx="86.4" cy="296.2" r="1.6" fill="#72a9d4"/>
<circle cx="96.8" cy="295.2" r="1.6" fill="#72a9d4"/>
<circle cx="80.2" cy="304.5" r="1.6" fill="#72a9d4"/>
<circle cx="85.4" cy="306.6" r="1.6" fill="#72a9d4"/>
<circle cx="99.9" cy="304.5" r="1.6" fill="#72a9d4"/>
<circle cx="66.8" cy="324.1" r="1.6" fill="#72a9d4"/>
<circle cx="63.7" cy="317.9" r="1.6" fill="#72a9d4"/>
<circle cx="144.3" cy="282.2" r="1.6" fill="#72a9d4"/>
<circle cx="145.4" cy="286.7" r="1.6" fill="#72a9d4"/>
<circle cx="86.6" cy="295.5" r="1.6" fill="#72a9d4"/>
<circle cx="97.7" cy="295.1" r="1.6" fill="#72a9d4"/>
<circle cx="118.8" cy="297.3" r="1.6" fill="#72a9d4"/>
<circle cx="132.1" cy="295.1" r="1.6" fill="#72a9d4"/>
<circle cx="99.9" cy="304.8" r="1.6" fill="#72a9d4"/>
<circle cx="118.8" cy="302.2" r="1.6" fill="#72a9d4"/>
<circle cx="129.9" cy="303.3" r="1.6" fill="#72a9d4"/>
<circle cx="123.2" cy="306.2" r="1.6" fill="#72a9d4"/>
<circle cx="119.9" cy="308.8" r="1.6" fill="#72a9d4"/>
<circle cx="146.5" cy="303.9" r="1.6" fill="#72a9d4"/>
<circle cx="147.6" cy="303.9" r="1.6" fill="#72a9d4"/>
<circle cx="128.8" cy="312.2" r="1.6" fill="#72a9d4"/>
<circle cx="85.5" cy="306.6" r="1.6" fill="#72a9d4"/>
<circle cx="108.8" cy="313.3" r="1.6" fill="#72a9d4"/>
<circle cx="111.0" cy="315.0" r="1.6" fill="#72a9d4"/>
<circle cx="115.5" cy="315.5" r="1.6" fill="#72a9d4"/>
<circle cx="117.7" cy="315.0" r="1.6" fill="#72a9d4"/>
<circle cx="121.0" cy="317.7" r="1.6" fill="#72a9d4"/>
<circle cx="123.2" cy="321.0" r="1.6" fill="#72a9d4"/>
<circle cx="104.4" cy="319.9" r="1.6" fill="#72a9d4"/>
<circle cx="106.6" cy="321.0" r="1.6" fill="#72a9d4"/>
<circle cx="111.0" cy="321.0" r="1.6" fill="#72a9d4"/>
<circle cx="103.3" cy="326.6" r="1.6" fill="#72a9d4"/>
<circle cx="107.7" cy="324.3" r="1.6" fill="#72a9d4"/>
<circle cx="117.7" cy="325.5" r="1.6" fill="#72a9d4"/>
<circle cx="116.6" cy="331.0" r="1.6" fill="#72a9d4"/>
<circle cx="114.3" cy="333.2" r="1.6" fill="#72a9d4"/>
<circle cx="117.7" cy="331.0" r="1.6" fill="#72a9d4"/>
<circle cx="129.9" cy="324.3" r="1.6" fill="#72a9d4"/>
<circle cx="87.7" cy="336.5" r="1.6" fill="#72a9d4"/>
<circle cx="94.4" cy="337.6" r="1.6" fill="#72a9d4"/>
<circle cx="102.2" cy="336.5" r="1.6" fill="#72a9d4"/>
<circle cx="106.6" cy="334.3" r="1.6" fill="#72a9d4"/>
<circle cx="107.7" cy="339.9" r="1.6" fill="#72a9d4"/>
<circle cx="115.5" cy="336.5" r="1.6" fill="#72a9d4"/>
<circle cx="118.8" cy="336.5" r="1.6" fill="#72a9d4"/>
<circle cx="75.5" cy="342.1" r="1.6" fill="#72a9d4"/>
<circle cx="87.7" cy="344.3" r="1.6" fill="#72a9d4"/>
<circle cx="129.9" cy="343.2" r="1.6" fill="#72a9d4"/>
<circle cx="102.2" cy="350.5" r="1.6" fill="#72a9d4"/>
<circle cx="76.7" cy="353.2" r="1.6" fill="#72a9d4"/>
<circle cx="78.9" cy="355.4" r="1.6" fill="#72a9d4"/>
<circle cx="85.5" cy="352.7" r="1.6" fill="#72a9d4"/>
<circle cx="90.0" cy="353.2" r="1.6" fill="#72a9d4"/>
<circle cx="118.8" cy="355.4" r="1.6" fill="#72a9d4"/>
<circle cx="90.0" cy="360.9" r="1.6" fill="#72a9d4"/>
<rect x="42.9" y="258.6" width="109.4" height="107.4" fill="none" stroke="#1a1a1a" stroke-width="1.1"/>
<text transform="translate(82.00,256.70) scale(0.9978,1)" font-family="Liberation Sans, sans-serif" font-weight="normal" font-size="9.14" fill="#111" xml:space="preserve" >r = 0.63</text>
<text transform="translate(62.10,392.60) scale(0.9332,1)" font-family="Liberation Sans, sans-serif" font-weight="normal" font-size="9.71" fill="#111" xml:space="preserve" >HeavyAtomCount</text>
<line x1="43.9" y1="366.0" x2="43.9" y2="369.4" stroke="#1a1a1a" stroke-width="1"/>
<text transform="translate(42.30,379.60) scale(0.8969,1)" font-family="Liberation Sans, sans-serif" font-weight="normal" font-size="6.43" fill="#111">0</text>
<line x1="67.5" y1="366.0" x2="67.5" y2="369.4" stroke="#1a1a1a" stroke-width="1"/>
<text transform="translate(64.25,379.60) scale(0.8969,1)" font-family="Liberation Sans, sans-serif" font-weight="normal" font-size="6.43" fill="#111">20</text>
<line x1="91.0" y1="366.0" x2="91.0" y2="369.4" stroke="#1a1a1a" stroke-width="1"/>
<text transform="translate(87.80,379.60) scale(0.8969,1)" font-family="Liberation Sans, sans-serif" font-weight="normal" font-size="6.43" fill="#111">40</text>
<line x1="114.6" y1="366.0" x2="114.6" y2="369.4" stroke="#1a1a1a" stroke-width="1"/>
<text transform="translate(111.35,379.60) scale(0.8969,1)" font-family="Liberation Sans, sans-serif" font-weight="normal" font-size="6.43" fill="#111">60</text>
<line x1="138.1" y1="366.0" x2="138.1" y2="369.4" stroke="#1a1a1a" stroke-width="1"/>
<text transform="translate(134.90,379.60) scale(0.8969,1)" font-family="Liberation Sans, sans-serif" font-weight="normal" font-size="6.43" fill="#111">80</text>
<line x1="39.5" y1="275.7" x2="42.9" y2="275.7" stroke="#1a1a1a" stroke-width="1"/>
<text transform="translate(21.90,278.10) scale(1.0987,1)" font-family="Liberation Sans, sans-serif" font-weight="normal" font-size="5.71" fill="#111">−2.5</text>
<line x1="39.5" y1="293.8" x2="42.9" y2="293.8" stroke="#1a1a1a" stroke-width="1"/>
<text transform="translate(21.90,296.20) scale(1.0987,1)" font-family="Liberation Sans, sans-serif" font-weight="normal" font-size="5.71" fill="#111">−5.0</text>
<line x1="39.5" y1="311.9" x2="42.9" y2="311.9" stroke="#1a1a1a" stroke-width="1"/>
<text transform="translate(21.90,314.30) scale(1.0987,1)" font-family="Liberation Sans, sans-serif" font-weight="normal" font-size="5.71" fill="#111">−7.5</text>
<line x1="39.5" y1="330.0" x2="42.9" y2="330.0" stroke="#1a1a1a" stroke-width="1"/>
<text transform="translate(18.42,332.40) scale(1.0987,1)" font-family="Liberation Sans, sans-serif" font-weight="normal" font-size="5.71" fill="#111">−10.0</text>
<line x1="39.5" y1="348.1" x2="42.9" y2="348.1" stroke="#1a1a1a" stroke-width="1"/>
<text transform="translate(18.42,350.50) scale(1.0987,1)" font-family="Liberation Sans, sans-serif" font-weight="normal" font-size="5.71" fill="#111">−12.5</text>
<text transform="translate(10.60,348.70) rotate(-90) scale(1.0798,1)" font-family="Liberation Sans, sans-serif" font-weight="normal" font-size="8.84" fill="#111" xml:space="preserve">Affinity (kcal/mol)</text>
<circle cx="179.7" cy="263.8" r="1.6" fill="#72a9d4"/>
<circle cx="179.7" cy="353.4" r="1.6" fill="#72a9d4"/>
<line x1="179.7" y1="269.4" x2="179.7" y2="307.7" stroke="#72a9d4" stroke-width="3.2" stroke-linecap="round"/>
<circle cx="180.1" cy="269.4" r="1.7" fill="#72a9d4"/>
<circle cx="179.6" cy="272.4" r="1.7" fill="#72a9d4"/>
<circle cx="179.7" cy="274.4" r="1.7" fill="#72a9d4"/>
<circle cx="180.0" cy="276.7" r="1.7" fill="#72a9d4"/>
<circle cx="179.7" cy="278.9" r="1.7" fill="#72a9d4"/>
<circle cx="180.2" cy="281.5" r="1.7" fill="#72a9d4"/>
<circle cx="179.4" cy="284.0" r="1.7" fill="#72a9d4"/>
<circle cx="179.8" cy="287.0" r="1.7" fill="#72a9d4"/>
<circle cx="180.2" cy="289.0" r="1.7" fill="#72a9d4"/>
<circle cx="180.1" cy="292.5" r="1.7" fill="#72a9d4"/>
<circle cx="179.5" cy="295.8" r="1.7" fill="#72a9d4"/>
<circle cx="180.2" cy="298.8" r="1.7" fill="#72a9d4"/>
<circle cx="179.7" cy="301.6" r="1.7" fill="#72a9d4"/>
<circle cx="179.6" cy="303.3" r="1.7" fill="#72a9d4"/>
<circle cx="180.2" cy="306.1" r="1.7" fill="#72a9d4"/>
<circle cx="188.4" cy="263.8" r="1.6" fill="#72a9d4"/>
<circle cx="188.4" cy="266.3" r="1.6" fill="#72a9d4"/>
<circle cx="188.4" cy="338.0" r="1.6" fill="#72a9d4"/>
<line x1="188.4" y1="274.5" x2="188.4" y2="321.4" stroke="#72a9d4" stroke-width="3.2" stroke-linecap="round"/>
<circle cx="188.0" cy="274.5" r="1.7" fill="#72a9d4"/>
<circle cx="188.7" cy="277.7" r="1.7" fill="#72a9d4"/>
<circle cx="188.4" cy="279.7" r="1.7" fill="#72a9d4"/>
<circle cx="188.6" cy="282.1" r="1.7" fill="#72a9d4"/>
<circle cx="187.9" cy="285.2" r="1.7" fill="#72a9d4"/>
<circle cx="188.8" cy="286.7" r="1.7" fill="#72a9d4"/>
<circle cx="188.7" cy="289.1" r="1.7" fill="#72a9d4"/>
<circle cx="188.3" cy="290.6" r="1.7" fill="#72a9d4"/>
<circle cx="188.1" cy="293.6" r="1.7" fill="#72a9d4"/>
<circle cx="188.9" cy="296.9" r="1.7" fill="#72a9d4"/>
<circle cx="187.8" cy="298.5" r="1.7" fill="#72a9d4"/>
<circle cx="188.9" cy="301.1" r="1.7" fill="#72a9d4"/>
<circle cx="188.1" cy="303.3" r="1.7" fill="#72a9d4"/>
<circle cx="187.8" cy="305.7" r="1.7" fill="#72a9d4"/>
<circle cx="188.3" cy="307.6" r="1.7" fill="#72a9d4"/>
<circle cx="188.1" cy="310.1" r="1.7" fill="#72a9d4"/>
<circle cx="188.1" cy="312.1" r="1.7" fill="#72a9d4"/>
<circle cx="188.1" cy="314.5" r="1.7" fill="#72a9d4"/>
<circle cx="188.8" cy="316.1" r="1.7" fill="#72a9d4"/>
<circle cx="188.6" cy="318.7" r="1.7" fill="#72a9d4"/>
<circle cx="189.0" cy="320.5" r="1.7" fill="#72a9d4"/>
<circle cx="197.1" cy="263.8" r="1.6" fill="#72a9d4"/>
<circle cx="197.1" cy="277.6" r="1.6" fill="#72a9d4"/>
<line x1="197.1" y1="290.0" x2="197.1" y2="323.1" stroke="#72a9d4" stroke-width="3.2" stroke-linecap="round"/>
<circle cx="197.6" cy="290.0" r="1.7" fill="#72a9d4"/>
<circle cx="196.6" cy="293.4" r="1.7" fill="#72a9d4"/>
<circle cx="197.5" cy="295.1" r="1.7" fill="#72a9d4"/>
<circle cx="197.3" cy="298.0" r="1.7" fill="#72a9d4"/>
<circle cx="197.2" cy="300.2" r="1.7" fill="#72a9d4"/>
<circle cx="197.2" cy="302.9" r="1.7" fill="#72a9d4"/>
<circle cx="197.0" cy="304.7" r="1.7" fill="#72a9d4"/>
<circle cx="197.4" cy="307.0" r="1.7" fill="#72a9d4"/>
<circle cx="197.6" cy="310.5" r="1.7" fill="#72a9d4"/>
<circle cx="197.0" cy="313.0" r="1.7" fill="#72a9d4"/>
<circle cx="196.5" cy="315.1" r="1.7" fill="#72a9d4"/>
<circle cx="197.1" cy="316.6" r="1.7" fill="#72a9d4"/>
<circle cx="197.0" cy="318.8" r="1.7" fill="#72a9d4"/>
<circle cx="197.1" cy="322.1" r="1.7" fill="#72a9d4"/>
<circle cx="205.8" cy="263.8" r="1.6" fill="#72a9d4"/>
<circle cx="205.8" cy="331.2" r="1.6" fill="#72a9d4"/>
<circle cx="205.8" cy="342.0" r="1.6" fill="#72a9d4"/>
<line x1="205.8" y1="293.1" x2="205.8" y2="327.4" stroke="#72a9d4" stroke-width="3.2" stroke-linecap="round"/>
<circle cx="205.5" cy="293.1" r="1.7" fill="#72a9d4"/>
<circle cx="205.6" cy="295.7" r="1.7" fill="#72a9d4"/>
<circle cx="206.0" cy="298.4" r="1.7" fill="#72a9d4"/>
<circle cx="205.2" cy="300.0" r="1.7" fill="#72a9d4"/>
<circle cx="205.5" cy="303.2" r="1.7" fill="#72a9d4"/>
<circle cx="206.4" cy="305.2" r="1.7" fill="#72a9d4"/>
<circle cx="206.2" cy="307.6" r="1.7" fill="#72a9d4"/>
<circle cx="206.0" cy="310.1" r="1.7" fill="#72a9d4"/>
<circle cx="206.0" cy="311.9" r="1.7" fill="#72a9d4"/>
<circle cx="205.8" cy="315.1" r="1.7" fill="#72a9d4"/>
<circle cx="206.0" cy="318.1" r="1.7" fill="#72a9d4"/>
<circle cx="206.1" cy="319.7" r="1.7" fill="#72a9d4"/>
<circle cx="205.6" cy="322.4" r="1.7" fill="#72a9d4"/>
<circle cx="206.2" cy="324.0" r="1.7" fill="#72a9d4"/>
<circle cx="206.1" cy="326.4" r="1.7" fill="#72a9d4"/>
<circle cx="214.5" cy="263.8" r="1.6" fill="#72a9d4"/>
<circle cx="214.5" cy="343.7" r="1.6" fill="#72a9d4"/>
<circle cx="214.5" cy="360.8" r="1.6" fill="#72a9d4"/>
<line x1="214.5" y1="302.6" x2="214.5" y2="333.4" stroke="#72a9d4" stroke-width="3.2" stroke-linecap="round"/>
<circle cx="214.2" cy="302.6" r="1.7" fill="#72a9d4"/>
<circle cx="214.4" cy="304.3" r="1.7" fill="#72a9d4"/>
<circle cx="214.0" cy="306.1" r="1.7" fill="#72a9d4"/>
<circle cx="215.0" cy="308.4" r="1.7" fill="#72a9d4"/>
<circle cx="214.8" cy="311.5" r="1.7" fill="#72a9d4"/>
<circle cx="214.5" cy="313.5" r="1.7" fill="#72a9d4"/>
<circle cx="214.1" cy="315.5" r="1.7" fill="#72a9d4"/>
<circle cx="214.2" cy="317.2" r="1.7" fill="#72a9d4"/>
<circle cx="214.9" cy="320.6" r="1.7" fill="#72a9d4"/>
<circle cx="214.9" cy="323.7" r="1.7" fill="#72a9d4"/>
<circle cx="214.3" cy="325.6" r="1.7" fill="#72a9d4"/>
<circle cx="214.8" cy="328.3" r="1.7" fill="#72a9d4"/>
<circle cx="215.0" cy="331.5" r="1.7" fill="#72a9d4"/>
<circle cx="214.6" cy="333.2" r="1.7" fill="#72a9d4"/>
<circle cx="223.2" cy="277.6" r="1.6" fill="#72a9d4"/>
<circle cx="223.2" cy="286.5" r="1.6" fill="#72a9d4"/>
<circle cx="223.2" cy="352.2" r="1.6" fill="#72a9d4"/>
<line x1="223.2" y1="303.4" x2="223.2" y2="331.7" stroke="#72a9d4" stroke-width="3.2" stroke-linecap="round"/>
<circle cx="223.3" cy="303.4" r="1.7" fill="#72a9d4"/>
<circle cx="223.6" cy="306.4" r="1.7" fill="#72a9d4"/>
<circle cx="223.5" cy="309.8" r="1.7" fill="#72a9d4"/>
<circle cx="222.6" cy="313.1" r="1.7" fill="#72a9d4"/>
<circle cx="223.7" cy="315.5" r="1.7" fill="#72a9d4"/>
<circle cx="223.7" cy="318.3" r="1.7" fill="#72a9d4"/>
<circle cx="223.2" cy="320.1" r="1.7" fill="#72a9d4"/>
<circle cx="223.3" cy="322.1" r="1.7" fill="#72a9d4"/>
<circle cx="222.6" cy="324.7" r="1.7" fill="#72a9d4"/>
<circle cx="222.9" cy="326.6" r="1.7" fill="#72a9d4"/>
<circle cx="223.5" cy="330.0" r="1.7" fill="#72a9d4"/>
<circle cx="231.9" cy="306.5" r="1.6" fill="#72a9d4"/>
<circle cx="231.9" cy="352.2" r="1.6" fill="#72a9d4"/>
<circle cx="231.9" cy="355.0" r="1.6" fill="#72a9d4"/>
<line x1="231.9" y1="312.0" x2="231.9" y2="337.0" stroke="#72a9d4" stroke-width="3.2" stroke-linecap="round"/>
<circle cx="232.3" cy="312.0" r="1.7" fill="#72a9d4"/>
<circle cx="231.9" cy="315.1" r="1.7" fill="#72a9d4"/>
<circle cx="231.3" cy="317.2" r="1.7" fill="#72a9d4"/>
<circle cx="231.9" cy="320.0" r="1.7" fill="#72a9d4"/>
<circle cx="231.7" cy="323.0" r="1.7" fill="#72a9d4"/>
<circle cx="231.6" cy="326.1" r="1.7" fill="#72a9d4"/>
<circle cx="232.2" cy="329.2" r="1.7" fill="#72a9d4"/>
<circle cx="231.9" cy="331.5" r="1.7" fill="#72a9d4"/>
<circle cx="231.5" cy="334.3" r="1.7" fill="#72a9d4"/>
<circle cx="232.3" cy="337.0" r="1.7" fill="#72a9d4"/>
<circle cx="240.6" cy="349.4" r="1.6" fill="#72a9d4"/>
<line x1="240.6" y1="312.0" x2="240.6" y2="341.0" stroke="#72a9d4" stroke-width="3.2" stroke-linecap="round"/>
<circle cx="240.4" cy="312.0" r="1.7" fill="#72a9d4"/>
<circle cx="240.8" cy="313.8" r="1.7" fill="#72a9d4"/>
<circle cx="240.6" cy="315.4" r="1.7" fill="#72a9d4"/>
<circle cx="240.1" cy="317.7" r="1.7" fill="#72a9d4"/>
<circle cx="240.0" cy="320.2" r="1.7" fill="#72a9d4"/>
<circle cx="240.1" cy="322.6" r="1.7" fill="#72a9d4"/>
<circle cx="240.5" cy="324.2" r="1.7" fill="#72a9d4"/>
<circle cx="240.1" cy="327.4" r="1.7" fill="#72a9d4"/>
<circle cx="240.8" cy="329.3" r="1.7" fill="#72a9d4"/>
<circle cx="240.7" cy="332.7" r="1.7" fill="#72a9d4"/>
<circle cx="241.2" cy="335.0" r="1.7" fill="#72a9d4"/>
<circle cx="241.0" cy="336.6" r="1.7" fill="#72a9d4"/>
<circle cx="240.2" cy="338.7" r="1.7" fill="#72a9d4"/>
<circle cx="240.4" cy="340.4" r="1.7" fill="#72a9d4"/>
<circle cx="249.3" cy="297.3" r="1.6" fill="#72a9d4"/>
<circle cx="249.3" cy="308.4" r="1.6" fill="#72a9d4"/>
<circle cx="249.3" cy="314.8" r="1.6" fill="#72a9d4"/>
<circle cx="249.3" cy="317.6" r="1.6" fill="#72a9d4"/>
<circle cx="249.3" cy="320.3" r="1.6" fill="#72a9d4"/>
<circle cx="249.3" cy="327.3" r="1.6" fill="#72a9d4"/>
<circle cx="249.3" cy="328.6" r="1.6" fill="#72a9d4"/>
<circle cx="249.3" cy="355.0" r="1.6" fill="#72a9d4"/>
<circle cx="258.0" cy="294.6" r="1.6" fill="#72a9d4"/>
<circle cx="258.0" cy="301.8" r="1.6" fill="#72a9d4"/>
<circle cx="258.0" cy="303.7" r="1.6" fill="#72a9d4"/>
<circle cx="258.0" cy="315.6" r="1.6" fill="#72a9d4"/>
<circle cx="258.0" cy="317.6" r="1.6" fill="#72a9d4"/>
<circle cx="258.0" cy="323.9" r="1.6" fill="#72a9d4"/>
<circle cx="258.0" cy="332.2" r="1.6" fill="#72a9d4"/>
<circle cx="258.0" cy="335.6" r="1.6" fill="#72a9d4"/>
<circle cx="258.0" cy="342.5" r="1.6" fill="#72a9d4"/>
<circle cx="266.7" cy="312.0" r="1.6" fill="#72a9d4"/>
<circle cx="275.4" cy="282.4" r="1.6" fill="#72a9d4"/>
<rect x="175.1" y="258.6" width="109.0" height="107.4" fill="none" stroke="#1a1a1a" stroke-width="1.1"/>
<text transform="translate(214.00,256.70) scale(0.9978,1)" font-family="Liberation Sans, sans-serif" font-weight="normal" font-size="9.14" fill="#111" xml:space="preserve" >r = 0.67</text>
<text transform="translate(208.40,392.60) scale(0.9241,1)" font-family="Liberation Sans, sans-serif" font-weight="normal" font-size="9.71" fill="#111" xml:space="preserve" >RingCount</text>
<line x1="179.7" y1="366.0" x2="179.7" y2="369.4" stroke="#1a1a1a" stroke-width="1"/>
<text transform="translate(178.10,379.60) scale(0.8969,1)" font-family="Liberation Sans, sans-serif" font-weight="normal" font-size="6.43" fill="#111">0</text>
<line x1="188.4" y1="366.0" x2="188.4" y2="369.4" stroke="#1a1a1a" stroke-width="1"/>
<text transform="translate(186.80,379.60) scale(0.8969,1)" font-family="Liberation Sans, sans-serif" font-weight="normal" font-size="6.43" fill="#111">1</text>
<line x1="197.1" y1="366.0" x2="197.1" y2="369.4" stroke="#1a1a1a" stroke-width="1"/>
<text transform="translate(195.50,379.60) scale(0.8969,1)" font-family="Liberation Sans, sans-serif" font-weight="normal" font-size="6.43" fill="#111">2</text>
<line x1="205.8" y1="366.0" x2="205.8" y2="369.4" stroke="#1a1a1a" stroke-width="1"/>
<text transform="translate(204.20,379.60) scale(0.8969,1)" font-family="Liberation Sans, sans-serif" font-weight="normal" font-size="6.43" fill="#111">3</text>
<line x1="214.5" y1="366.0" x2="214.5" y2="369.4" stroke="#1a1a1a" stroke-width="1"/>
<text transform="translate(212.90,379.60) scale(0.8969,1)" font-family="Liberation Sans, sans-serif" font-weight="normal" font-size="6.43" fill="#111">4</text>
<line x1="223.2" y1="366.0" x2="223.2" y2="369.4" stroke="#1a1a1a" stroke-width="1"/>
<text transform="translate(221.60,379.60) scale(0.8969,1)" font-family="Liberation Sans, sans-serif" font-weight="normal" font-size="6.43" fill="#111">5</text>
<line x1="231.9" y1="366.0" x2="231.9" y2="369.4" stroke="#1a1a1a" stroke-width="1"/>
<text transform="translate(230.30,379.60) scale(0.8969,1)" font-family="Liberation Sans, sans-serif" font-weight="normal" font-size="6.43" fill="#111">6</text>
<line x1="240.6" y1="366.0" x2="240.6" y2="369.4" stroke="#1a1a1a" stroke-width="1"/>
<text transform="translate(239.00,379.60) scale(0.8969,1)" font-family="Liberation Sans, sans-serif" font-weight="normal" font-size="6.43" fill="#111">7</text>
<line x1="249.3" y1="366.0" x2="249.3" y2="369.4" stroke="#1a1a1a" stroke-width="1"/>
<text transform="translate(247.70,379.60) scale(0.8969,1)" font-family="Liberation Sans, sans-serif" font-weight="normal" font-size="6.43" fill="#111">8</text>
<line x1="258.0" y1="366.0" x2="258.0" y2="369.4" stroke="#1a1a1a" stroke-width="1"/>
<text transform="translate(256.40,379.60) scale(0.8969,1)" font-family="Liberation Sans, sans-serif" font-weight="normal" font-size="6.43" fill="#111">9</text>
<line x1="266.7" y1="366.0" x2="266.7" y2="369.4" stroke="#1a1a1a" stroke-width="1"/>
<text transform="translate(263.50,379.60) scale(0.8969,1)" font-family="Liberation Sans, sans-serif" font-weight="normal" font-size="6.43" fill="#111">10</text>
<line x1="275.4" y1="366.0" x2="275.4" y2="369.4" stroke="#1a1a1a" stroke-width="1"/>
<text transform="translate(272.40,379.60) scale(0.8969,1)" font-family="Liberation Sans, sans-serif" font-weight="normal" font-size="6.43" fill="#111">11</text>
<line x1="284.1" y1="366.0" x2="284.1" y2="369.4" stroke="#1a1a1a" stroke-width="1"/>
<text transform="translate(280.90,379.60) scale(0.8969,1)" font-family="Liberation Sans, sans-serif" font-weight="normal" font-size="6.43" fill="#111">12</text>
<path d="M311.3,271.0 L315.6,282.6 L321.4,291.3 L328.7,297.1 L335.9,302.9 L343.2,307.2 L350.4,311.6 L359.1,314.5 L364.9,317.4 L363.5,323.2 L356.2,327.5 L347.5,331.9 L338.8,331.9 L333.0,324.6 L325.8,317.4 L320.0,307.2 L314.2,292.7 L311.3,278.2Z" fill="#72a9d4"/>
<circle cx="311.1" cy="270.9" r="1.55" fill="#72a9d4"/>
<circle cx="312.9" cy="272.6" r="1.55" fill="#72a9d4"/>
<circle cx="312.8" cy="274.5" r="1.55" fill="#72a9d4"/>
<circle cx="312.7" cy="275.9" r="1.55" fill="#72a9d4"/>
<circle cx="313.3" cy="278.0" r="1.55" fill="#72a9d4"/>
<circle cx="314.7" cy="279.5" r="1.55" fill="#72a9d4"/>
<circle cx="314.8" cy="281.2" r="1.55" fill="#72a9d4"/>
<circle cx="314.3" cy="272.1" r="1.55" fill="#72a9d4"/>
<circle cx="311.3" cy="279.3" r="1.55" fill="#72a9d4"/>
<circle cx="314.7" cy="283.6" r="1.55" fill="#72a9d4"/>
<circle cx="317.0" cy="283.8" r="1.55" fill="#72a9d4"/>
<circle cx="318.7" cy="286.3" r="1.55" fill="#72a9d4"/>
<circle cx="318.7" cy="286.6" r="1.55" fill="#72a9d4"/>
<circle cx="318.7" cy="289.2" r="1.55" fill="#72a9d4"/>
<circle cx="321.5" cy="289.2" r="1.55" fill="#72a9d4"/>
<circle cx="319.2" cy="283.0" r="1.55" fill="#72a9d4"/>
<circle cx="321.4" cy="290.6" r="1.55" fill="#72a9d4"/>
<circle cx="322.8" cy="292.3" r="1.55" fill="#72a9d4"/>
<circle cx="323.6" cy="293.0" r="1.55" fill="#72a9d4"/>
<circle cx="325.2" cy="293.8" r="1.55" fill="#72a9d4"/>
<circle cx="325.6" cy="294.3" r="1.55" fill="#72a9d4"/>
<circle cx="327.9" cy="296.3" r="1.55" fill="#72a9d4"/>
<circle cx="324.6" cy="298.7" r="1.55" fill="#72a9d4"/>
<circle cx="328.6" cy="296.9" r="1.55" fill="#72a9d4"/>
<circle cx="330.4" cy="297.9" r="1.55" fill="#72a9d4"/>
<circle cx="331.2" cy="298.9" r="1.55" fill="#72a9d4"/>
<circle cx="333.3" cy="298.6" r="1.55" fill="#72a9d4"/>
<circle cx="332.9" cy="300.7" r="1.55" fill="#72a9d4"/>
<circle cx="334.8" cy="302.3" r="1.55" fill="#72a9d4"/>
<circle cx="332.3" cy="304.4" r="1.55" fill="#72a9d4"/>
<circle cx="335.9" cy="302.7" r="1.55" fill="#72a9d4"/>
<circle cx="337.2" cy="303.8" r="1.55" fill="#72a9d4"/>
<circle cx="339.1" cy="305.0" r="1.55" fill="#72a9d4"/>
<circle cx="340.8" cy="305.7" r="1.55" fill="#72a9d4"/>
<circle cx="342.5" cy="305.9" r="1.55" fill="#72a9d4"/>
<circle cx="339.8" cy="309.2" r="1.55" fill="#72a9d4"/>
<circle cx="342.8" cy="307.4" r="1.55" fill="#72a9d4"/>
<circle cx="345.1" cy="307.7" r="1.55" fill="#72a9d4"/>
<circle cx="345.2" cy="309.6" r="1.55" fill="#72a9d4"/>
<circle cx="347.9" cy="310.9" r="1.55" fill="#72a9d4"/>
<circle cx="348.7" cy="311.4" r="1.55" fill="#72a9d4"/>
<circle cx="351.9" cy="308.9" r="1.55" fill="#72a9d4"/>
<circle cx="351.0" cy="310.8" r="1.55" fill="#72a9d4"/>
<circle cx="352.4" cy="311.9" r="1.55" fill="#72a9d4"/>
<circle cx="353.6" cy="313.0" r="1.55" fill="#72a9d4"/>
<circle cx="354.6" cy="312.6" r="1.55" fill="#72a9d4"/>
<circle cx="355.6" cy="312.0" r="1.55" fill="#72a9d4"/>
<circle cx="357.6" cy="314.6" r="1.55" fill="#72a9d4"/>
<circle cx="358.7" cy="310.5" r="1.55" fill="#72a9d4"/>
<circle cx="358.5" cy="316.1" r="1.55" fill="#72a9d4"/>
<circle cx="360.8" cy="315.6" r="1.55" fill="#72a9d4"/>
<circle cx="361.7" cy="315.5" r="1.55" fill="#72a9d4"/>
<circle cx="363.9" cy="315.6" r="1.55" fill="#72a9d4"/>
<circle cx="362.7" cy="320.7" r="1.55" fill="#72a9d4"/>
<circle cx="366.0" cy="317.5" r="1.55" fill="#72a9d4"/>
<circle cx="365.6" cy="318.9" r="1.55" fill="#72a9d4"/>
<circle cx="364.9" cy="320.1" r="1.55" fill="#72a9d4"/>
<circle cx="363.7" cy="321.8" r="1.55" fill="#72a9d4"/>
<circle cx="364.0" cy="323.3" r="1.55" fill="#72a9d4"/>
<circle cx="362.3" cy="324.6" r="1.55" fill="#72a9d4"/>
<circle cx="360.2" cy="325.5" r="1.55" fill="#72a9d4"/>
<circle cx="358.8" cy="325.4" r="1.55" fill="#72a9d4"/>
<circle cx="357.1" cy="325.1" r="1.55" fill="#72a9d4"/>
<circle cx="355.6" cy="324.6" r="1.55" fill="#72a9d4"/>
<circle cx="356.7" cy="326.1" r="1.55" fill="#72a9d4"/>
<circle cx="355.2" cy="326.8" r="1.55" fill="#72a9d4"/>
<circle cx="354.3" cy="330.3" r="1.55" fill="#72a9d4"/>
<circle cx="352.6" cy="330.7" r="1.55" fill="#72a9d4"/>
<circle cx="350.8" cy="329.8" r="1.55" fill="#72a9d4"/>
<circle cx="349.3" cy="332.7" r="1.55" fill="#72a9d4"/>
<circle cx="354.1" cy="332.3" r="1.55" fill="#72a9d4"/>
<circle cx="347.5" cy="330.5" r="1.55" fill="#72a9d4"/>
<circle cx="345.4" cy="332.9" r="1.55" fill="#72a9d4"/>
<circle cx="343.6" cy="330.6" r="1.55" fill="#72a9d4"/>
<circle cx="341.9" cy="331.5" r="1.55" fill="#72a9d4"/>
<circle cx="340.8" cy="331.2" r="1.55" fill="#72a9d4"/>
<circle cx="344.9" cy="329.0" r="1.55" fill="#72a9d4"/>
<circle cx="338.3" cy="332.3" r="1.55" fill="#72a9d4"/>
<circle cx="338.4" cy="330.9" r="1.55" fill="#72a9d4"/>
<circle cx="336.2" cy="328.8" r="1.55" fill="#72a9d4"/>
<circle cx="335.2" cy="328.5" r="1.55" fill="#72a9d4"/>
<circle cx="334.1" cy="327.8" r="1.55" fill="#72a9d4"/>
<circle cx="333.1" cy="326.7" r="1.55" fill="#72a9d4"/>
<circle cx="340.8" cy="328.8" r="1.55" fill="#72a9d4"/>
<circle cx="331.7" cy="323.7" r="1.55" fill="#72a9d4"/>
<circle cx="332.2" cy="323.4" r="1.55" fill="#72a9d4"/>
<circle cx="330.8" cy="322.7" r="1.55" fill="#72a9d4"/>
<circle cx="329.0" cy="321.5" r="1.55" fill="#72a9d4"/>
<circle cx="328.1" cy="319.4" r="1.55" fill="#72a9d4"/>
<circle cx="326.8" cy="317.9" r="1.55" fill="#72a9d4"/>
<circle cx="324.5" cy="319.5" r="1.55" fill="#72a9d4"/>
<circle cx="326.3" cy="318.2" r="1.55" fill="#72a9d4"/>
<circle cx="325.1" cy="315.6" r="1.55" fill="#72a9d4"/>
<circle cx="324.6" cy="314.5" r="1.55" fill="#72a9d4"/>
<circle cx="323.0" cy="312.8" r="1.55" fill="#72a9d4"/>
<circle cx="322.7" cy="312.0" r="1.55" fill="#72a9d4"/>
<circle cx="322.6" cy="309.6" r="1.55" fill="#72a9d4"/>
<circle cx="321.0" cy="309.2" r="1.55" fill="#72a9d4"/>
<circle cx="321.4" cy="316.5" r="1.55" fill="#72a9d4"/>
<circle cx="320.3" cy="306.8" r="1.55" fill="#72a9d4"/>
<circle cx="319.2" cy="305.5" r="1.55" fill="#72a9d4"/>
<circle cx="319.3" cy="304.5" r="1.55" fill="#72a9d4"/>
<circle cx="318.3" cy="301.9" r="1.55" fill="#72a9d4"/>
<circle cx="317.5" cy="300.9" r="1.55" fill="#72a9d4"/>
<circle cx="316.3" cy="299.7" r="1.55" fill="#72a9d4"/>
<circle cx="315.9" cy="297.2" r="1.55" fill="#72a9d4"/>
<circle cx="316.1" cy="295.8" r="1.55" fill="#72a9d4"/>
<circle cx="315.4" cy="293.8" r="1.55" fill="#72a9d4"/>
<circle cx="321.4" cy="303.0" r="1.55" fill="#72a9d4"/>
<circle cx="317.2" cy="294.5" r="1.55" fill="#72a9d4"/>
<circle cx="313.1" cy="292.5" r="1.55" fill="#72a9d4"/>
<circle cx="313.7" cy="291.4" r="1.55" fill="#72a9d4"/>
<circle cx="313.9" cy="289.3" r="1.55" fill="#72a9d4"/>
<circle cx="313.2" cy="288.2" r="1.55" fill="#72a9d4"/>
<circle cx="313.3" cy="285.9" r="1.55" fill="#72a9d4"/>
<circle cx="314.0" cy="285.0" r="1.55" fill="#72a9d4"/>
<circle cx="313.0" cy="283.0" r="1.55" fill="#72a9d4"/>
<circle cx="312.0" cy="281.3" r="1.55" fill="#72a9d4"/>
<circle cx="312.7" cy="280.5" r="1.55" fill="#72a9d4"/>
<circle cx="308.4" cy="282.7" r="1.55" fill="#72a9d4"/>
<circle cx="316.7" cy="286.7" r="1.55" fill="#72a9d4"/>
<circle cx="311.3" cy="278.7" r="1.55" fill="#72a9d4"/>
<circle cx="311.8" cy="275.9" r="1.55" fill="#72a9d4"/>
<circle cx="310.4" cy="274.2" r="1.55" fill="#72a9d4"/>
<circle cx="311.0" cy="273.0" r="1.55" fill="#72a9d4"/>
<circle cx="314.9" cy="272.1" r="1.55" fill="#72a9d4"/>
<circle cx="313.2" cy="263.8" r="1.6" fill="#72a9d4"/>
<circle cx="315.9" cy="266.7" r="1.6" fill="#72a9d4"/>
<circle cx="320.5" cy="264.2" r="1.6" fill="#72a9d4"/>
<circle cx="322.5" cy="263.8" r="1.6" fill="#72a9d4"/>
<circle cx="325.6" cy="265.2" r="1.6" fill="#72a9d4"/>
<circle cx="327.7" cy="265.9" r="1.6" fill="#72a9d4"/>
<circle cx="332.9" cy="263.8" r="1.6" fill="#72a9d4"/>
<circle cx="337.0" cy="263.8" r="1.6" fill="#72a9d4"/>
<circle cx="346.3" cy="264.2" r="1.6" fill="#72a9d4"/>
<circle cx="324.6" cy="277.6" r="1.6" fill="#72a9d4"/>
<circle cx="330.4" cy="278.7" r="1.6" fill="#72a9d4"/>
<circle cx="339.1" cy="277.6" r="1.6" fill="#72a9d4"/>
<circle cx="343.6" cy="277.6" r="1.6" fill="#72a9d4"/>
<circle cx="331.8" cy="323.1" r="1.6" fill="#72a9d4"/>
<circle cx="388.4" cy="282.2" r="1.6" fill="#72a9d4"/>
<circle cx="410.6" cy="286.7" r="1.6" fill="#72a9d4"/>
<circle cx="362.9" cy="297.3" r="1.6" fill="#72a9d4"/>
<circle cx="380.0" cy="295.1" r="1.6" fill="#72a9d4"/>
<circle cx="351.8" cy="304.8" r="1.6" fill="#72a9d4"/>
<circle cx="363.6" cy="308.4" r="1.6" fill="#72a9d4"/>
<circle cx="374.0" cy="303.9" r="1.6" fill="#72a9d4"/>
<circle cx="372.9" cy="306.2" r="1.6" fill="#72a9d4"/>
<circle cx="371.8" cy="312.2" r="1.6" fill="#72a9d4"/>
<circle cx="375.1" cy="315.0" r="1.6" fill="#72a9d4"/>
<circle cx="406.2" cy="302.2" r="1.6" fill="#72a9d4"/>
<circle cx="411.7" cy="303.9" r="1.6" fill="#72a9d4"/>
<circle cx="406.2" cy="315.5" r="1.6" fill="#72a9d4"/>
<circle cx="369.6" cy="318.8" r="1.6" fill="#72a9d4"/>
<circle cx="371.8" cy="319.9" r="1.6" fill="#72a9d4"/>
<circle cx="366.3" cy="324.3" r="1.6" fill="#72a9d4"/>
<circle cx="368.5" cy="326.6" r="1.6" fill="#72a9d4"/>
<circle cx="372.9" cy="325.5" r="1.6" fill="#72a9d4"/>
<circle cx="375.1" cy="326.6" r="1.6" fill="#72a9d4"/>
<circle cx="387.3" cy="321.0" r="1.6" fill="#72a9d4"/>
<circle cx="355.2" cy="327.7" r="1.6" fill="#72a9d4"/>
<circle cx="357.4" cy="329.9" r="1.6" fill="#72a9d4"/>
<circle cx="362.9" cy="331.0" r="1.6" fill="#72a9d4"/>
<circle cx="364.0" cy="328.8" r="1.6" fill="#72a9d4"/>
<circle cx="375.1" cy="333.2" r="1.6" fill="#72a9d4"/>
<circle cx="380.7" cy="331.0" r="1.6" fill="#72a9d4"/>
<circle cx="387.3" cy="334.3" r="1.6" fill="#72a9d4"/>
<circle cx="406.2" cy="336.5" r="1.6" fill="#72a9d4"/>
<circle cx="351.8" cy="336.5" r="1.6" fill="#72a9d4"/>
<circle cx="359.6" cy="337.2" r="1.6" fill="#72a9d4"/>
<circle cx="364.0" cy="336.5" r="1.6" fill="#72a9d4"/>
<circle cx="361.8" cy="339.9" r="1.6" fill="#72a9d4"/>
<circle cx="374.0" cy="343.2" r="1.6" fill="#72a9d4"/>
<circle cx="341.9" cy="342.1" r="1.6" fill="#72a9d4"/>
<circle cx="349.6" cy="343.9" r="1.6" fill="#72a9d4"/>
<circle cx="358.5" cy="350.5" r="1.6" fill="#72a9d4"/>
<circle cx="365.2" cy="355.4" r="1.6" fill="#72a9d4"/>
<circle cx="343.0" cy="352.1" r="1.6" fill="#72a9d4"/>
<circle cx="339.7" cy="355.4" r="1.6" fill="#72a9d4"/>
<circle cx="347.4" cy="360.9" r="1.6" fill="#72a9d4"/>
<rect x="306.9" y="258.6" width="109.7" height="107.4" fill="none" stroke="#1a1a1a" stroke-width="1.1"/>
<text transform="translate(346.15,256.70) scale(0.9978,1)" font-family="Liberation Sans, sans-serif" font-weight="normal" font-size="9.14" fill="#111" xml:space="preserve" >r = 0.67</text>
<text transform="translate(345.80,392.60) scale(0.8964,1)" font-family="Liberation Sans, sans-serif" font-weight="normal" font-size="9.71" fill="#111" xml:space="preserve" >BertzCT</text>
<line x1="311.4" y1="366.0" x2="311.4" y2="369.4" stroke="#1a1a1a" stroke-width="1"/>
<text transform="translate(309.68,379.60) scale(0.9648,1)" font-family="Liberation Sans, sans-serif" font-weight="normal" font-size="6.43" fill="#111">0</text>
<line x1="344.5" y1="366.0" x2="344.5" y2="369.4" stroke="#1a1a1a" stroke-width="1"/>
<text transform="translate(337.57,379.60) scale(0.9648,1)" font-family="Liberation Sans, sans-serif" font-weight="normal" font-size="6.43" fill="#111">1000</text>
<line x1="377.5" y1="366.0" x2="377.5" y2="369.4" stroke="#1a1a1a" stroke-width="1"/>
<text transform="translate(370.64,379.60) scale(0.9648,1)" font-family="Liberation Sans, sans-serif" font-weight="normal" font-size="6.43" fill="#111">2000</text>
<line x1="410.6" y1="366.0" x2="410.6" y2="369.4" stroke="#1a1a1a" stroke-width="1"/>
<text transform="translate(403.71,379.60) scale(0.9648,1)" font-family="Liberation Sans, sans-serif" font-weight="normal" font-size="6.43" fill="#111">3000</text>
<path d="M443.3,271.0 L449.1,281.1 L456.3,288.4 L465.0,292.7 L473.7,301.4 L482.4,308.7 L491.1,314.5 L498.4,320.3 L496.9,323.2 L489.7,326.1 L479.5,331.9 L469.4,333.3 L466.5,327.5 L459.2,317.4 L453.4,308.7 L447.6,292.7 L443.3,276.8Z" fill="#72a9d4"/>
<circle cx="442.4" cy="270.4" r="1.55" fill="#72a9d4"/>
<circle cx="445.5" cy="273.5" r="1.55" fill="#72a9d4"/>
<circle cx="446.1" cy="272.9" r="1.55" fill="#72a9d4"/>
<circle cx="446.4" cy="274.9" r="1.55" fill="#72a9d4"/>
<circle cx="445.6" cy="277.5" r="1.55" fill="#72a9d4"/>
<circle cx="446.5" cy="277.4" r="1.55" fill="#72a9d4"/>
<circle cx="448.7" cy="279.9" r="1.55" fill="#72a9d4"/>
<circle cx="444.1" cy="280.1" r="1.55" fill="#72a9d4"/>
<circle cx="448.2" cy="280.3" r="1.55" fill="#72a9d4"/>
<circle cx="450.7" cy="282.3" r="1.55" fill="#72a9d4"/>
<circle cx="452.2" cy="283.2" r="1.55" fill="#72a9d4"/>
<circle cx="453.4" cy="284.7" r="1.55" fill="#72a9d4"/>
<circle cx="453.4" cy="286.1" r="1.55" fill="#72a9d4"/>
<circle cx="456.0" cy="286.0" r="1.55" fill="#72a9d4"/>
<circle cx="452.7" cy="281.8" r="1.55" fill="#72a9d4"/>
<circle cx="456.3" cy="288.7" r="1.55" fill="#72a9d4"/>
<circle cx="457.4" cy="288.7" r="1.55" fill="#72a9d4"/>
<circle cx="459.3" cy="289.3" r="1.55" fill="#72a9d4"/>
<circle cx="459.9" cy="288.8" r="1.55" fill="#72a9d4"/>
<circle cx="462.4" cy="291.3" r="1.55" fill="#72a9d4"/>
<circle cx="464.0" cy="292.3" r="1.55" fill="#72a9d4"/>
<circle cx="456.5" cy="291.7" r="1.55" fill="#72a9d4"/>
<circle cx="464.3" cy="293.4" r="1.55" fill="#72a9d4"/>
<circle cx="466.2" cy="293.8" r="1.55" fill="#72a9d4"/>
<circle cx="466.3" cy="296.3" r="1.55" fill="#72a9d4"/>
<circle cx="469.3" cy="295.8" r="1.55" fill="#72a9d4"/>
<circle cx="470.3" cy="297.9" r="1.55" fill="#72a9d4"/>
<circle cx="471.4" cy="299.0" r="1.55" fill="#72a9d4"/>
<circle cx="472.3" cy="300.6" r="1.55" fill="#72a9d4"/>
<circle cx="473.8" cy="297.9" r="1.55" fill="#72a9d4"/>
<circle cx="470.0" cy="292.1" r="1.55" fill="#72a9d4"/>
<circle cx="473.0" cy="302.1" r="1.55" fill="#72a9d4"/>
<circle cx="474.9" cy="302.6" r="1.55" fill="#72a9d4"/>
<circle cx="476.5" cy="302.9" r="1.55" fill="#72a9d4"/>
<circle cx="477.4" cy="304.3" r="1.55" fill="#72a9d4"/>
<circle cx="479.3" cy="305.3" r="1.55" fill="#72a9d4"/>
<circle cx="480.0" cy="306.5" r="1.55" fill="#72a9d4"/>
<circle cx="481.6" cy="307.1" r="1.55" fill="#72a9d4"/>
<circle cx="478.9" cy="310.7" r="1.55" fill="#72a9d4"/>
<circle cx="482.9" cy="308.6" r="1.55" fill="#72a9d4"/>
<circle cx="483.6" cy="310.1" r="1.55" fill="#72a9d4"/>
<circle cx="484.3" cy="309.8" r="1.55" fill="#72a9d4"/>
<circle cx="487.1" cy="311.9" r="1.55" fill="#72a9d4"/>
<circle cx="487.8" cy="313.1" r="1.55" fill="#72a9d4"/>
<circle cx="490.2" cy="314.6" r="1.55" fill="#72a9d4"/>
<circle cx="482.7" cy="312.0" r="1.55" fill="#72a9d4"/>
<circle cx="491.3" cy="314.4" r="1.55" fill="#72a9d4"/>
<circle cx="492.2" cy="315.3" r="1.55" fill="#72a9d4"/>
<circle cx="493.9" cy="316.3" r="1.55" fill="#72a9d4"/>
<circle cx="494.3" cy="317.5" r="1.55" fill="#72a9d4"/>
<circle cx="496.1" cy="318.5" r="1.55" fill="#72a9d4"/>
<circle cx="498.0" cy="318.7" r="1.55" fill="#72a9d4"/>
<circle cx="493.7" cy="320.7" r="1.55" fill="#72a9d4"/>
<circle cx="497.4" cy="320.8" r="1.55" fill="#72a9d4"/>
<circle cx="497.1" cy="321.6" r="1.55" fill="#72a9d4"/>
<circle cx="495.8" cy="324.2" r="1.55" fill="#72a9d4"/>
<circle cx="494.8" cy="324.3" r="1.55" fill="#72a9d4"/>
<circle cx="493.5" cy="323.5" r="1.55" fill="#72a9d4"/>
<circle cx="491.8" cy="324.3" r="1.55" fill="#72a9d4"/>
<circle cx="491.4" cy="324.5" r="1.55" fill="#72a9d4"/>
<circle cx="492.5" cy="322.4" r="1.55" fill="#72a9d4"/>
<circle cx="489.5" cy="326.5" r="1.55" fill="#72a9d4"/>
<circle cx="488.8" cy="326.6" r="1.55" fill="#72a9d4"/>
<circle cx="485.8" cy="325.9" r="1.55" fill="#72a9d4"/>
<circle cx="485.1" cy="327.2" r="1.55" fill="#72a9d4"/>
<circle cx="483.4" cy="329.5" r="1.55" fill="#72a9d4"/>
<circle cx="481.9" cy="330.6" r="1.55" fill="#72a9d4"/>
<circle cx="480.5" cy="331.2" r="1.55" fill="#72a9d4"/>
<circle cx="482.7" cy="334.5" r="1.55" fill="#72a9d4"/>
<circle cx="479.8" cy="331.6" r="1.55" fill="#72a9d4"/>
<circle cx="477.3" cy="330.8" r="1.55" fill="#72a9d4"/>
<circle cx="476.5" cy="332.4" r="1.55" fill="#72a9d4"/>
<circle cx="474.4" cy="333.6" r="1.55" fill="#72a9d4"/>
<circle cx="472.4" cy="333.4" r="1.55" fill="#72a9d4"/>
<circle cx="470.6" cy="332.6" r="1.55" fill="#72a9d4"/>
<circle cx="473.6" cy="336.2" r="1.55" fill="#72a9d4"/>
<circle cx="468.1" cy="332.7" r="1.55" fill="#72a9d4"/>
<circle cx="469.1" cy="331.6" r="1.55" fill="#72a9d4"/>
<circle cx="466.2" cy="330.6" r="1.55" fill="#72a9d4"/>
<circle cx="466.7" cy="328.4" r="1.55" fill="#72a9d4"/>
<circle cx="464.5" cy="329.0" r="1.55" fill="#72a9d4"/>
<circle cx="467.5" cy="327.8" r="1.55" fill="#72a9d4"/>
<circle cx="464.7" cy="325.7" r="1.55" fill="#72a9d4"/>
<circle cx="464.9" cy="324.3" r="1.55" fill="#72a9d4"/>
<circle cx="463.9" cy="323.1" r="1.55" fill="#72a9d4"/>
<circle cx="462.5" cy="322.3" r="1.55" fill="#72a9d4"/>
<circle cx="461.7" cy="319.8" r="1.55" fill="#72a9d4"/>
<circle cx="459.6" cy="319.4" r="1.55" fill="#72a9d4"/>
<circle cx="464.8" cy="321.4" r="1.55" fill="#72a9d4"/>
<circle cx="460.6" cy="325.7" r="1.55" fill="#72a9d4"/>
<circle cx="458.9" cy="317.4" r="1.55" fill="#72a9d4"/>
<circle cx="458.9" cy="316.0" r="1.55" fill="#72a9d4"/>
<circle cx="457.6" cy="314.7" r="1.55" fill="#72a9d4"/>
<circle cx="456.3" cy="313.1" r="1.55" fill="#72a9d4"/>
<circle cx="456.4" cy="310.8" r="1.55" fill="#72a9d4"/>
<circle cx="452.7" cy="309.7" r="1.55" fill="#72a9d4"/>
<circle cx="461.2" cy="314.4" r="1.55" fill="#72a9d4"/>
<circle cx="453.2" cy="308.9" r="1.55" fill="#72a9d4"/>
<circle cx="453.2" cy="307.0" r="1.55" fill="#72a9d4"/>
<circle cx="452.1" cy="305.3" r="1.55" fill="#72a9d4"/>
<circle cx="450.9" cy="304.3" r="1.55" fill="#72a9d4"/>
<circle cx="449.9" cy="302.4" r="1.55" fill="#72a9d4"/>
<circle cx="450.6" cy="300.3" r="1.55" fill="#72a9d4"/>
<circle cx="450.3" cy="299.4" r="1.55" fill="#72a9d4"/>
<circle cx="450.6" cy="298.2" r="1.55" fill="#72a9d4"/>
<circle cx="448.8" cy="296.1" r="1.55" fill="#72a9d4"/>
<circle cx="448.7" cy="293.7" r="1.55" fill="#72a9d4"/>
<circle cx="445.3" cy="298.0" r="1.55" fill="#72a9d4"/>
<circle cx="454.2" cy="302.4" r="1.55" fill="#72a9d4"/>
<circle cx="447.3" cy="292.0" r="1.55" fill="#72a9d4"/>
<circle cx="447.4" cy="291.6" r="1.55" fill="#72a9d4"/>
<circle cx="448.0" cy="289.5" r="1.55" fill="#72a9d4"/>
<circle cx="446.1" cy="287.5" r="1.55" fill="#72a9d4"/>
<circle cx="447.2" cy="286.7" r="1.55" fill="#72a9d4"/>
<circle cx="447.0" cy="284.0" r="1.55" fill="#72a9d4"/>
<circle cx="445.0" cy="282.8" r="1.55" fill="#72a9d4"/>
<circle cx="445.2" cy="281.9" r="1.55" fill="#72a9d4"/>
<circle cx="444.4" cy="280.1" r="1.55" fill="#72a9d4"/>
<circle cx="442.1" cy="278.9" r="1.55" fill="#72a9d4"/>
<circle cx="441.1" cy="281.9" r="1.55" fill="#72a9d4"/>
<circle cx="443.1" cy="285.9" r="1.55" fill="#72a9d4"/>
<circle cx="443.8" cy="277.0" r="1.55" fill="#72a9d4"/>
<circle cx="444.7" cy="275.5" r="1.55" fill="#72a9d4"/>
<circle cx="444.0" cy="274.2" r="1.55" fill="#72a9d4"/>
<circle cx="442.8" cy="272.9" r="1.55" fill="#72a9d4"/>
<circle cx="447.3" cy="263.8" r="1.6" fill="#72a9d4"/>
<circle cx="452.5" cy="265.9" r="1.6" fill="#72a9d4"/>
<circle cx="454.6" cy="266.7" r="1.6" fill="#72a9d4"/>
<circle cx="457.7" cy="267.3" r="1.6" fill="#72a9d4"/>
<circle cx="468.0" cy="264.2" r="1.6" fill="#72a9d4"/>
<circle cx="470.1" cy="263.8" r="1.6" fill="#72a9d4"/>
<circle cx="475.2" cy="263.8" r="1.6" fill="#72a9d4"/>
<circle cx="459.3" cy="277.6" r="1.6" fill="#72a9d4"/>
<circle cx="471.1" cy="279.1" r="1.6" fill="#72a9d4"/>
<circle cx="474.2" cy="277.6" r="1.6" fill="#72a9d4"/>
<circle cx="484.5" cy="296.2" r="1.6" fill="#72a9d4"/>
<circle cx="494.9" cy="295.2" r="1.6" fill="#72a9d4"/>
<circle cx="481.4" cy="306.6" r="1.6" fill="#72a9d4"/>
<circle cx="494.9" cy="305.1" r="1.6" fill="#72a9d4"/>
<circle cx="462.8" cy="324.1" r="1.6" fill="#72a9d4"/>
<circle cx="459.7" cy="317.9" r="1.6" fill="#72a9d4"/>
<circle cx="540.4" cy="282.2" r="1.6" fill="#72a9d4"/>
<circle cx="541.5" cy="286.7" r="1.6" fill="#72a9d4"/>
<circle cx="484.5" cy="295.5" r="1.6" fill="#72a9d4"/>
<circle cx="494.9" cy="295.1" r="1.6" fill="#72a9d4"/>
<circle cx="513.8" cy="297.3" r="1.6" fill="#72a9d4"/>
<circle cx="526.0" cy="295.1" r="1.6" fill="#72a9d4"/>
<circle cx="494.9" cy="304.8" r="1.6" fill="#72a9d4"/>
<circle cx="514.2" cy="302.2" r="1.6" fill="#72a9d4"/>
<circle cx="526.0" cy="303.3" r="1.6" fill="#72a9d4"/>
<circle cx="518.2" cy="306.2" r="1.6" fill="#72a9d4"/>
<circle cx="515.6" cy="308.8" r="1.6" fill="#72a9d4"/>
<circle cx="541.5" cy="303.9" r="1.6" fill="#72a9d4"/>
<circle cx="543.7" cy="303.9" r="1.6" fill="#72a9d4"/>
<circle cx="525.3" cy="312.2" r="1.6" fill="#72a9d4"/>
<circle cx="481.6" cy="306.6" r="1.6" fill="#72a9d4"/>
<circle cx="504.9" cy="313.3" r="1.6" fill="#72a9d4"/>
<circle cx="506.0" cy="315.0" r="1.6" fill="#72a9d4"/>
<circle cx="511.6" cy="315.5" r="1.6" fill="#72a9d4"/>
<circle cx="513.8" cy="315.5" r="1.6" fill="#72a9d4"/>
<circle cx="516.0" cy="318.1" r="1.6" fill="#72a9d4"/>
<circle cx="518.2" cy="321.0" r="1.6" fill="#72a9d4"/>
<circle cx="498.3" cy="319.9" r="1.6" fill="#72a9d4"/>
<circle cx="501.6" cy="321.0" r="1.6" fill="#72a9d4"/>
<circle cx="506.0" cy="321.0" r="1.6" fill="#72a9d4"/>
<circle cx="491.6" cy="326.6" r="1.6" fill="#72a9d4"/>
<circle cx="499.4" cy="325.5" r="1.6" fill="#72a9d4"/>
<circle cx="503.8" cy="327.7" r="1.6" fill="#72a9d4"/>
<circle cx="512.7" cy="325.5" r="1.6" fill="#72a9d4"/>
<circle cx="511.6" cy="331.0" r="1.6" fill="#72a9d4"/>
<circle cx="510.5" cy="336.5" r="1.6" fill="#72a9d4"/>
<circle cx="513.8" cy="336.5" r="1.6" fill="#72a9d4"/>
<circle cx="524.9" cy="324.3" r="1.6" fill="#72a9d4"/>
<circle cx="482.7" cy="336.5" r="1.6" fill="#72a9d4"/>
<circle cx="491.6" cy="338.1" r="1.6" fill="#72a9d4"/>
<circle cx="497.2" cy="336.5" r="1.6" fill="#72a9d4"/>
<circle cx="502.7" cy="334.3" r="1.6" fill="#72a9d4"/>
<circle cx="502.7" cy="339.9" r="1.6" fill="#72a9d4"/>
<circle cx="470.5" cy="342.1" r="1.6" fill="#72a9d4"/>
<circle cx="481.6" cy="344.3" r="1.6" fill="#72a9d4"/>
<circle cx="524.9" cy="343.2" r="1.6" fill="#72a9d4"/>
<circle cx="497.8" cy="350.5" r="1.6" fill="#72a9d4"/>
<circle cx="472.8" cy="353.2" r="1.6" fill="#72a9d4"/>
<circle cx="475.0" cy="355.4" r="1.6" fill="#72a9d4"/>
<circle cx="481.6" cy="352.7" r="1.6" fill="#72a9d4"/>
<circle cx="485.4" cy="353.2" r="1.6" fill="#72a9d4"/>
<circle cx="513.8" cy="355.4" r="1.6" fill="#72a9d4"/>
<circle cx="482.7" cy="360.9" r="1.6" fill="#72a9d4"/>
<rect x="438.4" y="258.6" width="109.9" height="107.4" fill="none" stroke="#1a1a1a" stroke-width="1.1"/>
<text transform="translate(477.75,256.70) scale(0.9978,1)" font-family="Liberation Sans, sans-serif" font-weight="normal" font-size="9.14" fill="#111" xml:space="preserve" >r = 0.64</text>
<text transform="translate(485.00,392.60) scale(0.8369,1)" font-family="Liberation Sans, sans-serif" font-weight="normal" font-size="9.71" fill="#111" xml:space="preserve" >Chi1</text>
<line x1="439.9" y1="366.0" x2="439.9" y2="369.4" stroke="#1a1a1a" stroke-width="1"/>
<text transform="translate(438.30,379.60) scale(0.8969,1)" font-family="Liberation Sans, sans-serif" font-weight="normal" font-size="6.43" fill="#111">0</text>
<line x1="464.8" y1="366.0" x2="464.8" y2="369.4" stroke="#1a1a1a" stroke-width="1"/>
<text transform="translate(461.60,379.60) scale(0.8969,1)" font-family="Liberation Sans, sans-serif" font-weight="normal" font-size="6.43" fill="#111">10</text>
<line x1="489.7" y1="366.0" x2="489.7" y2="369.4" stroke="#1a1a1a" stroke-width="1"/>
<text transform="translate(486.50,379.60) scale(0.8969,1)" font-family="Liberation Sans, sans-serif" font-weight="normal" font-size="6.43" fill="#111">20</text>
<line x1="514.6" y1="366.0" x2="514.6" y2="369.4" stroke="#1a1a1a" stroke-width="1"/>
<text transform="translate(511.40,379.60) scale(0.8969,1)" font-family="Liberation Sans, sans-serif" font-weight="normal" font-size="6.43" fill="#111">30</text>
<line x1="539.5" y1="366.0" x2="539.5" y2="369.4" stroke="#1a1a1a" stroke-width="1"/>
<text transform="translate(536.30,379.60) scale(0.8969,1)" font-family="Liberation Sans, sans-serif" font-weight="normal" font-size="6.43" fill="#111">40</text>
<path d="M576.7,275.3 L585.4,282.6 L595.6,288.4 L605.7,292.7 L611.5,301.4 L617.3,310.1 L621.7,314.5 L623.1,321.7 L623.1,323.2 L620.2,327.5 L611.5,331.9 L601.4,333.3 L597.0,324.6 L591.2,314.5 L584.0,298.5 L578.2,281.1Z" fill="#72a9d4"/>
<circle cx="577.9" cy="274.0" r="1.55" fill="#72a9d4"/>
<circle cx="577.9" cy="277.1" r="1.55" fill="#72a9d4"/>
<circle cx="578.6" cy="277.0" r="1.55" fill="#72a9d4"/>
<circle cx="580.3" cy="278.6" r="1.55" fill="#72a9d4"/>
<circle cx="582.8" cy="280.2" r="1.55" fill="#72a9d4"/>
<circle cx="583.0" cy="280.5" r="1.55" fill="#72a9d4"/>
<circle cx="584.0" cy="282.2" r="1.55" fill="#72a9d4"/>
<circle cx="580.7" cy="275.0" r="1.55" fill="#72a9d4"/>
<circle cx="585.8" cy="281.9" r="1.55" fill="#72a9d4"/>
<circle cx="586.5" cy="283.1" r="1.55" fill="#72a9d4"/>
<circle cx="587.8" cy="283.7" r="1.55" fill="#72a9d4"/>
<circle cx="590.1" cy="284.2" r="1.55" fill="#72a9d4"/>
<circle cx="591.4" cy="285.8" r="1.55" fill="#72a9d4"/>
<circle cx="592.6" cy="287.2" r="1.55" fill="#72a9d4"/>
<circle cx="593.2" cy="287.1" r="1.55" fill="#72a9d4"/>
<circle cx="596.3" cy="284.6" r="1.55" fill="#72a9d4"/>
<circle cx="595.6" cy="287.4" r="1.55" fill="#72a9d4"/>
<circle cx="596.5" cy="288.6" r="1.55" fill="#72a9d4"/>
<circle cx="597.8" cy="289.1" r="1.55" fill="#72a9d4"/>
<circle cx="600.3" cy="289.6" r="1.55" fill="#72a9d4"/>
<circle cx="601.2" cy="290.3" r="1.55" fill="#72a9d4"/>
<circle cx="602.9" cy="291.7" r="1.55" fill="#72a9d4"/>
<circle cx="603.9" cy="291.3" r="1.55" fill="#72a9d4"/>
<circle cx="603.7" cy="295.1" r="1.55" fill="#72a9d4"/>
<circle cx="606.2" cy="292.2" r="1.55" fill="#72a9d4"/>
<circle cx="606.4" cy="294.2" r="1.55" fill="#72a9d4"/>
<circle cx="606.2" cy="294.8" r="1.55" fill="#72a9d4"/>
<circle cx="608.2" cy="297.0" r="1.55" fill="#72a9d4"/>
<circle cx="609.4" cy="298.1" r="1.55" fill="#72a9d4"/>
<circle cx="610.4" cy="299.8" r="1.55" fill="#72a9d4"/>
<circle cx="612.5" cy="296.8" r="1.55" fill="#72a9d4"/>
<circle cx="611.4" cy="300.8" r="1.55" fill="#72a9d4"/>
<circle cx="612.2" cy="303.2" r="1.55" fill="#72a9d4"/>
<circle cx="613.2" cy="304.1" r="1.55" fill="#72a9d4"/>
<circle cx="614.1" cy="305.4" r="1.55" fill="#72a9d4"/>
<circle cx="614.2" cy="306.7" r="1.55" fill="#72a9d4"/>
<circle cx="617.9" cy="309.6" r="1.55" fill="#72a9d4"/>
<circle cx="614.4" cy="301.3" r="1.55" fill="#72a9d4"/>
<circle cx="616.1" cy="309.6" r="1.55" fill="#72a9d4"/>
<circle cx="617.4" cy="310.6" r="1.55" fill="#72a9d4"/>
<circle cx="620.0" cy="313.8" r="1.55" fill="#72a9d4"/>
<circle cx="620.7" cy="313.1" r="1.55" fill="#72a9d4"/>
<circle cx="620.4" cy="309.2" r="1.55" fill="#72a9d4"/>
<circle cx="622.6" cy="314.8" r="1.55" fill="#72a9d4"/>
<circle cx="621.0" cy="316.0" r="1.55" fill="#72a9d4"/>
<circle cx="621.3" cy="317.3" r="1.55" fill="#72a9d4"/>
<circle cx="623.5" cy="318.5" r="1.55" fill="#72a9d4"/>
<circle cx="621.7" cy="320.1" r="1.55" fill="#72a9d4"/>
<circle cx="625.1" cy="316.1" r="1.55" fill="#72a9d4"/>
<circle cx="624.9" cy="321.5" r="1.55" fill="#72a9d4"/>
<circle cx="623.4" cy="323.0" r="1.55" fill="#72a9d4"/>
<circle cx="621.1" cy="325.6" r="1.55" fill="#72a9d4"/>
<circle cx="621.1" cy="325.8" r="1.55" fill="#72a9d4"/>
<circle cx="619.7" cy="327.7" r="1.55" fill="#72a9d4"/>
<circle cx="618.8" cy="328.9" r="1.55" fill="#72a9d4"/>
<circle cx="617.7" cy="328.4" r="1.55" fill="#72a9d4"/>
<circle cx="615.7" cy="330.3" r="1.55" fill="#72a9d4"/>
<circle cx="614.2" cy="331.5" r="1.55" fill="#72a9d4"/>
<circle cx="613.2" cy="331.6" r="1.55" fill="#72a9d4"/>
<circle cx="613.2" cy="334.6" r="1.55" fill="#72a9d4"/>
<circle cx="611.9" cy="332.2" r="1.55" fill="#72a9d4"/>
<circle cx="610.2" cy="333.4" r="1.55" fill="#72a9d4"/>
<circle cx="608.5" cy="333.1" r="1.55" fill="#72a9d4"/>
<circle cx="606.9" cy="332.9" r="1.55" fill="#72a9d4"/>
<circle cx="605.2" cy="333.1" r="1.55" fill="#72a9d4"/>
<circle cx="603.5" cy="331.8" r="1.55" fill="#72a9d4"/>
<circle cx="606.9" cy="335.8" r="1.55" fill="#72a9d4"/>
<circle cx="601.1" cy="332.5" r="1.55" fill="#72a9d4"/>
<circle cx="600.6" cy="331.6" r="1.55" fill="#72a9d4"/>
<circle cx="600.3" cy="330.2" r="1.55" fill="#72a9d4"/>
<circle cx="599.9" cy="329.4" r="1.55" fill="#72a9d4"/>
<circle cx="597.8" cy="327.6" r="1.55" fill="#72a9d4"/>
<circle cx="597.6" cy="325.9" r="1.55" fill="#72a9d4"/>
<circle cx="602.5" cy="327.4" r="1.55" fill="#72a9d4"/>
<circle cx="597.9" cy="325.0" r="1.55" fill="#72a9d4"/>
<circle cx="597.2" cy="323.6" r="1.55" fill="#72a9d4"/>
<circle cx="594.7" cy="322.3" r="1.55" fill="#72a9d4"/>
<circle cx="593.5" cy="319.7" r="1.55" fill="#72a9d4"/>
<circle cx="592.6" cy="319.4" r="1.55" fill="#72a9d4"/>
<circle cx="592.5" cy="317.6" r="1.55" fill="#72a9d4"/>
<circle cx="591.7" cy="316.2" r="1.55" fill="#72a9d4"/>
<circle cx="594.3" cy="315.7" r="1.55" fill="#72a9d4"/>
<circle cx="591.7" cy="314.8" r="1.55" fill="#72a9d4"/>
<circle cx="591.8" cy="313.6" r="1.55" fill="#72a9d4"/>
<circle cx="589.8" cy="311.4" r="1.55" fill="#72a9d4"/>
<circle cx="589.5" cy="309.8" r="1.55" fill="#72a9d4"/>
<circle cx="588.5" cy="308.6" r="1.55" fill="#72a9d4"/>
<circle cx="587.3" cy="306.6" r="1.55" fill="#72a9d4"/>
<circle cx="586.7" cy="304.7" r="1.55" fill="#72a9d4"/>
<circle cx="587.0" cy="303.4" r="1.55" fill="#72a9d4"/>
<circle cx="585.4" cy="301.4" r="1.55" fill="#72a9d4"/>
<circle cx="584.8" cy="300.2" r="1.55" fill="#72a9d4"/>
<circle cx="586.3" cy="310.2" r="1.55" fill="#72a9d4"/>
<circle cx="582.9" cy="302.6" r="1.55" fill="#72a9d4"/>
<circle cx="584.1" cy="298.8" r="1.55" fill="#72a9d4"/>
<circle cx="583.1" cy="296.5" r="1.55" fill="#72a9d4"/>
<circle cx="584.2" cy="295.6" r="1.55" fill="#72a9d4"/>
<circle cx="583.1" cy="293.2" r="1.55" fill="#72a9d4"/>
<circle cx="583.7" cy="292.6" r="1.55" fill="#72a9d4"/>
<circle cx="580.9" cy="290.8" r="1.55" fill="#72a9d4"/>
<circle cx="581.3" cy="288.9" r="1.55" fill="#72a9d4"/>
<circle cx="580.5" cy="287.8" r="1.55" fill="#72a9d4"/>
<circle cx="580.6" cy="286.6" r="1.55" fill="#72a9d4"/>
<circle cx="580.3" cy="285.0" r="1.55" fill="#72a9d4"/>
<circle cx="579.1" cy="282.2" r="1.55" fill="#72a9d4"/>
<circle cx="582.1" cy="283.9" r="1.55" fill="#72a9d4"/>
<circle cx="579.2" cy="295.6" r="1.55" fill="#72a9d4"/>
<circle cx="583.9" cy="287.5" r="1.55" fill="#72a9d4"/>
<circle cx="578.0" cy="281.3" r="1.55" fill="#72a9d4"/>
<circle cx="578.6" cy="279.6" r="1.55" fill="#72a9d4"/>
<circle cx="577.8" cy="277.8" r="1.55" fill="#72a9d4"/>
<circle cx="577.7" cy="276.4" r="1.55" fill="#72a9d4"/>
<circle cx="575.2" cy="269.4" r="1.6" fill="#72a9d4"/>
<circle cx="578.3" cy="272.0" r="1.6" fill="#72a9d4"/>
<circle cx="579.7" cy="272.9" r="1.6" fill="#72a9d4"/>
<circle cx="582.4" cy="263.8" r="1.6" fill="#72a9d4"/>
<circle cx="588.6" cy="265.2" r="1.6" fill="#72a9d4"/>
<circle cx="589.7" cy="267.3" r="1.6" fill="#72a9d4"/>
<circle cx="605.2" cy="264.2" r="1.6" fill="#72a9d4"/>
<circle cx="607.2" cy="263.8" r="1.6" fill="#72a9d4"/>
<circle cx="609.3" cy="263.8" r="1.6" fill="#72a9d4"/>
<circle cx="614.9" cy="263.8" r="1.6" fill="#72a9d4"/>
<circle cx="593.8" cy="277.6" r="1.6" fill="#72a9d4"/>
<circle cx="606.6" cy="278.7" r="1.6" fill="#72a9d4"/>
<circle cx="608.7" cy="277.6" r="1.6" fill="#72a9d4"/>
<circle cx="597.9" cy="289.0" r="1.6" fill="#72a9d4"/>
<circle cx="595.9" cy="324.1" r="1.6" fill="#72a9d4"/>
<circle cx="664.6" cy="282.7" r="1.6" fill="#72a9d4"/>
<circle cx="673.5" cy="286.7" r="1.6" fill="#72a9d4"/>
<circle cx="616.5" cy="295.5" r="1.6" fill="#72a9d4"/>
<circle cx="630.3" cy="295.1" r="1.6" fill="#72a9d4"/>
<circle cx="644.0" cy="297.3" r="1.6" fill="#72a9d4"/>
<circle cx="655.8" cy="295.1" r="1.6" fill="#72a9d4"/>
<circle cx="620.3" cy="304.8" r="1.6" fill="#72a9d4"/>
<circle cx="642.5" cy="302.2" r="1.6" fill="#72a9d4"/>
<circle cx="640.2" cy="306.2" r="1.6" fill="#72a9d4"/>
<circle cx="644.0" cy="308.4" r="1.6" fill="#72a9d4"/>
<circle cx="654.6" cy="303.3" r="1.6" fill="#72a9d4"/>
<circle cx="675.0" cy="303.9" r="1.6" fill="#72a9d4"/>
<circle cx="652.4" cy="312.2" r="1.6" fill="#72a9d4"/>
<circle cx="625.4" cy="313.7" r="1.6" fill="#72a9d4"/>
<circle cx="633.6" cy="313.3" r="1.6" fill="#72a9d4"/>
<circle cx="636.9" cy="315.0" r="1.6" fill="#72a9d4"/>
<circle cx="643.6" cy="315.5" r="1.6" fill="#72a9d4"/>
<circle cx="645.8" cy="316.6" r="1.6" fill="#72a9d4"/>
<circle cx="648.0" cy="318.1" r="1.6" fill="#72a9d4"/>
<circle cx="629.2" cy="318.8" r="1.6" fill="#72a9d4"/>
<circle cx="628.0" cy="321.0" r="1.6" fill="#72a9d4"/>
<circle cx="632.5" cy="321.0" r="1.6" fill="#72a9d4"/>
<circle cx="636.9" cy="322.1" r="1.6" fill="#72a9d4"/>
<circle cx="644.7" cy="321.0" r="1.6" fill="#72a9d4"/>
<circle cx="653.5" cy="324.3" r="1.6" fill="#72a9d4"/>
<circle cx="645.8" cy="325.5" r="1.6" fill="#72a9d4"/>
<circle cx="626.9" cy="326.6" r="1.6" fill="#72a9d4"/>
<circle cx="628.0" cy="327.7" r="1.6" fill="#72a9d4"/>
<circle cx="635.8" cy="327.7" r="1.6" fill="#72a9d4"/>
<circle cx="638.0" cy="329.9" r="1.6" fill="#72a9d4"/>
<circle cx="643.6" cy="331.0" r="1.6" fill="#72a9d4"/>
<circle cx="625.8" cy="331.0" r="1.6" fill="#72a9d4"/>
<circle cx="624.7" cy="337.6" r="1.6" fill="#72a9d4"/>
<circle cx="630.3" cy="334.3" r="1.6" fill="#72a9d4"/>
<circle cx="628.0" cy="336.5" r="1.6" fill="#72a9d4"/>
<circle cx="642.5" cy="336.5" r="1.6" fill="#72a9d4"/>
<circle cx="635.8" cy="339.9" r="1.6" fill="#72a9d4"/>
<circle cx="614.7" cy="336.5" r="1.6" fill="#72a9d4"/>
<circle cx="605.9" cy="342.1" r="1.6" fill="#72a9d4"/>
<circle cx="618.1" cy="343.9" r="1.6" fill="#72a9d4"/>
<circle cx="654.6" cy="343.2" r="1.6" fill="#72a9d4"/>
<circle cx="628.0" cy="350.5" r="1.6" fill="#72a9d4"/>
<circle cx="608.1" cy="355.4" r="1.6" fill="#72a9d4"/>
<circle cx="611.4" cy="352.1" r="1.6" fill="#72a9d4"/>
<circle cx="618.1" cy="353.2" r="1.6" fill="#72a9d4"/>
<circle cx="644.0" cy="355.4" r="1.6" fill="#72a9d4"/>
<circle cx="618.1" cy="360.9" r="1.6" fill="#72a9d4"/>
<circle cx="597.0" cy="288.9" r="1.6" fill="#72a9d4"/>
<rect x="570.3" y="258.6" width="110.3" height="107.4" fill="none" stroke="#1a1a1a" stroke-width="1.1"/>
<text transform="translate(609.85,256.70) scale(0.9978,1)" font-family="Liberation Sans, sans-serif" font-weight="normal" font-size="9.14" fill="#111" xml:space="preserve" >r = 0.63</text>
<text transform="translate(611.55,392.60) scale(0.9046,1)" font-family="Liberation Sans, sans-serif" font-weight="normal" font-size="9.71" fill="#111" xml:space="preserve" >MolMR</text>
<line x1="572.4" y1="366.0" x2="572.4" y2="369.4" stroke="#1a1a1a" stroke-width="1"/>
<text transform="translate(570.79,379.60) scale(0.9035,1)" font-family="Liberation Sans, sans-serif" font-weight="normal" font-size="6.43" fill="#111">0</text>
<line x1="605.1" y1="366.0" x2="605.1" y2="369.4" stroke="#1a1a1a" stroke-width="1"/>
<text transform="translate(600.30,379.60) scale(0.9035,1)" font-family="Liberation Sans, sans-serif" font-weight="normal" font-size="6.43" fill="#111">100</text>
<line x1="637.9" y1="366.0" x2="637.9" y2="369.4" stroke="#1a1a1a" stroke-width="1"/>
<text transform="translate(633.05,379.60) scale(0.9035,1)" font-family="Liberation Sans, sans-serif" font-weight="normal" font-size="6.43" fill="#111">200</text>
<line x1="670.6" y1="366.0" x2="670.6" y2="369.4" stroke="#1a1a1a" stroke-width="1"/>
<text transform="translate(665.80,379.60) scale(0.9035,1)" font-family="Liberation Sans, sans-serif" font-weight="normal" font-size="6.43" fill="#111">300</text>
</svg></body></html>
